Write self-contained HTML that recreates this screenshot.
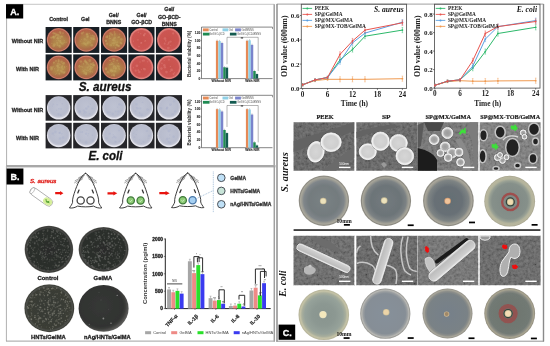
<!DOCTYPE html>
<html><head><meta charset="utf-8"><style>html,body{margin:0;padding:0;background:#fff;}svg{display:block;filter:blur(0.3px);}</style></head>
<body><svg width="550" height="346" viewBox="0 0 550 346"><defs><radialGradient id="gS" cx="50%" cy="50%" r="50%"><stop offset="0" stop-color="#ae8e52"/><stop offset="0.45" stop-color="#a8804a"/><stop offset="0.72" stop-color="#a66846"/><stop offset="0.86" stop-color="#ac6248"/><stop offset="0.93" stop-color="#d08070"/><stop offset="1" stop-color="#b46858"/></radialGradient>
<linearGradient id="ovS" x1="0" y1="0" x2="0.3" y2="1"><stop offset="0" stop-color="#c85a48" stop-opacity="0.5"/><stop offset="0.45" stop-color="#c07048" stop-opacity="0.25"/><stop offset="0.75" stop-color="#c8a050" stop-opacity="0.3"/><stop offset="1" stop-color="#c8a050" stop-opacity="0.1"/></linearGradient>
<radialGradient id="gR" cx="50%" cy="50%" r="50%"><stop offset="0" stop-color="#c8524e"/><stop offset="0.8" stop-color="#cc5652"/><stop offset="0.93" stop-color="#e28480"/><stop offset="1" stop-color="#d0706a"/></radialGradient>
<radialGradient id="gE" cx="50%" cy="45%" r="55%"><stop offset="0" stop-color="#bec2d2"/><stop offset="0.7" stop-color="#b8bccd"/><stop offset="0.82" stop-color="#c4c6d4"/><stop offset="0.9" stop-color="#e6e6ee"/><stop offset="1" stop-color="#d8d8e0"/></radialGradient>
<filter id="bl" x="-5%" y="-5%" width="110%" height="110%"><feGaussianBlur stdDeviation="0.45"/></filter>
<filter id="bl2" x="-5%" y="-5%" width="110%" height="110%"><feGaussianBlur stdDeviation="0.8"/></filter><filter id="bl4" x="-30%" y="-30%" width="160%" height="160%"><feGaussianBlur stdDeviation="0.6"/></filter><filter id="bl3" x="-5%" y="-5%" width="110%" height="110%"><feGaussianBlur stdDeviation="0.35"/></filter>
<filter id="noise" x="0" y="0" width="100%" height="100%"><feTurbulence type="fractalNoise" baseFrequency="0.35" numOctaves="3" seed="5"/><feColorMatrix type="matrix" values="1 0 0 0 -0.12  1 0 0 0 -0.12  1 0 0 0 -0.12  0 0 0 0 0.25"/></filter><radialGradient id="gB" cx="50%" cy="50%" r="50%"><stop offset="0" stop-color="#2a2c2a"/><stop offset="0.86" stop-color="#2c2e2c"/><stop offset="0.92" stop-color="#474845"/><stop offset="0.96" stop-color="#383936"/><stop offset="1" stop-color="#6e6e6a"/></radialGradient>
<radialGradient id="gB3" cx="50%" cy="50%" r="50%"><stop offset="0" stop-color="#383a34"/><stop offset="0.86" stop-color="#3a3c36"/><stop offset="0.93" stop-color="#4e504a"/><stop offset="0.97" stop-color="#3c3e38"/><stop offset="1" stop-color="#7a7a74"/></radialGradient>
<radialGradient id="gB4" cx="45%" cy="45%" r="55%"><stop offset="0" stop-color="#363836"/><stop offset="0.8" stop-color="#313331"/><stop offset="0.88" stop-color="#3a3b39"/><stop offset="0.94" stop-color="#4a4a48"/><stop offset="1" stop-color="#5a5a58"/></radialGradient><radialGradient id="cell" cx="50%" cy="50%" r="50%"><stop offset="0" stop-color="#d6d6d6"/><stop offset="0.7" stop-color="#cecece"/><stop offset="0.86" stop-color="#e6e6e6"/><stop offset="1" stop-color="#fafafa"/></radialGradient>
<radialGradient id="cell2" cx="50%" cy="50%" r="50%"><stop offset="0" stop-color="#9c9c9c"/><stop offset="0.55" stop-color="#a8a8a8"/><stop offset="0.8" stop-color="#d8d8d8"/><stop offset="1" stop-color="#f2f2f2"/></radialGradient>
<linearGradient id="rodg" x1="0" y1="0" x2="0" y2="1"><stop offset="0" stop-color="#f0f0f0"/><stop offset="0.2" stop-color="#cfcfcf"/><stop offset="0.8" stop-color="#bdbdbd"/><stop offset="1" stop-color="#ececec"/></linearGradient><radialGradient id="p1" cx="50%" cy="50%" r="50%"><stop offset="0" stop-color="#7a8284"/><stop offset="0.6" stop-color="#737b7e"/><stop offset="0.8" stop-color="#80868a"/><stop offset="0.88" stop-color="#9c9c94"/><stop offset="0.93" stop-color="#aaa89c"/><stop offset="0.97" stop-color="#8e8c84"/><stop offset="1" stop-color="#9a988e"/></radialGradient>
<radialGradient id="p2" cx="50%" cy="50%" r="50%"><stop offset="0" stop-color="#737b7e"/><stop offset="0.6" stop-color="#6c7478"/><stop offset="0.8" stop-color="#7c8284"/><stop offset="0.88" stop-color="#9a9a92"/><stop offset="0.93" stop-color="#a8a69a"/><stop offset="0.97" stop-color="#8a8880"/><stop offset="1" stop-color="#9a988e"/></radialGradient>
<radialGradient id="p3" cx="50%" cy="50%" r="50%"><stop offset="0" stop-color="#646e74"/><stop offset="0.55" stop-color="#687076"/><stop offset="0.8" stop-color="#7e8484"/><stop offset="0.88" stop-color="#9e9c92"/><stop offset="0.93" stop-color="#aaa89c"/><stop offset="0.97" stop-color="#8c8a82"/><stop offset="1" stop-color="#a09e94"/></radialGradient>
<radialGradient id="p4" cx="50%" cy="50%" r="50%"><stop offset="0" stop-color="#7e8884"/><stop offset="0.7" stop-color="#86908a"/><stop offset="0.8" stop-color="#98a094"/><stop offset="0.88" stop-color="#b4b49c"/><stop offset="0.95" stop-color="#b8b69e"/><stop offset="1" stop-color="#a4a28c"/></radialGradient>
<radialGradient id="pe1" cx="50%" cy="50%" r="50%"><stop offset="0" stop-color="#88948e"/><stop offset="0.45" stop-color="#8c9892"/><stop offset="0.75" stop-color="#96a29a"/><stop offset="0.86" stop-color="#a8ae9c"/><stop offset="0.93" stop-color="#c4c2a6"/><stop offset="1" stop-color="#b4b298"/></radialGradient>
<radialGradient id="pe2" cx="50%" cy="50%" r="50%"><stop offset="0" stop-color="#86909a"/><stop offset="0.8" stop-color="#868e96"/><stop offset="0.88" stop-color="#9a9ea0"/><stop offset="0.94" stop-color="#b8b8b4"/><stop offset="1" stop-color="#8e8e8a"/></radialGradient>
<radialGradient id="pe3" cx="50%" cy="50%" r="50%"><stop offset="0" stop-color="#76808a"/><stop offset="0.8" stop-color="#7a8286"/><stop offset="0.88" stop-color="#8c8e8a"/><stop offset="0.94" stop-color="#a8a69a"/><stop offset="1" stop-color="#8e8c84"/></radialGradient>
<radialGradient id="pe4" cx="50%" cy="50%" r="50%"><stop offset="0" stop-color="#6c746e"/><stop offset="0.8" stop-color="#727a74"/><stop offset="0.88" stop-color="#8a8c84"/><stop offset="0.94" stop-color="#a8a490"/><stop offset="1" stop-color="#8e8a7c"/></radialGradient></defs><rect width="550" height="346" fill="#fff"/><line x1="6.5" y1="4.3" x2="274.3" y2="4.3" stroke="#b8b8b8" stroke-width="0.8" /><line x1="6.6" y1="4.3" x2="6.6" y2="166" stroke="#b0b0b0" stroke-width="1" /><line x1="274.2" y1="4.3" x2="274.2" y2="166" stroke="#a0a0a0" stroke-width="1.5" /><rect x="6" y="165" width="269.5" height="2.4" fill="#a8a8a8" /><rect x="6" y="4.2" width="17.2" height="14.3" fill="#000" /><text x="10.2" y="15.2" font-family="Liberation Sans" font-size="9" font-weight="bold" font-style="normal" fill="#fff" text-anchor="start" stroke="#fff" stroke-width="0.3" >A.</text><text x="58.6" y="20.5" font-family="Liberation Sans" font-size="5.3" font-weight="bold" font-style="normal" fill="#2a2a2a" text-anchor="middle" stroke="#2a2a2a" stroke-width="0.3" >Control</text><text x="85.3" y="20.5" font-family="Liberation Sans" font-size="5.3" font-weight="bold" font-style="normal" fill="#2a2a2a" text-anchor="middle" stroke="#2a2a2a" stroke-width="0.3" >Gel</text><text x="113.7" y="17.2" font-family="Liberation Sans" font-size="5.3" font-weight="bold" font-style="normal" fill="#2a2a2a" text-anchor="middle" stroke="#2a2a2a" stroke-width="0.3" >Gel/</text><text x="113.7" y="23.6" font-family="Liberation Sans" font-size="5.3" font-weight="bold" font-style="normal" fill="#2a2a2a" text-anchor="middle" stroke="#2a2a2a" stroke-width="0.3" >BNNS</text><text x="141.6" y="17.2" font-family="Liberation Sans" font-size="5.3" font-weight="bold" font-style="normal" fill="#2a2a2a" text-anchor="middle" stroke="#2a2a2a" stroke-width="0.3" >Gel/</text><text x="141.6" y="23.9" font-family="Liberation Sans" font-size="5.3" font-weight="bold" font-style="normal" fill="#2a2a2a" text-anchor="middle" stroke="#2a2a2a" stroke-width="0.3" >GO-βCD</text><text x="169.3" y="11.4" font-family="Liberation Sans" font-size="5.3" font-weight="bold" font-style="normal" fill="#2a2a2a" text-anchor="middle" stroke="#2a2a2a" stroke-width="0.3" >Gel/</text><text x="169.3" y="18.6" font-family="Liberation Sans" font-size="5.3" font-weight="bold" font-style="normal" fill="#2a2a2a" text-anchor="middle" stroke="#2a2a2a" stroke-width="0.3" >GO-βCD-</text><text x="169.3" y="25.9" font-family="Liberation Sans" font-size="5.3" font-weight="bold" font-style="normal" fill="#2a2a2a" text-anchor="middle" stroke="#2a2a2a" stroke-width="0.3" >BNNS</text><text x="27.5" y="42.6" font-family="Liberation Sans" font-size="5.5" font-weight="bold" font-style="normal" fill="#2a2a2a" text-anchor="middle" stroke="#2a2a2a" stroke-width="0.3" >Without NIR</text><text x="27.5" y="70.5" font-family="Liberation Sans" font-size="5.5" font-weight="bold" font-style="normal" fill="#2a2a2a" text-anchor="middle" stroke="#2a2a2a" stroke-width="0.3" >With NIR</text><text x="27.5" y="111.9" font-family="Liberation Sans" font-size="5.5" font-weight="bold" font-style="normal" fill="#2a2a2a" text-anchor="middle" stroke="#2a2a2a" stroke-width="0.3" >Without NIR</text><text x="27.5" y="139.9" font-family="Liberation Sans" font-size="5.5" font-weight="bold" font-style="normal" fill="#2a2a2a" text-anchor="middle" stroke="#2a2a2a" stroke-width="0.3" >With NIR</text><rect x="45.6" y="27.0" width="26.1" height="25.9" fill="#181e24" /><g filter="url(#bl)"><circle cx="58.650000000000006" cy="39.95" r="11.85" fill="url(#gS)"/><circle cx="58.650000000000006" cy="39.95" r="10.65" fill="url(#ovS)"/><circle cx="57.2" cy="42.9" r="1.1" fill="#c4a460" opacity="0.45"/><circle cx="64.1" cy="42.6" r="0.8" fill="#c4a460" opacity="0.45"/><circle cx="64.2" cy="42.1" r="0.5" fill="#c4a460" opacity="0.45"/><circle cx="56.6" cy="40.8" r="0.6" fill="#c4a460" opacity="0.45"/><circle cx="51.9" cy="43.4" r="0.6" fill="#c4a460" opacity="0.45"/><circle cx="59.8" cy="46.5" r="1.4" fill="#c4a460" opacity="0.45"/><circle cx="54.0" cy="37.5" r="1.4" fill="#c4a460" opacity="0.45"/><circle cx="66.1" cy="42.2" r="0.8" fill="#c4a460" opacity="0.45"/><circle cx="60.4" cy="42.2" r="0.8" fill="#c4a460" opacity="0.45"/><circle cx="60.1" cy="36.7" r="1.0" fill="#c4a460" opacity="0.45"/><circle cx="55.4" cy="36.0" r="1.0" fill="#c4a460" opacity="0.45"/><circle cx="60.5" cy="40.7" r="0.7" fill="#c4a460" opacity="0.45"/><circle cx="56.3" cy="35.0" r="0.8" fill="#c4a460" opacity="0.45"/><circle cx="53.8" cy="37.1" r="0.8" fill="#c4a460" opacity="0.45"/><circle cx="60.6" cy="33.2" r="0.7" fill="#c4a460" opacity="0.45"/><circle cx="53.2" cy="37.2" r="1.3" fill="#c4a460" opacity="0.45"/><circle cx="58.1" cy="35.5" r="1.4" fill="#c4a460" opacity="0.45"/><circle cx="62.6" cy="43.6" r="1.2" fill="#c4a460" opacity="0.45"/><circle cx="62.0" cy="44.7" r="0.5" fill="#c4a460" opacity="0.45"/><circle cx="55.1" cy="33.6" r="1.0" fill="#c4a460" opacity="0.45"/><circle cx="62.0" cy="36.7" r="1.1" fill="#c4a460" opacity="0.45"/><circle cx="53.4" cy="36.4" r="0.9" fill="#c4a460" opacity="0.45"/><circle cx="63.0" cy="33.1" r="0.9" fill="#c4a460" opacity="0.45"/><circle cx="57.6" cy="38.2" r="1.1" fill="#c4a460" opacity="0.45"/><circle cx="53.6" cy="33.3" r="1.2" fill="#c4a460" opacity="0.45"/><circle cx="57.5" cy="45.0" r="1.1" fill="#c4a460" opacity="0.45"/><circle cx="64.3" cy="40.8" r="0.7" fill="#c4a460" opacity="0.45"/><circle cx="60.2" cy="41.3" r="1.2" fill="#c4a460" opacity="0.45"/><circle cx="61.5" cy="43.0" r="0.9" fill="#c4a460" opacity="0.45"/><circle cx="60.3" cy="38.2" r="0.9" fill="#c4a460" opacity="0.45"/><circle cx="51.2" cy="37.6" r="1.2" fill="#c4a460" opacity="0.45"/><circle cx="61.5" cy="36.6" r="0.9" fill="#c4a460" opacity="0.45"/><circle cx="53.7" cy="46.0" r="1.4" fill="#c4a460" opacity="0.45"/><circle cx="60.7" cy="42.8" r="0.7" fill="#c4a460" opacity="0.45"/><circle cx="59.3" cy="45.7" r="1.0" fill="#c4a460" opacity="0.45"/><circle cx="58.6" cy="40.5" r="0.9" fill="#c4a460" opacity="0.45"/><circle cx="54.4" cy="44.6" r="1.4" fill="#c4a460" opacity="0.45"/><circle cx="56.5" cy="34.4" r="1.1" fill="#c4a460" opacity="0.45"/><circle cx="57.8" cy="38.2" r="1.3" fill="#c4a460" opacity="0.45"/><circle cx="60.1" cy="32.3" r="1.2" fill="#c4a460" opacity="0.45"/></g><rect x="73.2" y="27.0" width="26.1" height="25.9" fill="#181e24" /><g filter="url(#bl)"><circle cx="86.25" cy="39.95" r="11.85" fill="url(#gS)"/><circle cx="86.25" cy="39.95" r="10.65" fill="url(#ovS)"/><circle cx="82.1" cy="43.3" r="0.6" fill="#c4a460" opacity="0.45"/><circle cx="84.9" cy="38.4" r="0.6" fill="#c4a460" opacity="0.45"/><circle cx="87.1" cy="43.2" r="0.8" fill="#c4a460" opacity="0.45"/><circle cx="86.4" cy="40.0" r="0.6" fill="#c4a460" opacity="0.45"/><circle cx="90.3" cy="42.9" r="0.5" fill="#c4a460" opacity="0.45"/><circle cx="90.9" cy="35.3" r="0.6" fill="#c4a460" opacity="0.45"/><circle cx="86.2" cy="44.9" r="0.8" fill="#c4a460" opacity="0.45"/><circle cx="91.8" cy="45.3" r="1.4" fill="#c4a460" opacity="0.45"/><circle cx="80.6" cy="41.2" r="0.6" fill="#c4a460" opacity="0.45"/><circle cx="90.2" cy="42.9" r="0.7" fill="#c4a460" opacity="0.45"/><circle cx="87.8" cy="37.0" r="0.5" fill="#c4a460" opacity="0.45"/><circle cx="92.0" cy="38.1" r="0.6" fill="#c4a460" opacity="0.45"/><circle cx="84.9" cy="39.6" r="1.0" fill="#c4a460" opacity="0.45"/><circle cx="93.9" cy="38.9" r="1.1" fill="#c4a460" opacity="0.45"/><circle cx="85.9" cy="45.0" r="0.7" fill="#c4a460" opacity="0.45"/><circle cx="87.1" cy="33.9" r="1.2" fill="#c4a460" opacity="0.45"/><circle cx="84.4" cy="43.4" r="1.2" fill="#c4a460" opacity="0.45"/><circle cx="93.9" cy="39.2" r="1.2" fill="#c4a460" opacity="0.45"/><circle cx="89.2" cy="33.4" r="0.7" fill="#c4a460" opacity="0.45"/><circle cx="81.3" cy="39.4" r="0.5" fill="#c4a460" opacity="0.45"/><circle cx="90.6" cy="40.7" r="0.7" fill="#c4a460" opacity="0.45"/><circle cx="83.4" cy="32.3" r="0.9" fill="#c4a460" opacity="0.45"/><circle cx="93.9" cy="36.7" r="1.4" fill="#c4a460" opacity="0.45"/><circle cx="83.7" cy="42.9" r="0.7" fill="#c4a460" opacity="0.45"/><circle cx="87.5" cy="43.5" r="1.1" fill="#c4a460" opacity="0.45"/><circle cx="92.5" cy="35.5" r="0.9" fill="#c4a460" opacity="0.45"/><circle cx="82.0" cy="33.8" r="0.6" fill="#c4a460" opacity="0.45"/><circle cx="82.0" cy="33.2" r="1.2" fill="#c4a460" opacity="0.45"/><circle cx="86.3" cy="34.2" r="0.7" fill="#c4a460" opacity="0.45"/><circle cx="87.4" cy="35.3" r="1.2" fill="#c4a460" opacity="0.45"/><circle cx="91.4" cy="39.0" r="0.9" fill="#c4a460" opacity="0.45"/><circle cx="93.0" cy="37.6" r="0.7" fill="#c4a460" opacity="0.45"/><circle cx="88.5" cy="42.3" r="1.3" fill="#c4a460" opacity="0.45"/><circle cx="87.4" cy="37.0" r="1.2" fill="#c4a460" opacity="0.45"/><circle cx="93.0" cy="39.1" r="0.8" fill="#c4a460" opacity="0.45"/><circle cx="83.4" cy="39.0" r="0.5" fill="#c4a460" opacity="0.45"/><circle cx="92.9" cy="38.7" r="1.0" fill="#c4a460" opacity="0.45"/><circle cx="91.3" cy="37.7" r="1.3" fill="#c4a460" opacity="0.45"/><circle cx="88.0" cy="36.5" r="0.7" fill="#c4a460" opacity="0.45"/><circle cx="85.2" cy="43.9" r="1.0" fill="#c4a460" opacity="0.45"/></g><rect x="101.0" y="27.0" width="26.1" height="25.9" fill="#181e24" /><g filter="url(#bl)"><circle cx="114.05" cy="39.95" r="11.85" fill="url(#gS)"/><circle cx="114.05" cy="39.95" r="10.65" fill="url(#ovS)"/><circle cx="113.7" cy="45.3" r="0.6" fill="#c4a460" opacity="0.45"/><circle cx="118.2" cy="37.3" r="0.9" fill="#c4a460" opacity="0.45"/><circle cx="107.2" cy="36.0" r="0.9" fill="#c4a460" opacity="0.45"/><circle cx="119.2" cy="37.0" r="1.0" fill="#c4a460" opacity="0.45"/><circle cx="112.9" cy="39.8" r="0.9" fill="#c4a460" opacity="0.45"/><circle cx="114.3" cy="40.4" r="1.2" fill="#c4a460" opacity="0.45"/><circle cx="116.7" cy="45.0" r="1.2" fill="#c4a460" opacity="0.45"/><circle cx="109.6" cy="38.3" r="1.0" fill="#c4a460" opacity="0.45"/><circle cx="107.1" cy="37.4" r="0.6" fill="#c4a460" opacity="0.45"/><circle cx="110.2" cy="38.4" r="0.7" fill="#c4a460" opacity="0.45"/><circle cx="114.9" cy="34.1" r="1.0" fill="#c4a460" opacity="0.45"/><circle cx="114.5" cy="32.0" r="0.9" fill="#c4a460" opacity="0.45"/><circle cx="109.5" cy="36.1" r="1.0" fill="#c4a460" opacity="0.45"/><circle cx="112.1" cy="34.7" r="1.0" fill="#c4a460" opacity="0.45"/><circle cx="106.0" cy="41.1" r="1.1" fill="#c4a460" opacity="0.45"/><circle cx="119.8" cy="34.3" r="0.7" fill="#c4a460" opacity="0.45"/><circle cx="106.5" cy="37.0" r="1.3" fill="#c4a460" opacity="0.45"/><circle cx="115.9" cy="42.2" r="0.9" fill="#c4a460" opacity="0.45"/><circle cx="117.7" cy="41.8" r="0.6" fill="#c4a460" opacity="0.45"/><circle cx="110.5" cy="33.5" r="1.3" fill="#c4a460" opacity="0.45"/><circle cx="118.0" cy="45.8" r="1.1" fill="#c4a460" opacity="0.45"/><circle cx="118.9" cy="46.1" r="1.4" fill="#c4a460" opacity="0.45"/><circle cx="115.6" cy="48.0" r="0.9" fill="#c4a460" opacity="0.45"/><circle cx="105.8" cy="40.6" r="1.2" fill="#c4a460" opacity="0.45"/><circle cx="116.9" cy="44.6" r="1.0" fill="#c4a460" opacity="0.45"/><circle cx="112.1" cy="43.1" r="0.8" fill="#c4a460" opacity="0.45"/><circle cx="113.8" cy="38.8" r="1.0" fill="#c4a460" opacity="0.45"/><circle cx="113.0" cy="40.4" r="0.8" fill="#c4a460" opacity="0.45"/><circle cx="109.8" cy="35.8" r="0.6" fill="#c4a460" opacity="0.45"/><circle cx="121.4" cy="39.3" r="1.4" fill="#c4a460" opacity="0.45"/><circle cx="117.5" cy="42.6" r="0.5" fill="#c4a460" opacity="0.45"/><circle cx="114.8" cy="35.7" r="0.6" fill="#c4a460" opacity="0.45"/><circle cx="107.0" cy="43.7" r="1.2" fill="#c4a460" opacity="0.45"/><circle cx="113.9" cy="43.2" r="1.3" fill="#c4a460" opacity="0.45"/><circle cx="107.7" cy="37.0" r="0.6" fill="#c4a460" opacity="0.45"/><circle cx="120.5" cy="42.4" r="0.9" fill="#c4a460" opacity="0.45"/><circle cx="121.3" cy="43.5" r="1.1" fill="#c4a460" opacity="0.45"/><circle cx="114.8" cy="37.7" r="1.3" fill="#c4a460" opacity="0.45"/><circle cx="121.1" cy="43.1" r="0.9" fill="#c4a460" opacity="0.45"/><circle cx="110.8" cy="45.2" r="1.3" fill="#c4a460" opacity="0.45"/></g><rect x="128.4" y="27.0" width="26.1" height="25.9" fill="#181e24" /><g filter="url(#bl)"><circle cx="141.45000000000002" cy="39.95" r="11.85" fill="url(#gR)"/><circle cx="141.1" cy="42.9" r="1.0" fill="#e0807a" opacity="0.45"/><circle cx="141.7" cy="42.7" r="0.6" fill="#e0807a" opacity="0.45"/><circle cx="145.0" cy="41.1" r="0.8" fill="#e0807a" opacity="0.45"/><circle cx="139.0" cy="46.8" r="0.8" fill="#e0807a" opacity="0.45"/><circle cx="137.9" cy="39.9" r="0.8" fill="#e0807a" opacity="0.45"/><circle cx="145.6" cy="40.4" r="0.5" fill="#e0807a" opacity="0.45"/><circle cx="140.8" cy="33.8" r="0.7" fill="#e0807a" opacity="0.45"/><circle cx="133.5" cy="41.2" r="0.6" fill="#e0807a" opacity="0.45"/><circle cx="143.8" cy="35.0" r="0.9" fill="#e0807a" opacity="0.45"/><circle cx="144.1" cy="35.4" r="1.0" fill="#e0807a" opacity="0.45"/><circle cx="138.3" cy="32.3" r="0.8" fill="#e0807a" opacity="0.45"/><circle cx="144.9" cy="33.8" r="1.1" fill="#e0807a" opacity="0.45"/></g><rect x="155.9" y="27.0" width="26.1" height="25.9" fill="#181e24" /><g filter="url(#bl)"><circle cx="168.95000000000002" cy="39.95" r="11.85" fill="url(#gR)"/><circle cx="164.9" cy="42.7" r="0.5" fill="#e0807a" opacity="0.45"/><circle cx="170.5" cy="41.6" r="1.2" fill="#e0807a" opacity="0.45"/><circle cx="168.8" cy="43.3" r="0.6" fill="#e0807a" opacity="0.45"/><circle cx="173.2" cy="33.4" r="1.1" fill="#e0807a" opacity="0.45"/><circle cx="168.1" cy="44.0" r="0.8" fill="#e0807a" opacity="0.45"/><circle cx="165.7" cy="40.8" r="0.9" fill="#e0807a" opacity="0.45"/><circle cx="168.3" cy="48.1" r="1.4" fill="#e0807a" opacity="0.45"/><circle cx="165.0" cy="38.7" r="1.4" fill="#e0807a" opacity="0.45"/><circle cx="167.1" cy="44.6" r="0.5" fill="#e0807a" opacity="0.45"/><circle cx="164.7" cy="43.8" r="1.0" fill="#e0807a" opacity="0.45"/><circle cx="170.7" cy="45.6" r="0.5" fill="#e0807a" opacity="0.45"/><circle cx="168.7" cy="42.4" r="0.9" fill="#e0807a" opacity="0.45"/></g><rect x="45.6" y="54.4" width="26.1" height="26.0" fill="#181e24" /><g filter="url(#bl)"><circle cx="58.650000000000006" cy="67.4" r="11.9" fill="url(#gS)"/><circle cx="58.650000000000006" cy="67.4" r="10.700000000000001" fill="url(#ovS)"/><circle cx="59.9" cy="67.7" r="0.8" fill="#c4a460" opacity="0.45"/><circle cx="59.3" cy="73.8" r="1.0" fill="#c4a460" opacity="0.45"/><circle cx="58.7" cy="60.6" r="1.1" fill="#c4a460" opacity="0.45"/><circle cx="62.5" cy="63.8" r="0.8" fill="#c4a460" opacity="0.45"/><circle cx="61.9" cy="67.1" r="1.2" fill="#c4a460" opacity="0.45"/><circle cx="57.6" cy="66.0" r="1.3" fill="#c4a460" opacity="0.45"/><circle cx="63.8" cy="63.2" r="1.2" fill="#c4a460" opacity="0.45"/><circle cx="59.8" cy="64.5" r="1.0" fill="#c4a460" opacity="0.45"/><circle cx="51.0" cy="67.2" r="1.2" fill="#c4a460" opacity="0.45"/><circle cx="61.6" cy="61.7" r="1.3" fill="#c4a460" opacity="0.45"/><circle cx="55.8" cy="61.0" r="0.7" fill="#c4a460" opacity="0.45"/><circle cx="61.7" cy="68.0" r="0.8" fill="#c4a460" opacity="0.45"/><circle cx="64.7" cy="72.1" r="1.0" fill="#c4a460" opacity="0.45"/><circle cx="54.0" cy="62.6" r="1.1" fill="#c4a460" opacity="0.45"/><circle cx="58.2" cy="67.4" r="1.2" fill="#c4a460" opacity="0.45"/><circle cx="58.6" cy="61.4" r="1.0" fill="#c4a460" opacity="0.45"/><circle cx="57.5" cy="65.6" r="1.2" fill="#c4a460" opacity="0.45"/><circle cx="58.6" cy="69.7" r="0.7" fill="#c4a460" opacity="0.45"/><circle cx="58.2" cy="63.6" r="1.2" fill="#c4a460" opacity="0.45"/><circle cx="64.5" cy="66.5" r="0.8" fill="#c4a460" opacity="0.45"/><circle cx="51.8" cy="68.3" r="1.2" fill="#c4a460" opacity="0.45"/><circle cx="53.7" cy="62.9" r="0.6" fill="#c4a460" opacity="0.45"/><circle cx="61.2" cy="70.8" r="1.2" fill="#c4a460" opacity="0.45"/><circle cx="56.5" cy="73.4" r="0.5" fill="#c4a460" opacity="0.45"/><circle cx="62.7" cy="69.0" r="1.1" fill="#c4a460" opacity="0.45"/><circle cx="56.2" cy="60.9" r="0.8" fill="#c4a460" opacity="0.45"/><circle cx="53.0" cy="66.8" r="0.9" fill="#c4a460" opacity="0.45"/><circle cx="64.5" cy="72.8" r="0.7" fill="#c4a460" opacity="0.45"/><circle cx="66.7" cy="66.3" r="0.5" fill="#c4a460" opacity="0.45"/><circle cx="51.3" cy="69.3" r="1.4" fill="#c4a460" opacity="0.45"/><circle cx="54.5" cy="68.8" r="0.7" fill="#c4a460" opacity="0.45"/><circle cx="62.3" cy="66.1" r="1.0" fill="#c4a460" opacity="0.45"/><circle cx="62.5" cy="72.1" r="1.4" fill="#c4a460" opacity="0.45"/><circle cx="63.8" cy="73.0" r="1.0" fill="#c4a460" opacity="0.45"/><circle cx="64.0" cy="62.8" r="0.7" fill="#c4a460" opacity="0.45"/><circle cx="63.3" cy="63.9" r="0.5" fill="#c4a460" opacity="0.45"/><circle cx="64.5" cy="67.5" r="0.9" fill="#c4a460" opacity="0.45"/><circle cx="57.6" cy="70.4" r="0.8" fill="#c4a460" opacity="0.45"/><circle cx="55.5" cy="74.4" r="0.5" fill="#c4a460" opacity="0.45"/><circle cx="58.7" cy="59.7" r="0.6" fill="#c4a460" opacity="0.45"/></g><rect x="73.2" y="54.4" width="26.1" height="26.0" fill="#181e24" /><g filter="url(#bl)"><circle cx="86.25" cy="67.4" r="11.9" fill="url(#gS)"/><circle cx="86.25" cy="67.4" r="10.700000000000001" fill="url(#ovS)"/><circle cx="92.6" cy="64.2" r="1.3" fill="#c4a460" opacity="0.45"/><circle cx="85.0" cy="72.4" r="0.9" fill="#c4a460" opacity="0.45"/><circle cx="92.7" cy="67.3" r="0.8" fill="#c4a460" opacity="0.45"/><circle cx="82.3" cy="69.3" r="0.5" fill="#c4a460" opacity="0.45"/><circle cx="92.4" cy="72.0" r="0.8" fill="#c4a460" opacity="0.45"/><circle cx="90.1" cy="65.7" r="0.7" fill="#c4a460" opacity="0.45"/><circle cx="82.6" cy="67.1" r="0.8" fill="#c4a460" opacity="0.45"/><circle cx="93.9" cy="65.3" r="1.2" fill="#c4a460" opacity="0.45"/><circle cx="80.8" cy="61.5" r="1.3" fill="#c4a460" opacity="0.45"/><circle cx="79.5" cy="65.2" r="0.5" fill="#c4a460" opacity="0.45"/><circle cx="85.6" cy="61.8" r="1.2" fill="#c4a460" opacity="0.45"/><circle cx="83.5" cy="63.9" r="0.5" fill="#c4a460" opacity="0.45"/><circle cx="88.9" cy="66.1" r="0.9" fill="#c4a460" opacity="0.45"/><circle cx="83.7" cy="71.2" r="1.2" fill="#c4a460" opacity="0.45"/><circle cx="90.5" cy="66.8" r="1.1" fill="#c4a460" opacity="0.45"/><circle cx="84.3" cy="73.4" r="0.9" fill="#c4a460" opacity="0.45"/><circle cx="87.9" cy="70.3" r="0.7" fill="#c4a460" opacity="0.45"/><circle cx="91.2" cy="64.1" r="0.7" fill="#c4a460" opacity="0.45"/><circle cx="93.2" cy="62.7" r="0.9" fill="#c4a460" opacity="0.45"/><circle cx="88.6" cy="70.2" r="0.6" fill="#c4a460" opacity="0.45"/><circle cx="84.9" cy="69.5" r="0.7" fill="#c4a460" opacity="0.45"/><circle cx="85.9" cy="73.7" r="1.3" fill="#c4a460" opacity="0.45"/><circle cx="86.2" cy="62.0" r="0.9" fill="#c4a460" opacity="0.45"/><circle cx="81.2" cy="66.6" r="0.8" fill="#c4a460" opacity="0.45"/><circle cx="90.3" cy="69.1" r="1.4" fill="#c4a460" opacity="0.45"/><circle cx="90.4" cy="71.6" r="1.1" fill="#c4a460" opacity="0.45"/><circle cx="88.8" cy="64.4" r="0.7" fill="#c4a460" opacity="0.45"/><circle cx="86.3" cy="72.7" r="0.9" fill="#c4a460" opacity="0.45"/><circle cx="93.7" cy="65.2" r="1.3" fill="#c4a460" opacity="0.45"/><circle cx="87.7" cy="67.6" r="1.1" fill="#c4a460" opacity="0.45"/><circle cx="90.8" cy="63.9" r="1.0" fill="#c4a460" opacity="0.45"/><circle cx="91.5" cy="67.4" r="1.3" fill="#c4a460" opacity="0.45"/><circle cx="89.8" cy="60.5" r="1.4" fill="#c4a460" opacity="0.45"/><circle cx="86.3" cy="70.2" r="0.6" fill="#c4a460" opacity="0.45"/><circle cx="79.4" cy="66.4" r="1.3" fill="#c4a460" opacity="0.45"/><circle cx="85.1" cy="60.7" r="1.2" fill="#c4a460" opacity="0.45"/><circle cx="80.2" cy="69.1" r="0.5" fill="#c4a460" opacity="0.45"/><circle cx="87.1" cy="63.4" r="1.3" fill="#c4a460" opacity="0.45"/><circle cx="83.4" cy="63.7" r="0.6" fill="#c4a460" opacity="0.45"/><circle cx="86.2" cy="74.1" r="1.1" fill="#c4a460" opacity="0.45"/></g><rect x="101.0" y="54.4" width="26.1" height="26.0" fill="#181e24" /><g filter="url(#bl)"><circle cx="114.05" cy="67.4" r="11.9" fill="url(#gS)"/><circle cx="114.05" cy="67.4" r="10.700000000000001" fill="url(#ovS)"/><circle cx="115.7" cy="68.8" r="1.0" fill="#c4a460" opacity="0.45"/><circle cx="109.5" cy="64.8" r="0.7" fill="#c4a460" opacity="0.45"/><circle cx="113.4" cy="66.9" r="0.8" fill="#c4a460" opacity="0.45"/><circle cx="106.1" cy="69.4" r="1.1" fill="#c4a460" opacity="0.45"/><circle cx="118.4" cy="63.5" r="0.7" fill="#c4a460" opacity="0.45"/><circle cx="114.2" cy="75.6" r="1.1" fill="#c4a460" opacity="0.45"/><circle cx="113.6" cy="68.6" r="0.9" fill="#c4a460" opacity="0.45"/><circle cx="111.6" cy="62.6" r="0.7" fill="#c4a460" opacity="0.45"/><circle cx="110.0" cy="60.4" r="0.7" fill="#c4a460" opacity="0.45"/><circle cx="118.8" cy="68.4" r="0.9" fill="#c4a460" opacity="0.45"/><circle cx="112.5" cy="64.0" r="1.2" fill="#c4a460" opacity="0.45"/><circle cx="113.6" cy="61.4" r="0.7" fill="#c4a460" opacity="0.45"/><circle cx="118.7" cy="66.5" r="1.2" fill="#c4a460" opacity="0.45"/><circle cx="114.5" cy="71.3" r="1.2" fill="#c4a460" opacity="0.45"/><circle cx="111.8" cy="75.3" r="0.9" fill="#c4a460" opacity="0.45"/><circle cx="115.6" cy="71.1" r="0.9" fill="#c4a460" opacity="0.45"/><circle cx="109.9" cy="60.4" r="0.6" fill="#c4a460" opacity="0.45"/><circle cx="111.0" cy="69.8" r="1.4" fill="#c4a460" opacity="0.45"/><circle cx="115.3" cy="68.9" r="0.6" fill="#c4a460" opacity="0.45"/><circle cx="107.8" cy="72.3" r="1.3" fill="#c4a460" opacity="0.45"/><circle cx="113.1" cy="59.1" r="1.3" fill="#c4a460" opacity="0.45"/><circle cx="112.3" cy="70.6" r="1.3" fill="#c4a460" opacity="0.45"/><circle cx="114.0" cy="65.9" r="1.1" fill="#c4a460" opacity="0.45"/><circle cx="110.3" cy="70.9" r="0.8" fill="#c4a460" opacity="0.45"/><circle cx="114.3" cy="67.8" r="0.8" fill="#c4a460" opacity="0.45"/><circle cx="109.2" cy="74.0" r="0.6" fill="#c4a460" opacity="0.45"/><circle cx="117.8" cy="66.5" r="0.8" fill="#c4a460" opacity="0.45"/><circle cx="117.4" cy="60.5" r="0.9" fill="#c4a460" opacity="0.45"/><circle cx="119.6" cy="69.2" r="0.8" fill="#c4a460" opacity="0.45"/><circle cx="117.3" cy="65.6" r="0.8" fill="#c4a460" opacity="0.45"/><circle cx="115.2" cy="66.5" r="0.9" fill="#c4a460" opacity="0.45"/><circle cx="116.8" cy="60.6" r="0.5" fill="#c4a460" opacity="0.45"/><circle cx="116.1" cy="67.9" r="1.3" fill="#c4a460" opacity="0.45"/><circle cx="113.7" cy="74.7" r="1.3" fill="#c4a460" opacity="0.45"/><circle cx="111.7" cy="71.1" r="1.4" fill="#c4a460" opacity="0.45"/><circle cx="110.9" cy="64.5" r="1.1" fill="#c4a460" opacity="0.45"/><circle cx="112.3" cy="71.4" r="0.5" fill="#c4a460" opacity="0.45"/><circle cx="114.3" cy="59.4" r="1.1" fill="#c4a460" opacity="0.45"/><circle cx="115.3" cy="66.9" r="0.7" fill="#c4a460" opacity="0.45"/><circle cx="105.9" cy="68.7" r="1.4" fill="#c4a460" opacity="0.45"/></g><rect x="128.4" y="54.4" width="26.1" height="26.0" fill="#181e24" /><g filter="url(#bl)"><circle cx="141.45000000000002" cy="67.4" r="11.9" fill="url(#gR)"/><circle cx="138.3" cy="70.2" r="0.9" fill="#e0807a" opacity="0.45"/><circle cx="133.4" cy="67.7" r="0.7" fill="#e0807a" opacity="0.45"/><circle cx="143.8" cy="60.6" r="1.2" fill="#e0807a" opacity="0.45"/><circle cx="142.4" cy="60.9" r="0.8" fill="#e0807a" opacity="0.45"/><circle cx="139.3" cy="72.0" r="1.2" fill="#e0807a" opacity="0.45"/><circle cx="144.7" cy="69.2" r="1.2" fill="#e0807a" opacity="0.45"/><circle cx="141.5" cy="69.5" r="0.5" fill="#e0807a" opacity="0.45"/><circle cx="136.9" cy="65.8" r="1.4" fill="#e0807a" opacity="0.45"/><circle cx="147.7" cy="61.8" r="0.7" fill="#e0807a" opacity="0.45"/><circle cx="143.7" cy="68.7" r="0.9" fill="#e0807a" opacity="0.45"/><circle cx="140.0" cy="62.0" r="0.7" fill="#e0807a" opacity="0.45"/><circle cx="135.7" cy="70.7" r="1.1" fill="#e0807a" opacity="0.45"/></g><rect x="155.9" y="54.4" width="26.1" height="26.0" fill="#181e24" /><g filter="url(#bl)"><circle cx="168.95000000000002" cy="67.4" r="11.9" fill="url(#gR)"/><circle cx="168.9" cy="59.7" r="1.1" fill="#e0807a" opacity="0.45"/><circle cx="174.5" cy="72.7" r="0.8" fill="#e0807a" opacity="0.45"/><circle cx="164.3" cy="65.3" r="1.2" fill="#e0807a" opacity="0.45"/><circle cx="170.3" cy="71.4" r="0.7" fill="#e0807a" opacity="0.45"/><circle cx="173.5" cy="73.9" r="1.0" fill="#e0807a" opacity="0.45"/><circle cx="166.5" cy="72.1" r="1.4" fill="#e0807a" opacity="0.45"/><circle cx="164.9" cy="67.2" r="1.2" fill="#e0807a" opacity="0.45"/><circle cx="164.2" cy="60.5" r="0.6" fill="#e0807a" opacity="0.45"/><circle cx="161.4" cy="68.6" r="1.3" fill="#e0807a" opacity="0.45"/><circle cx="170.4" cy="66.5" r="0.8" fill="#e0807a" opacity="0.45"/><circle cx="171.6" cy="69.9" r="1.4" fill="#e0807a" opacity="0.45"/><circle cx="161.9" cy="63.4" r="0.8" fill="#e0807a" opacity="0.45"/></g><rect x="45.6" y="95.1" width="26.1" height="25.6" fill="#26262a" /><g filter="url(#bl)"><circle cx="58.650000000000006" cy="107.89999999999999" r="11.700000000000001" fill="url(#gE)"/><circle cx="62.3" cy="103.8" r="0.7" fill="#aab2cc" opacity="0.45"/><circle cx="60.0" cy="100.0" r="0.6" fill="#aab2cc" opacity="0.45"/><circle cx="53.3" cy="104.2" r="0.7" fill="#aab2cc" opacity="0.45"/><circle cx="56.6" cy="110.2" r="0.7" fill="#aab2cc" opacity="0.45"/><circle cx="58.5" cy="114.2" r="1.1" fill="#aab2cc" opacity="0.45"/><circle cx="58.9" cy="108.7" r="0.8" fill="#aab2cc" opacity="0.45"/><circle cx="57.1" cy="104.7" r="0.8" fill="#aab2cc" opacity="0.45"/><circle cx="60.8" cy="114.9" r="1.0" fill="#aab2cc" opacity="0.45"/><circle cx="61.1" cy="108.9" r="0.9" fill="#aab2cc" opacity="0.45"/><circle cx="52.4" cy="105.9" r="0.6" fill="#aab2cc" opacity="0.45"/></g><rect x="73.2" y="95.1" width="26.1" height="25.6" fill="#26262a" /><g filter="url(#bl)"><circle cx="86.25" cy="107.89999999999999" r="11.700000000000001" fill="url(#gE)"/><circle cx="89.8" cy="113.8" r="0.9" fill="#aab2cc" opacity="0.45"/><circle cx="85.3" cy="112.3" r="1.4" fill="#aab2cc" opacity="0.45"/><circle cx="83.9" cy="113.6" r="0.8" fill="#aab2cc" opacity="0.45"/><circle cx="79.7" cy="111.7" r="1.4" fill="#aab2cc" opacity="0.45"/><circle cx="83.9" cy="110.6" r="1.2" fill="#aab2cc" opacity="0.45"/><circle cx="86.4" cy="108.5" r="1.3" fill="#aab2cc" opacity="0.45"/><circle cx="79.7" cy="111.3" r="0.9" fill="#aab2cc" opacity="0.45"/><circle cx="90.4" cy="104.2" r="0.6" fill="#aab2cc" opacity="0.45"/><circle cx="92.3" cy="108.5" r="1.1" fill="#aab2cc" opacity="0.45"/><circle cx="88.3" cy="106.6" r="1.1" fill="#aab2cc" opacity="0.45"/></g><rect x="101.0" y="95.1" width="26.1" height="25.6" fill="#26262a" /><g filter="url(#bl)"><circle cx="114.05" cy="107.89999999999999" r="11.700000000000001" fill="url(#gE)"/><circle cx="110.0" cy="112.1" r="0.6" fill="#aab2cc" opacity="0.45"/><circle cx="112.8" cy="113.7" r="1.3" fill="#aab2cc" opacity="0.45"/><circle cx="118.5" cy="111.5" r="1.2" fill="#aab2cc" opacity="0.45"/><circle cx="117.6" cy="107.1" r="0.6" fill="#aab2cc" opacity="0.45"/><circle cx="121.6" cy="105.1" r="0.9" fill="#aab2cc" opacity="0.45"/><circle cx="121.5" cy="110.5" r="0.8" fill="#aab2cc" opacity="0.45"/><circle cx="119.4" cy="104.2" r="1.2" fill="#aab2cc" opacity="0.45"/><circle cx="117.9" cy="114.0" r="0.7" fill="#aab2cc" opacity="0.45"/><circle cx="107.8" cy="112.2" r="1.2" fill="#aab2cc" opacity="0.45"/><circle cx="115.6" cy="111.4" r="0.9" fill="#aab2cc" opacity="0.45"/></g><rect x="128.4" y="95.1" width="26.1" height="25.6" fill="#26262a" /><g filter="url(#bl)"><circle cx="141.45000000000002" cy="107.89999999999999" r="11.700000000000001" fill="url(#gE)"/><circle cx="136.4" cy="107.3" r="0.6" fill="#aab2cc" opacity="0.45"/><circle cx="141.6" cy="114.9" r="1.3" fill="#aab2cc" opacity="0.45"/><circle cx="147.4" cy="109.5" r="1.2" fill="#aab2cc" opacity="0.45"/><circle cx="148.7" cy="109.7" r="0.6" fill="#aab2cc" opacity="0.45"/><circle cx="136.5" cy="104.3" r="1.1" fill="#aab2cc" opacity="0.45"/><circle cx="139.6" cy="112.9" r="1.0" fill="#aab2cc" opacity="0.45"/><circle cx="135.5" cy="110.9" r="0.9" fill="#aab2cc" opacity="0.45"/><circle cx="140.3" cy="108.4" r="1.1" fill="#aab2cc" opacity="0.45"/><circle cx="137.5" cy="108.2" r="1.2" fill="#aab2cc" opacity="0.45"/><circle cx="142.5" cy="102.4" r="0.7" fill="#aab2cc" opacity="0.45"/></g><rect x="155.9" y="95.1" width="26.1" height="25.6" fill="#26262a" /><g filter="url(#bl)"><circle cx="168.95000000000002" cy="107.89999999999999" r="11.700000000000001" fill="url(#gE)"/><circle cx="166.3" cy="108.3" r="0.6" fill="#aab2cc" opacity="0.45"/><circle cx="166.7" cy="108.9" r="0.9" fill="#aab2cc" opacity="0.45"/><circle cx="167.3" cy="107.8" r="1.1" fill="#aab2cc" opacity="0.45"/><circle cx="175.1" cy="111.4" r="1.2" fill="#aab2cc" opacity="0.45"/><circle cx="167.0" cy="107.8" r="1.0" fill="#aab2cc" opacity="0.45"/><circle cx="163.2" cy="113.5" r="0.6" fill="#aab2cc" opacity="0.45"/><circle cx="174.0" cy="101.5" r="1.2" fill="#aab2cc" opacity="0.45"/><circle cx="170.4" cy="104.6" r="1.4" fill="#aab2cc" opacity="0.45"/><circle cx="160.9" cy="108.3" r="1.3" fill="#aab2cc" opacity="0.45"/><circle cx="172.7" cy="114.2" r="1.3" fill="#aab2cc" opacity="0.45"/></g><rect x="45.6" y="122.8" width="26.1" height="25.6" fill="#26262a" /><g filter="url(#bl)"><circle cx="58.650000000000006" cy="135.6" r="11.700000000000001" fill="url(#gE)"/><circle cx="63.1" cy="137.5" r="1.2" fill="#aab2cc" opacity="0.45"/><circle cx="62.9" cy="142.1" r="0.7" fill="#aab2cc" opacity="0.45"/><circle cx="59.9" cy="132.8" r="1.0" fill="#aab2cc" opacity="0.45"/><circle cx="61.9" cy="133.8" r="0.7" fill="#aab2cc" opacity="0.45"/><circle cx="54.0" cy="135.4" r="0.5" fill="#aab2cc" opacity="0.45"/><circle cx="60.0" cy="138.6" r="1.3" fill="#aab2cc" opacity="0.45"/><circle cx="55.3" cy="128.6" r="0.7" fill="#aab2cc" opacity="0.45"/><circle cx="59.3" cy="132.9" r="1.0" fill="#aab2cc" opacity="0.45"/><circle cx="55.4" cy="131.9" r="1.3" fill="#aab2cc" opacity="0.45"/><circle cx="52.8" cy="133.5" r="1.3" fill="#aab2cc" opacity="0.45"/></g><rect x="73.2" y="122.8" width="26.1" height="25.6" fill="#26262a" /><g filter="url(#bl)"><circle cx="86.25" cy="135.6" r="11.700000000000001" fill="url(#gE)"/><circle cx="92.7" cy="140.6" r="1.1" fill="#aab2cc" opacity="0.45"/><circle cx="80.5" cy="140.1" r="0.7" fill="#aab2cc" opacity="0.45"/><circle cx="92.5" cy="135.2" r="0.8" fill="#aab2cc" opacity="0.45"/><circle cx="86.8" cy="130.2" r="0.7" fill="#aab2cc" opacity="0.45"/><circle cx="86.2" cy="133.8" r="1.2" fill="#aab2cc" opacity="0.45"/><circle cx="86.1" cy="142.2" r="1.4" fill="#aab2cc" opacity="0.45"/><circle cx="80.5" cy="132.2" r="0.8" fill="#aab2cc" opacity="0.45"/><circle cx="87.8" cy="135.6" r="0.6" fill="#aab2cc" opacity="0.45"/><circle cx="82.2" cy="132.0" r="1.0" fill="#aab2cc" opacity="0.45"/><circle cx="88.6" cy="133.8" r="0.7" fill="#aab2cc" opacity="0.45"/></g><rect x="101.0" y="122.8" width="26.1" height="25.6" fill="#26262a" /><g filter="url(#bl)"><circle cx="114.05" cy="135.6" r="11.700000000000001" fill="url(#gE)"/><circle cx="113.3" cy="134.6" r="0.5" fill="#aab2cc" opacity="0.45"/><circle cx="112.4" cy="137.7" r="0.8" fill="#aab2cc" opacity="0.45"/><circle cx="115.1" cy="141.8" r="1.0" fill="#aab2cc" opacity="0.45"/><circle cx="115.9" cy="141.8" r="0.9" fill="#aab2cc" opacity="0.45"/><circle cx="119.3" cy="141.5" r="0.7" fill="#aab2cc" opacity="0.45"/><circle cx="115.6" cy="137.6" r="1.1" fill="#aab2cc" opacity="0.45"/><circle cx="119.1" cy="130.4" r="0.9" fill="#aab2cc" opacity="0.45"/><circle cx="114.0" cy="136.5" r="1.1" fill="#aab2cc" opacity="0.45"/><circle cx="109.6" cy="133.7" r="1.1" fill="#aab2cc" opacity="0.45"/><circle cx="106.6" cy="138.3" r="1.2" fill="#aab2cc" opacity="0.45"/></g><rect x="128.4" y="122.8" width="26.1" height="25.6" fill="#26262a" /><g filter="url(#bl)"><circle cx="141.45000000000002" cy="135.6" r="11.700000000000001" fill="url(#gE)"/><circle cx="141.5" cy="143.4" r="0.5" fill="#aab2cc" opacity="0.45"/><circle cx="136.3" cy="134.6" r="0.7" fill="#aab2cc" opacity="0.45"/><circle cx="148.2" cy="138.2" r="0.5" fill="#aab2cc" opacity="0.45"/><circle cx="133.9" cy="133.1" r="0.6" fill="#aab2cc" opacity="0.45"/><circle cx="143.4" cy="141.7" r="1.0" fill="#aab2cc" opacity="0.45"/><circle cx="136.8" cy="129.9" r="0.7" fill="#aab2cc" opacity="0.45"/><circle cx="139.8" cy="139.8" r="0.5" fill="#aab2cc" opacity="0.45"/><circle cx="147.0" cy="131.0" r="1.1" fill="#aab2cc" opacity="0.45"/><circle cx="149.0" cy="135.9" r="1.2" fill="#aab2cc" opacity="0.45"/><circle cx="134.6" cy="137.1" r="0.9" fill="#aab2cc" opacity="0.45"/></g><rect x="155.9" y="122.8" width="26.1" height="25.6" fill="#26262a" /><g filter="url(#bl)"><circle cx="168.95000000000002" cy="135.6" r="11.700000000000001" fill="url(#gE)"/><circle cx="169.4" cy="138.2" r="0.7" fill="#aab2cc" opacity="0.45"/><circle cx="173.6" cy="136.7" r="1.2" fill="#aab2cc" opacity="0.45"/><circle cx="166.4" cy="128.5" r="1.1" fill="#aab2cc" opacity="0.45"/><circle cx="168.3" cy="141.7" r="0.9" fill="#aab2cc" opacity="0.45"/><circle cx="170.4" cy="129.8" r="0.7" fill="#aab2cc" opacity="0.45"/><circle cx="163.9" cy="129.3" r="0.7" fill="#aab2cc" opacity="0.45"/><circle cx="169.7" cy="134.9" r="0.7" fill="#aab2cc" opacity="0.45"/><circle cx="169.6" cy="142.6" r="1.4" fill="#aab2cc" opacity="0.45"/><circle cx="168.8" cy="130.9" r="1.3" fill="#aab2cc" opacity="0.45"/><circle cx="167.1" cy="139.1" r="1.3" fill="#aab2cc" opacity="0.45"/></g><text x="78.7" y="90.8" font-family="Liberation Sans" font-size="12.2" font-weight="bold" font-style="italic" fill="#111" text-anchor="start" stroke="#111" stroke-width="0.3" textLength="52.8" lengthAdjust="spacingAndGlyphs">S. aureus</text><text x="88.5" y="159.6" font-family="Liberation Sans" font-size="12.0" font-weight="bold" font-style="italic" fill="#111" text-anchor="start" stroke="#111" stroke-width="0.3" textLength="34" lengthAdjust="spacingAndGlyphs">E. coli</text><line x1="201.5" y1="27.1" x2="272.5" y2="27.1" stroke="#333" stroke-width="0.6" /><line x1="201.5" y1="27.1" x2="201.5" y2="78.6" stroke="#333" stroke-width="0.6" /><line x1="201.5" y1="78.6" x2="272.5" y2="78.6" stroke="#333" stroke-width="0.6" /><line x1="272.5" y1="27.1" x2="272.5" y2="29.1" stroke="#333" stroke-width="0.5" /><line x1="200.5" y1="78.6" x2="201.5" y2="78.6" stroke="#333" stroke-width="0.4" /><text x="200.2" y="79.69999999999999" font-family="Liberation Sans" font-size="3.2" font-weight="bold" font-style="normal" fill="#333" text-anchor="end" stroke="#333" stroke-width="0.12" >0</text><line x1="200.5" y1="71.02" x2="201.5" y2="71.02" stroke="#333" stroke-width="0.4" /><text x="200.2" y="72.11999999999999" font-family="Liberation Sans" font-size="3.2" font-weight="bold" font-style="normal" fill="#333" text-anchor="end" stroke="#333" stroke-width="0.12" >20</text><line x1="200.5" y1="63.44" x2="201.5" y2="63.44" stroke="#333" stroke-width="0.4" /><text x="200.2" y="64.53999999999999" font-family="Liberation Sans" font-size="3.2" font-weight="bold" font-style="normal" fill="#333" text-anchor="end" stroke="#333" stroke-width="0.12" >40</text><line x1="200.5" y1="55.86" x2="201.5" y2="55.86" stroke="#333" stroke-width="0.4" /><text x="200.2" y="56.96" font-family="Liberation Sans" font-size="3.2" font-weight="bold" font-style="normal" fill="#333" text-anchor="end" stroke="#333" stroke-width="0.12" >60</text><line x1="200.5" y1="48.28" x2="201.5" y2="48.28" stroke="#333" stroke-width="0.4" /><text x="200.2" y="49.38" font-family="Liberation Sans" font-size="3.2" font-weight="bold" font-style="normal" fill="#333" text-anchor="end" stroke="#333" stroke-width="0.12" >80</text><line x1="200.5" y1="40.7" x2="201.5" y2="40.7" stroke="#333" stroke-width="0.4" /><text x="200.2" y="41.800000000000004" font-family="Liberation Sans" font-size="3.2" font-weight="bold" font-style="normal" fill="#333" text-anchor="end" stroke="#333" stroke-width="0.12" >100</text><line x1="200.5" y1="33.12" x2="201.5" y2="33.12" stroke="#333" stroke-width="0.4" /><text x="200.2" y="34.22" font-family="Liberation Sans" font-size="3.2" font-weight="bold" font-style="normal" fill="#333" text-anchor="end" stroke="#333" stroke-width="0.12" >120</text><text transform="translate(191.4,53.849999999999994) rotate(-90)" font-family="Liberation Sans" font-size="4.6" font-weight="bold" fill="#333" text-anchor="middle">Bacterial viability (%)</text><rect x="202.9" y="28.400000000000002" width="5.8" height="2.9" fill="#e58a56" /><text x="209.2" y="30.900000000000002" font-family="Liberation Sans" font-size="2.7" font-weight="normal" font-style="normal" fill="#555" text-anchor="start" >Control</text><rect x="222.5" y="28.400000000000002" width="5.8" height="2.9" fill="#8fd0e6" /><text x="228.8" y="30.900000000000002" font-family="Liberation Sans" font-size="2.7" font-weight="normal" font-style="normal" fill="#555" text-anchor="start" >Gel</text><rect x="235.1" y="28.400000000000002" width="5.8" height="2.9" fill="#7a84cc" /><text x="241.4" y="30.900000000000002" font-family="Liberation Sans" font-size="2.7" font-weight="normal" font-style="normal" fill="#555" text-anchor="start" >Gel/BNNS</text><rect x="202.9" y="32.7" width="6.6" height="2.8" fill="#1f8a52" /><text x="209.2" y="35.2" font-family="Liberation Sans" font-size="2.7" font-weight="normal" font-style="normal" fill="#555" text-anchor="start" >Gel/GO-βCD</text><rect x="229.9" y="32.7" width="6.6" height="2.8" fill="#135a50" /><text x="237.2" y="35.2" font-family="Liberation Sans" font-size="2.7" font-weight="normal" font-style="normal" fill="#555" text-anchor="start" >Gel/GO-βCD-BNNS</text><rect x="215.9" y="40.7" width="2.45" height="37.89999999999999" fill="#e58a56" /><line x1="217.1" y1="39.5" x2="217.1" y2="40.7" stroke="#555" stroke-width="0.3" /><rect x="218.35" y="41.079" width="2.45" height="37.520999999999994" fill="#8fd0e6" /><line x1="219.54999999999998" y1="39.879" x2="219.54999999999998" y2="41.079" stroke="#555" stroke-width="0.3" /><rect x="220.8" y="42.974" width="2.45" height="35.626" fill="#7a84cc" /><line x1="222.0" y1="41.773999999999994" x2="222.0" y2="42.974" stroke="#555" stroke-width="0.3" /><rect x="223.25" y="67.22999999999999" width="2.45" height="11.37" fill="#1f8a52" /><line x1="224.45" y1="66.02999999999999" x2="224.45" y2="67.22999999999999" stroke="#555" stroke-width="0.3" /><rect x="225.70000000000002" y="67.609" width="2.45" height="10.990999999999998" fill="#135a50" /><line x1="226.9" y1="66.40899999999999" x2="226.9" y2="67.609" stroke="#555" stroke-width="0.3" /><rect x="245.9" y="40.7" width="2.45" height="37.89999999999999" fill="#e58a56" /><line x1="247.1" y1="39.5" x2="247.1" y2="40.7" stroke="#555" stroke-width="0.3" /><rect x="248.35" y="40.321" width="2.45" height="38.278999999999996" fill="#8fd0e6" /><line x1="249.54999999999998" y1="39.120999999999995" x2="249.54999999999998" y2="40.321" stroke="#555" stroke-width="0.3" /><rect x="250.8" y="44.869" width="2.45" height="33.730999999999995" fill="#7a84cc" /><line x1="252.0" y1="43.669" x2="252.0" y2="44.869" stroke="#555" stroke-width="0.3" /><rect x="253.25" y="71.02" width="2.45" height="7.579999999999999" fill="#1f8a52" /><line x1="254.45" y1="69.82" x2="254.45" y2="71.02" stroke="#555" stroke-width="0.3" /><rect x="255.70000000000002" y="74.05199999999999" width="2.45" height="4.547999999999999" fill="#135a50" /><line x1="256.90000000000003" y1="72.85199999999999" x2="256.90000000000003" y2="74.05199999999999" stroke="#555" stroke-width="0.3" /><line x1="227" y1="37.3" x2="258.2" y2="37.3" stroke="#444" stroke-width="0.4" /><line x1="227" y1="37.3" x2="227" y2="64.22999999999999" stroke="#444" stroke-width="0.4" /><line x1="258.2" y1="37.3" x2="258.2" y2="71.05199999999999" stroke="#444" stroke-width="0.4" /><text x="242" y="39.599999999999994" font-family="Liberation Sans" font-size="3" font-weight="bold" font-style="normal" fill="#444" text-anchor="middle" stroke="#444" stroke-width="0.12" >**</text><text x="221.2" y="82.3" font-family="Liberation Sans" font-size="3.4" font-weight="bold" font-style="normal" fill="#333" text-anchor="middle" stroke="#333" stroke-width="0.12" >Without NIR</text><text x="252.3" y="82.3" font-family="Liberation Sans" font-size="3.4" font-weight="bold" font-style="normal" fill="#333" text-anchor="middle" stroke="#333" stroke-width="0.12" >With NIR</text><line x1="201.5" y1="95.3" x2="272.5" y2="95.3" stroke="#333" stroke-width="0.6" /><line x1="201.5" y1="95.3" x2="201.5" y2="147.7" stroke="#333" stroke-width="0.6" /><line x1="201.5" y1="147.7" x2="272.5" y2="147.7" stroke="#333" stroke-width="0.6" /><line x1="272.5" y1="95.3" x2="272.5" y2="97.3" stroke="#333" stroke-width="0.5" /><line x1="200.5" y1="147.7" x2="201.5" y2="147.7" stroke="#333" stroke-width="0.4" /><text x="200.2" y="148.79999999999998" font-family="Liberation Sans" font-size="3.2" font-weight="bold" font-style="normal" fill="#333" text-anchor="end" stroke="#333" stroke-width="0.12" >0</text><line x1="200.5" y1="139.98753398058253" x2="201.5" y2="139.98753398058253" stroke="#333" stroke-width="0.4" /><text x="200.2" y="141.08753398058252" font-family="Liberation Sans" font-size="3.2" font-weight="bold" font-style="normal" fill="#333" text-anchor="end" stroke="#333" stroke-width="0.12" >20</text><line x1="200.5" y1="132.27506796116504" x2="201.5" y2="132.27506796116504" stroke="#333" stroke-width="0.4" /><text x="200.2" y="133.37506796116503" font-family="Liberation Sans" font-size="3.2" font-weight="bold" font-style="normal" fill="#333" text-anchor="end" stroke="#333" stroke-width="0.12" >40</text><line x1="200.5" y1="124.56260194174757" x2="201.5" y2="124.56260194174757" stroke="#333" stroke-width="0.4" /><text x="200.2" y="125.66260194174757" font-family="Liberation Sans" font-size="3.2" font-weight="bold" font-style="normal" fill="#333" text-anchor="end" stroke="#333" stroke-width="0.12" >60</text><line x1="200.5" y1="116.85013592233008" x2="201.5" y2="116.85013592233008" stroke="#333" stroke-width="0.4" /><text x="200.2" y="117.95013592233008" font-family="Liberation Sans" font-size="3.2" font-weight="bold" font-style="normal" fill="#333" text-anchor="end" stroke="#333" stroke-width="0.12" >80</text><line x1="200.5" y1="109.13766990291262" x2="201.5" y2="109.13766990291262" stroke="#333" stroke-width="0.4" /><text x="200.2" y="110.23766990291261" font-family="Liberation Sans" font-size="3.2" font-weight="bold" font-style="normal" fill="#333" text-anchor="end" stroke="#333" stroke-width="0.12" >100</text><line x1="200.5" y1="101.42520388349514" x2="201.5" y2="101.42520388349514" stroke="#333" stroke-width="0.4" /><text x="200.2" y="102.52520388349514" font-family="Liberation Sans" font-size="3.2" font-weight="bold" font-style="normal" fill="#333" text-anchor="end" stroke="#333" stroke-width="0.12" >120</text><text transform="translate(191.4,122.5) rotate(-90)" font-family="Liberation Sans" font-size="4.6" font-weight="bold" fill="#333" text-anchor="middle">Bacterial viability (%)</text><rect x="202.9" y="96.6" width="5.8" height="2.9" fill="#e58a56" /><text x="209.2" y="99.1" font-family="Liberation Sans" font-size="2.7" font-weight="normal" font-style="normal" fill="#555" text-anchor="start" >Control</text><rect x="222.5" y="96.6" width="5.8" height="2.9" fill="#8fd0e6" /><text x="228.8" y="99.1" font-family="Liberation Sans" font-size="2.7" font-weight="normal" font-style="normal" fill="#555" text-anchor="start" >Gel</text><rect x="235.1" y="96.6" width="5.8" height="2.9" fill="#7a84cc" /><text x="241.4" y="99.1" font-family="Liberation Sans" font-size="2.7" font-weight="normal" font-style="normal" fill="#555" text-anchor="start" >Gel/BNNS</text><rect x="202.9" y="100.89999999999999" width="6.6" height="2.8" fill="#1f8a52" /><text x="209.2" y="103.39999999999999" font-family="Liberation Sans" font-size="2.7" font-weight="normal" font-style="normal" fill="#555" text-anchor="start" >Gel/GO-βCD</text><rect x="229.9" y="100.89999999999999" width="6.6" height="2.8" fill="#135a50" /><text x="237.2" y="103.39999999999999" font-family="Liberation Sans" font-size="2.7" font-weight="normal" font-style="normal" fill="#555" text-anchor="start" >Gel/GO-βCD-BNNS</text><rect x="215.9" y="109.13766990291262" width="2.45" height="38.56233009708737" fill="#e58a56" /><line x1="217.1" y1="107.93766990291262" x2="217.1" y2="109.13766990291262" stroke="#555" stroke-width="0.3" /><rect x="218.35" y="109.5232932038835" width="2.45" height="38.1767067961165" fill="#8fd0e6" /><line x1="219.54999999999998" y1="108.3232932038835" x2="219.54999999999998" y2="109.5232932038835" stroke="#555" stroke-width="0.3" /><rect x="220.8" y="111.45140970873786" width="2.45" height="36.24859029126213" fill="#7a84cc" /><line x1="222.0" y1="110.25140970873785" x2="222.0" y2="111.45140970873786" stroke="#555" stroke-width="0.3" /><rect x="223.25" y="129.9613281553398" width="2.45" height="17.738671844660193" fill="#1f8a52" /><line x1="224.45" y1="128.7613281553398" x2="224.45" y2="129.9613281553398" stroke="#555" stroke-width="0.3" /><rect x="225.70000000000002" y="133.0463145631068" width="2.45" height="14.653685436893202" fill="#135a50" /><line x1="226.9" y1="131.8463145631068" x2="226.9" y2="133.0463145631068" stroke="#555" stroke-width="0.3" /><rect x="245.9" y="109.13766990291262" width="2.45" height="38.56233009708737" fill="#e58a56" /><line x1="247.1" y1="107.93766990291262" x2="247.1" y2="109.13766990291262" stroke="#555" stroke-width="0.3" /><rect x="248.35" y="109.5232932038835" width="2.45" height="38.1767067961165" fill="#8fd0e6" /><line x1="249.54999999999998" y1="108.3232932038835" x2="249.54999999999998" y2="109.5232932038835" stroke="#555" stroke-width="0.3" /><rect x="250.8" y="114.53639611650485" width="2.45" height="33.16360388349514" fill="#7a84cc" /><line x1="252.0" y1="113.33639611650484" x2="252.0" y2="114.53639611650485" stroke="#555" stroke-width="0.3" /><rect x="253.25" y="142.30127378640776" width="2.45" height="5.398726213592232" fill="#1f8a52" /><line x1="254.45" y1="141.10127378640777" x2="254.45" y2="142.30127378640776" stroke="#555" stroke-width="0.3" /><rect x="255.70000000000002" y="145.38626019417475" width="2.45" height="2.313739805825242" fill="#135a50" /><line x1="256.90000000000003" y1="144.18626019417476" x2="256.90000000000003" y2="145.38626019417475" stroke="#555" stroke-width="0.3" /><line x1="227" y1="105.5" x2="258.2" y2="105.5" stroke="#444" stroke-width="0.4" /><line x1="227" y1="105.5" x2="227" y2="126.9613281553398" stroke="#444" stroke-width="0.4" /><line x1="258.2" y1="105.5" x2="258.2" y2="142.38626019417475" stroke="#444" stroke-width="0.4" /><text x="242" y="107.8" font-family="Liberation Sans" font-size="3" font-weight="bold" font-style="normal" fill="#444" text-anchor="middle" stroke="#444" stroke-width="0.12" >**</text><text x="221.2" y="151.39999999999998" font-family="Liberation Sans" font-size="3.4" font-weight="bold" font-style="normal" fill="#333" text-anchor="middle" stroke="#333" stroke-width="0.12" >Without NIR</text><text x="252.3" y="151.39999999999998" font-family="Liberation Sans" font-size="3.4" font-weight="bold" font-style="normal" fill="#333" text-anchor="middle" stroke="#333" stroke-width="0.12" >With NIR</text><line x1="6.4" y1="166" x2="6.4" y2="341.2" stroke="#b0b0b0" stroke-width="1" /><line x1="6" y1="341.1" x2="275" y2="341.1" stroke="#a0a0a0" stroke-width="1" /><line x1="274.3" y1="166" x2="274.3" y2="341.5" stroke="#a0a0a0" stroke-width="1.5" /><rect x="6.6" y="168.5" width="16.8" height="16" fill="#000" /><text x="10.4" y="180.4" font-family="Liberation Sans" font-size="9" font-weight="bold" font-style="normal" fill="#fff" text-anchor="start" stroke="#fff" stroke-width="0.3" >B.</text><text x="30" y="183.2" font-family="Liberation Sans" font-size="6.0" font-weight="normal" font-style="italic" fill="#e0201c" text-anchor="start" stroke="#e0201c" stroke-width="0.35" textLength="26.4" lengthAdjust="spacingAndGlyphs">S. aureus</text><g transform="translate(41.3,197) rotate(35.5)"><rect x="-13" y="-3.8" width="26" height="7.6" rx="3.8" fill="#fff" stroke="#888" stroke-width="0.6"/><ellipse cx="-11" cy="0" rx="1.6" ry="3.6" fill="#fff" stroke="#888" stroke-width="0.5"/><rect x="3" y="-3.4" width="9.5" height="6.8" rx="3.4" fill="#d6ef9a"/><path d="M5,-1 l2,2 l2,-2 M7,1 l3,-1" stroke="#4a9a2a" stroke-width="0.8" fill="none"/></g><path d="M55.2,192.1 h4.919999999999999 v-1 l3.28,2.1 l-3.28,2.1 v-1 h-4.919999999999999 z" fill="#e8140f"/><path d="M107.5,192.20000000000002 h5.88 v-1 l3.9200000000000004,2.1 l-3.9200000000000004,2.1 v-1 h-5.88 z" fill="#e8140f"/><path d="M159.3,192.1 h6.24 v-1 l4.16,2.1 l-4.16,2.1 v-1 h-6.24 z" fill="#e8140f"/><g transform="translate(85.6,173.3)" fill="none" stroke="#333" stroke-width="0.95" stroke-linecap="round" stroke-linejoin="round">
<path d="M0,0 C-3,0.5 -7,8 -10,16 C-12,22 -13.5,26 -13,29 C-13.5,31 -15,33 -16.2,34.6 C-13,35.2 -10,34 -8,32.8 C-4,33.8 4,33.8 8,32.8 C10,34 13,35.2 16.2,34.6 C15,33 13.5,31 13,29 C13.5,26 12,22 10,16 C7,8 3,0.5 0,0 Z" fill="#fff"/>
<path d="M-1.5,2.5 L-10.5,7.5 M-2.5,4 L-11,9.5 M-3,5.5 L-9,10 M-1,1.5 L-7,4.5" stroke-width="0.45"/>
<path d="M1.5,2.5 L10.5,7.5 M2.5,4 L11,9.5 M3,5.5 L9,10 M1,1.5 L7,4.5" stroke-width="0.45"/>
<path d="M-6.6,16.8 L-7.8,19.6" stroke-width="1.3"/><path d="M6.6,16.8 L7.8,19.6" stroke-width="1.3"/>
</g><circle cx="80.69999999999999" cy="200.5" r="3.6" fill="#fff" stroke="#444" stroke-width="1.3"/><circle cx="90.5" cy="200.5" r="3.6" fill="#fff" stroke="#444" stroke-width="1.3"/><g transform="translate(135.7,173.3)" fill="none" stroke="#333" stroke-width="0.95" stroke-linecap="round" stroke-linejoin="round">
<path d="M0,0 C-3,0.5 -7,8 -10,16 C-12,22 -13.5,26 -13,29 C-13.5,31 -15,33 -16.2,34.6 C-13,35.2 -10,34 -8,32.8 C-4,33.8 4,33.8 8,32.8 C10,34 13,35.2 16.2,34.6 C15,33 13.5,31 13,29 C13.5,26 12,22 10,16 C7,8 3,0.5 0,0 Z" fill="#fff"/>
<path d="M-1.5,2.5 L-10.5,7.5 M-2.5,4 L-11,9.5 M-3,5.5 L-9,10 M-1,1.5 L-7,4.5" stroke-width="0.45"/>
<path d="M1.5,2.5 L10.5,7.5 M2.5,4 L11,9.5 M3,5.5 L9,10 M1,1.5 L7,4.5" stroke-width="0.45"/>
<path d="M-6.6,16.8 L-7.8,19.6" stroke-width="1.3"/><path d="M6.6,16.8 L7.8,19.6" stroke-width="1.3"/>
</g><circle cx="130.79999999999998" cy="200.5" r="3.6" fill="#8ccb74" stroke="#3f7a3a" stroke-width="1.3"/><path d="M129.49999999999997,200.70000000000002 l1,1 l1.7,-1.9" stroke="#f4fff0" stroke-width="0.6" fill="none"/><circle cx="140.6" cy="200.5" r="3.6" fill="#8ccb74" stroke="#3f7a3a" stroke-width="1.3"/><path d="M139.29999999999998,200.70000000000002 l1,1 l1.7,-1.9" stroke="#f4fff0" stroke-width="0.6" fill="none"/><g transform="translate(187.7,173.0)" fill="none" stroke="#333" stroke-width="0.95" stroke-linecap="round" stroke-linejoin="round">
<path d="M0,0 C-3,0.5 -7,8 -10,16 C-12,22 -13.5,26 -13,29 C-13.5,31 -15,33 -16.2,34.6 C-13,35.2 -10,34 -8,32.8 C-4,33.8 4,33.8 8,32.8 C10,34 13,35.2 16.2,34.6 C15,33 13.5,31 13,29 C13.5,26 12,22 10,16 C7,8 3,0.5 0,0 Z" fill="#fff"/>
<path d="M-1.5,2.5 L-10.5,7.5 M-2.5,4 L-11,9.5 M-3,5.5 L-9,10 M-1,1.5 L-7,4.5" stroke-width="0.45"/>
<path d="M1.5,2.5 L10.5,7.5 M2.5,4 L11,9.5 M3,5.5 L9,10 M1,1.5 L7,4.5" stroke-width="0.45"/>
<path d="M-6.6,16.8 L-7.8,19.6" stroke-width="1.3"/><path d="M6.6,16.8 L7.8,19.6" stroke-width="1.3"/>
</g><circle cx="182.79999999999998" cy="200.2" r="3.6" fill="#8ccb74" stroke="#3f7a3a" stroke-width="1.3"/><path d="M181.49999999999997,200.4 l1,1 l1.7,-1.9" stroke="#f4fff0" stroke-width="0.6" fill="none"/><circle cx="192.6" cy="200.2" r="3.6" fill="#a6d0f2" stroke="#4a78a8" stroke-width="1.3"/><line x1="196.5" y1="198.6" x2="213.3" y2="190.5" stroke="#5a8ab8" stroke-width="0.5" stroke-dasharray="1,0.8"/><line x1="213.3" y1="171.5" x2="213.3" y2="212.5" stroke="#5a8ab8" stroke-width="0.5" stroke-dasharray="1,0.8"/><circle cx="221.3" cy="177.8" r="3.8" fill="#bfe0f6" stroke="#4a5058" stroke-width="1.0"/><text x="230.3" y="179.60000000000002" font-family="Liberation Sans" font-size="5.0" font-weight="bold" font-style="normal" fill="#333" text-anchor="start" stroke="#333" stroke-width="0.3" >GelMA</text><circle cx="221.3" cy="190.9" r="3.8" fill="#c8e4d8" stroke="#4a5058" stroke-width="1.0"/><text x="230.3" y="192.70000000000002" font-family="Liberation Sans" font-size="5.0" font-weight="bold" font-style="normal" fill="#333" text-anchor="start" stroke="#333" stroke-width="0.3" >HNTs/GelMA</text><circle cx="221.3" cy="204.3" r="3.8" fill="#bfe0f6" stroke="#4a5058" stroke-width="1.0"/><text x="230.3" y="206.10000000000002" font-family="Liberation Sans" font-size="5.0" font-weight="bold" font-style="normal" fill="#333" text-anchor="start" stroke="#333" stroke-width="0.3" >nAg/HNTs/GelMA</text><g filter="url(#bl)"><ellipse cx="48.9" cy="249.4" rx="24.3" ry="23.7" fill="url(#gB)"/></g><g filter="url(#bl3)"><circle cx="36.5" cy="236.4" r="0.73" fill="#62645f" opacity="0.79"/><circle cx="29.2" cy="253.1" r="0.75" fill="#62645f" opacity="0.74"/><circle cx="31.7" cy="256.4" r="0.69" fill="#62645f" opacity="0.49"/><circle cx="53.0" cy="265.8" r="0.44" fill="#62645f" opacity="0.76"/><circle cx="51.1" cy="252.2" r="0.45" fill="#62645f" opacity="0.77"/><circle cx="44.3" cy="256.0" r="0.41" fill="#62645f" opacity="0.37"/><circle cx="42.8" cy="233.5" r="0.75" fill="#62645f" opacity="0.68"/><circle cx="64.3" cy="256.0" r="0.58" fill="#62645f" opacity="0.72"/><circle cx="57.6" cy="231.2" r="0.43" fill="#62645f" opacity="0.74"/><circle cx="67.2" cy="238.8" r="0.45" fill="#62645f" opacity="0.44"/><circle cx="52.0" cy="252.0" r="0.82" fill="#62645f" opacity="0.72"/><circle cx="35.7" cy="234.9" r="0.72" fill="#62645f" opacity="0.48"/><circle cx="54.4" cy="253.3" r="0.78" fill="#62645f" opacity="0.44"/><circle cx="42.9" cy="262.0" r="0.41" fill="#62645f" opacity="0.47"/><circle cx="45.1" cy="267.1" r="0.58" fill="#62645f" opacity="0.49"/><circle cx="64.0" cy="246.0" r="0.83" fill="#62645f" opacity="0.63"/><circle cx="62.7" cy="252.1" r="0.62" fill="#62645f" opacity="0.70"/><circle cx="38.4" cy="264.1" r="0.67" fill="#62645f" opacity="0.45"/><circle cx="53.2" cy="244.5" r="0.81" fill="#62645f" opacity="0.43"/><circle cx="58.7" cy="249.5" r="0.78" fill="#62645f" opacity="0.79"/><circle cx="64.2" cy="249.8" r="0.65" fill="#62645f" opacity="0.71"/><circle cx="55.1" cy="263.1" r="0.57" fill="#62645f" opacity="0.72"/><circle cx="47.5" cy="270.1" r="0.54" fill="#62645f" opacity="0.45"/><circle cx="44.1" cy="235.1" r="0.45" fill="#62645f" opacity="0.64"/><circle cx="65.9" cy="258.6" r="0.75" fill="#62645f" opacity="0.70"/><circle cx="39.8" cy="240.2" r="0.60" fill="#62645f" opacity="0.53"/><circle cx="53.9" cy="245.4" r="0.84" fill="#62645f" opacity="0.36"/><circle cx="52.0" cy="259.9" r="0.85" fill="#62645f" opacity="0.58"/><circle cx="34.0" cy="263.2" r="0.52" fill="#62645f" opacity="0.56"/><circle cx="30.3" cy="245.8" r="0.78" fill="#62645f" opacity="0.64"/><circle cx="41.7" cy="259.3" r="0.48" fill="#62645f" opacity="0.73"/><circle cx="39.0" cy="233.8" r="0.48" fill="#62645f" opacity="0.55"/><circle cx="51.3" cy="233.3" r="0.46" fill="#62645f" opacity="0.56"/><circle cx="56.9" cy="242.5" r="0.50" fill="#62645f" opacity="0.49"/><circle cx="43.1" cy="230.7" r="0.48" fill="#62645f" opacity="0.42"/><circle cx="49.1" cy="261.6" r="0.66" fill="#62645f" opacity="0.42"/><circle cx="44.4" cy="257.6" r="0.89" fill="#62645f" opacity="0.68"/><circle cx="66.1" cy="261.9" r="0.45" fill="#62645f" opacity="0.52"/><circle cx="68.3" cy="247.5" r="0.77" fill="#62645f" opacity="0.55"/><circle cx="54.7" cy="265.5" r="0.45" fill="#62645f" opacity="0.44"/><circle cx="45.8" cy="251.9" r="0.60" fill="#62645f" opacity="0.71"/><circle cx="43.5" cy="235.3" r="0.72" fill="#62645f" opacity="0.56"/><circle cx="59.6" cy="262.3" r="0.60" fill="#62645f" opacity="0.68"/><circle cx="60.9" cy="241.8" r="0.69" fill="#62645f" opacity="0.69"/><circle cx="39.7" cy="254.2" r="0.76" fill="#62645f" opacity="0.75"/><circle cx="51.7" cy="231.8" r="0.83" fill="#62645f" opacity="0.66"/><circle cx="39.6" cy="238.2" r="0.56" fill="#62645f" opacity="0.63"/><circle cx="60.5" cy="257.4" r="0.79" fill="#62645f" opacity="0.67"/><circle cx="41.4" cy="241.6" r="0.61" fill="#62645f" opacity="0.55"/><circle cx="38.8" cy="240.0" r="0.74" fill="#62645f" opacity="0.77"/><circle cx="56.1" cy="265.2" r="0.79" fill="#62645f" opacity="0.52"/><circle cx="27.4" cy="250.7" r="0.42" fill="#62645f" opacity="0.59"/><circle cx="59.2" cy="265.4" r="0.87" fill="#62645f" opacity="0.58"/><circle cx="62.2" cy="259.0" r="0.67" fill="#62645f" opacity="0.67"/><circle cx="31.5" cy="248.1" r="0.81" fill="#62645f" opacity="0.58"/><circle cx="30.9" cy="260.5" r="0.51" fill="#62645f" opacity="0.66"/><circle cx="34.0" cy="261.0" r="0.46" fill="#62645f" opacity="0.79"/><circle cx="45.7" cy="253.4" r="0.54" fill="#62645f" opacity="0.53"/><circle cx="63.0" cy="250.6" r="0.61" fill="#62645f" opacity="0.66"/><circle cx="42.2" cy="258.2" r="0.51" fill="#62645f" opacity="0.68"/><circle cx="63.7" cy="243.7" r="0.51" fill="#62645f" opacity="0.71"/><circle cx="41.1" cy="255.6" r="0.46" fill="#62645f" opacity="0.70"/><circle cx="55.3" cy="233.6" r="0.63" fill="#62645f" opacity="0.60"/><circle cx="52.1" cy="270.1" r="0.58" fill="#62645f" opacity="0.64"/><circle cx="57.2" cy="231.9" r="0.63" fill="#62645f" opacity="0.48"/><circle cx="41.5" cy="247.1" r="0.82" fill="#62645f" opacity="0.51"/><circle cx="55.6" cy="240.5" r="0.59" fill="#62645f" opacity="0.46"/><circle cx="40.5" cy="253.5" r="0.40" fill="#62645f" opacity="0.67"/><circle cx="46.8" cy="259.8" r="0.55" fill="#62645f" opacity="0.57"/><circle cx="33.2" cy="256.8" r="0.73" fill="#62645f" opacity="0.51"/><circle cx="67.1" cy="240.9" r="0.43" fill="#62645f" opacity="0.72"/><circle cx="65.0" cy="238.9" r="0.47" fill="#62645f" opacity="0.72"/><circle cx="47.1" cy="247.5" r="0.41" fill="#62645f" opacity="0.78"/><circle cx="42.8" cy="240.5" r="0.45" fill="#62645f" opacity="0.41"/><circle cx="50.9" cy="268.1" r="0.57" fill="#62645f" opacity="0.42"/><circle cx="64.9" cy="238.6" r="0.48" fill="#62645f" opacity="0.75"/><circle cx="33.9" cy="237.5" r="0.73" fill="#62645f" opacity="0.75"/><circle cx="53.6" cy="230.4" r="0.50" fill="#62645f" opacity="0.66"/><circle cx="30.4" cy="245.9" r="0.62" fill="#62645f" opacity="0.75"/><circle cx="38.3" cy="245.7" r="0.52" fill="#62645f" opacity="0.41"/><circle cx="43.6" cy="249.6" r="0.63" fill="#62645f" opacity="0.41"/><circle cx="33.5" cy="250.2" r="0.67" fill="#62645f" opacity="0.74"/><circle cx="68.9" cy="250.2" r="0.63" fill="#62645f" opacity="0.60"/><circle cx="38.7" cy="232.5" r="0.59" fill="#62645f" opacity="0.54"/><circle cx="54.7" cy="248.0" r="0.72" fill="#62645f" opacity="0.64"/><circle cx="65.7" cy="252.4" r="0.74" fill="#62645f" opacity="0.77"/><circle cx="38.4" cy="267.9" r="0.66" fill="#62645f" opacity="0.57"/><circle cx="52.1" cy="247.0" r="0.76" fill="#62645f" opacity="0.63"/><circle cx="38.2" cy="266.2" r="0.58" fill="#62645f" opacity="0.56"/><circle cx="29.9" cy="246.4" r="0.51" fill="#62645f" opacity="0.55"/><circle cx="34.5" cy="256.8" r="0.81" fill="#62645f" opacity="0.48"/><circle cx="55.4" cy="237.4" r="0.65" fill="#62645f" opacity="0.47"/><circle cx="27.3" cy="248.6" r="0.73" fill="#62645f" opacity="0.71"/><circle cx="42.9" cy="259.9" r="0.55" fill="#62645f" opacity="0.61"/><circle cx="36.1" cy="235.2" r="0.42" fill="#62645f" opacity="0.68"/><circle cx="61.1" cy="239.0" r="0.42" fill="#62645f" opacity="0.49"/><circle cx="58.4" cy="249.8" r="0.86" fill="#62645f" opacity="0.62"/><circle cx="38.3" cy="233.5" r="0.85" fill="#62645f" opacity="0.63"/><circle cx="36.0" cy="238.1" r="0.75" fill="#62645f" opacity="0.62"/><circle cx="44.7" cy="240.5" r="0.73" fill="#62645f" opacity="0.56"/><circle cx="49.5" cy="242.6" r="0.49" fill="#62645f" opacity="0.37"/><circle cx="52.1" cy="229.2" r="0.73" fill="#62645f" opacity="0.52"/><circle cx="57.4" cy="232.4" r="0.68" fill="#62645f" opacity="0.47"/><circle cx="44.3" cy="262.5" r="0.56" fill="#62645f" opacity="0.54"/><circle cx="35.6" cy="233.4" r="0.43" fill="#62645f" opacity="0.61"/><circle cx="56.2" cy="251.2" r="0.81" fill="#62645f" opacity="0.61"/><circle cx="61.6" cy="242.4" r="0.41" fill="#62645f" opacity="0.52"/><circle cx="31.2" cy="238.1" r="0.89" fill="#62645f" opacity="0.56"/><circle cx="42.9" cy="253.0" r="0.72" fill="#62645f" opacity="0.45"/><circle cx="50.5" cy="251.6" r="0.40" fill="#62645f" opacity="0.66"/><circle cx="64.4" cy="263.9" r="0.44" fill="#62645f" opacity="0.74"/><circle cx="50.9" cy="251.5" r="0.76" fill="#62645f" opacity="0.46"/><circle cx="47.9" cy="240.2" r="0.43" fill="#62645f" opacity="0.70"/><circle cx="44.3" cy="230.2" r="0.76" fill="#62645f" opacity="0.39"/><circle cx="36.2" cy="236.4" r="0.63" fill="#62645f" opacity="0.77"/><circle cx="48.4" cy="270.3" r="0.76" fill="#62645f" opacity="0.36"/><circle cx="66.5" cy="251.0" r="0.81" fill="#62645f" opacity="0.39"/><circle cx="41.9" cy="266.3" r="0.48" fill="#62645f" opacity="0.74"/><circle cx="43.6" cy="249.8" r="0.58" fill="#62645f" opacity="0.61"/><circle cx="32.2" cy="256.0" r="0.47" fill="#62645f" opacity="0.71"/><circle cx="37.4" cy="262.4" r="0.71" fill="#62645f" opacity="0.54"/><circle cx="34.3" cy="261.8" r="0.87" fill="#62645f" opacity="0.70"/><circle cx="38.1" cy="244.7" r="0.43" fill="#62645f" opacity="0.79"/><circle cx="43.1" cy="230.8" r="0.57" fill="#62645f" opacity="0.62"/><circle cx="68.6" cy="246.7" r="0.70" fill="#62645f" opacity="0.49"/><circle cx="30.3" cy="258.1" r="0.59" fill="#62645f" opacity="0.66"/><circle cx="32.3" cy="237.4" r="0.80" fill="#62645f" opacity="0.48"/><circle cx="60.1" cy="249.5" r="0.61" fill="#62645f" opacity="0.61"/><circle cx="57.2" cy="231.0" r="0.42" fill="#62645f" opacity="0.72"/><circle cx="56.6" cy="231.0" r="0.69" fill="#62645f" opacity="0.47"/><circle cx="60.6" cy="234.0" r="0.74" fill="#62645f" opacity="0.76"/><circle cx="45.3" cy="254.5" r="0.68" fill="#62645f" opacity="0.71"/><circle cx="54.7" cy="267.0" r="0.87" fill="#62645f" opacity="0.46"/><circle cx="34.8" cy="238.5" r="0.63" fill="#62645f" opacity="0.44"/><circle cx="48.3" cy="267.9" r="0.80" fill="#62645f" opacity="0.56"/><circle cx="65.6" cy="259.4" r="0.79" fill="#62645f" opacity="0.45"/><circle cx="30.7" cy="239.7" r="0.84" fill="#62645f" opacity="0.58"/><circle cx="32.3" cy="251.8" r="0.49" fill="#62645f" opacity="0.44"/><circle cx="56.6" cy="265.6" r="0.58" fill="#62645f" opacity="0.60"/><circle cx="36.0" cy="258.2" r="0.47" fill="#62645f" opacity="0.37"/><circle cx="62.3" cy="249.2" r="0.45" fill="#62645f" opacity="0.63"/><circle cx="50.9" cy="241.2" r="0.70" fill="#62645f" opacity="0.51"/><circle cx="45.8" cy="249.0" r="0.42" fill="#62645f" opacity="0.80"/><circle cx="59.1" cy="238.3" r="0.68" fill="#62645f" opacity="0.47"/><circle cx="51.5" cy="235.7" r="0.87" fill="#62645f" opacity="0.70"/><circle cx="57.9" cy="230.4" r="0.53" fill="#62645f" opacity="0.37"/><circle cx="51.7" cy="258.0" r="0.44" fill="#62645f" opacity="0.37"/><circle cx="29.8" cy="242.4" r="0.63" fill="#62645f" opacity="0.78"/><circle cx="53.6" cy="246.5" r="0.70" fill="#62645f" opacity="0.53"/><circle cx="64.5" cy="263.7" r="0.53" fill="#62645f" opacity="0.60"/><circle cx="35.3" cy="233.3" r="0.73" fill="#62645f" opacity="0.53"/><circle cx="40.6" cy="252.1" r="0.88" fill="#62645f" opacity="0.80"/><circle cx="49.7" cy="253.5" r="0.53" fill="#62645f" opacity="0.51"/><circle cx="65.9" cy="237.8" r="0.82" fill="#62645f" opacity="0.37"/><circle cx="53.1" cy="231.9" r="0.72" fill="#62645f" opacity="0.79"/><circle cx="56.7" cy="252.2" r="0.78" fill="#62645f" opacity="0.77"/><circle cx="43.6" cy="238.9" r="0.70" fill="#62645f" opacity="0.69"/><circle cx="58.7" cy="256.9" r="0.53" fill="#62645f" opacity="0.41"/><circle cx="40.0" cy="250.4" r="0.52" fill="#62645f" opacity="0.41"/><circle cx="47.8" cy="247.2" r="0.76" fill="#62645f" opacity="0.44"/><circle cx="69.4" cy="254.0" r="0.51" fill="#62645f" opacity="0.77"/><circle cx="62.7" cy="234.5" r="0.47" fill="#62645f" opacity="0.55"/><circle cx="66.2" cy="261.2" r="0.82" fill="#62645f" opacity="0.63"/><circle cx="36.7" cy="253.1" r="0.81" fill="#62645f" opacity="0.56"/><circle cx="43.2" cy="243.6" r="0.51" fill="#62645f" opacity="0.38"/><circle cx="45.2" cy="233.9" r="0.47" fill="#62645f" opacity="0.74"/><circle cx="47.5" cy="263.0" r="0.48" fill="#62645f" opacity="0.47"/><circle cx="55.6" cy="239.0" r="0.48" fill="#62645f" opacity="0.57"/><circle cx="40.3" cy="267.8" r="0.46" fill="#62645f" opacity="0.79"/><circle cx="68.3" cy="256.5" r="0.73" fill="#62645f" opacity="0.45"/><circle cx="37.3" cy="251.0" r="0.53" fill="#62645f" opacity="0.44"/><circle cx="34.6" cy="265.4" r="0.90" fill="#62645f" opacity="0.77"/><circle cx="58.5" cy="256.0" r="0.85" fill="#62645f" opacity="0.38"/><circle cx="47.2" cy="238.0" r="0.89" fill="#62645f" opacity="0.36"/><circle cx="53.4" cy="237.7" r="0.47" fill="#62645f" opacity="0.35"/><circle cx="56.7" cy="235.9" r="0.49" fill="#62645f" opacity="0.55"/><circle cx="57.6" cy="244.2" r="0.69" fill="#62645f" opacity="0.41"/><circle cx="57.1" cy="266.3" r="0.76" fill="#62645f" opacity="0.44"/><circle cx="54.6" cy="252.4" r="0.70" fill="#62645f" opacity="0.57"/><circle cx="47.4" cy="259.0" r="0.71" fill="#62645f" opacity="0.67"/><circle cx="55.2" cy="234.3" r="0.50" fill="#62645f" opacity="0.38"/><circle cx="47.4" cy="235.9" r="0.76" fill="#62645f" opacity="0.37"/><circle cx="53.6" cy="237.9" r="0.82" fill="#62645f" opacity="0.74"/><circle cx="46.2" cy="249.5" r="0.86" fill="#62645f" opacity="0.56"/><circle cx="56.7" cy="241.5" r="0.49" fill="#62645f" opacity="0.72"/><circle cx="43.0" cy="255.8" r="0.59" fill="#62645f" opacity="0.62"/><circle cx="64.7" cy="249.8" r="0.62" fill="#62645f" opacity="0.58"/><circle cx="62.3" cy="261.8" r="0.81" fill="#62645f" opacity="0.74"/><circle cx="40.9" cy="265.6" r="0.59" fill="#62645f" opacity="0.69"/><circle cx="67.8" cy="256.9" r="0.88" fill="#62645f" opacity="0.57"/><circle cx="33.0" cy="248.1" r="0.67" fill="#62645f" opacity="0.36"/><circle cx="59.0" cy="247.3" r="0.49" fill="#62645f" opacity="0.40"/><circle cx="48.8" cy="268.7" r="0.42" fill="#62645f" opacity="0.39"/><circle cx="45.9" cy="240.5" r="0.41" fill="#62645f" opacity="0.62"/><circle cx="34.9" cy="242.3" r="0.75" fill="#62645f" opacity="0.40"/><circle cx="61.5" cy="236.2" r="0.42" fill="#62645f" opacity="0.41"/><circle cx="33.4" cy="250.0" r="0.54" fill="#62645f" opacity="0.40"/><circle cx="42.2" cy="253.8" r="0.70" fill="#62645f" opacity="0.74"/><circle cx="58.9" cy="262.3" r="0.77" fill="#62645f" opacity="0.42"/><circle cx="58.6" cy="231.1" r="0.59" fill="#62645f" opacity="0.54"/><circle cx="57.4" cy="236.3" r="0.60" fill="#62645f" opacity="0.77"/><circle cx="51.0" cy="237.2" r="0.52" fill="#62645f" opacity="0.50"/><circle cx="29.0" cy="257.7" r="0.80" fill="#62645f" opacity="0.76"/><circle cx="56.9" cy="231.4" r="0.43" fill="#62645f" opacity="0.58"/><circle cx="69.3" cy="244.0" r="0.52" fill="#62645f" opacity="0.54"/><circle cx="40.0" cy="239.9" r="0.67" fill="#62645f" opacity="0.38"/><circle cx="34.7" cy="255.6" r="0.41" fill="#62645f" opacity="0.41"/><circle cx="67.8" cy="245.8" r="0.87" fill="#62645f" opacity="0.63"/><circle cx="56.4" cy="230.7" r="0.84" fill="#62645f" opacity="0.37"/><circle cx="41.8" cy="240.9" r="0.74" fill="#62645f" opacity="0.47"/><circle cx="28.6" cy="244.0" r="0.71" fill="#62645f" opacity="0.46"/><circle cx="34.6" cy="247.6" r="0.88" fill="#62645f" opacity="0.48"/><circle cx="42.9" cy="265.5" r="0.46" fill="#62645f" opacity="0.62"/><circle cx="64.0" cy="245.2" r="0.53" fill="#62645f" opacity="0.56"/><circle cx="40.7" cy="247.7" r="0.46" fill="#62645f" opacity="0.41"/><circle cx="45.1" cy="262.5" r="0.54" fill="#62645f" opacity="0.46"/><circle cx="62.7" cy="257.7" r="0.82" fill="#62645f" opacity="0.62"/><circle cx="32.9" cy="242.1" r="0.50" fill="#62645f" opacity="0.67"/><circle cx="33.2" cy="253.2" r="0.71" fill="#62645f" opacity="0.56"/><circle cx="44.9" cy="259.1" r="0.51" fill="#62645f" opacity="0.58"/><circle cx="36.5" cy="260.3" r="0.41" fill="#62645f" opacity="0.51"/><circle cx="55.8" cy="241.5" r="0.68" fill="#62645f" opacity="0.57"/><circle cx="44.2" cy="270.1" r="0.55" fill="#62645f" opacity="0.70"/><circle cx="52.0" cy="254.0" r="0.84" fill="#62645f" opacity="0.55"/><circle cx="61.5" cy="254.4" r="0.62" fill="#62645f" opacity="0.68"/><circle cx="56.9" cy="255.8" r="0.88" fill="#62645f" opacity="0.68"/><circle cx="56.1" cy="259.6" r="0.58" fill="#62645f" opacity="0.65"/><circle cx="33.9" cy="236.3" r="0.81" fill="#62645f" opacity="0.58"/><circle cx="47.6" cy="231.1" r="0.78" fill="#62645f" opacity="0.56"/><circle cx="52.9" cy="231.9" r="0.86" fill="#62645f" opacity="0.41"/><circle cx="49.9" cy="248.4" r="0.78" fill="#62645f" opacity="0.61"/><circle cx="27.4" cy="249.7" r="0.69" fill="#62645f" opacity="0.54"/><circle cx="53.2" cy="229.9" r="0.70" fill="#62645f" opacity="0.52"/><circle cx="34.8" cy="253.7" r="0.76" fill="#62645f" opacity="0.48"/><circle cx="36.3" cy="259.5" r="0.59" fill="#62645f" opacity="0.49"/><circle cx="53.6" cy="230.3" r="0.65" fill="#62645f" opacity="0.55"/><circle cx="53.7" cy="260.2" r="0.47" fill="#62645f" opacity="0.61"/><circle cx="43.2" cy="246.3" r="0.86" fill="#62645f" opacity="0.50"/><circle cx="60.0" cy="233.1" r="0.88" fill="#62645f" opacity="0.44"/><circle cx="30.2" cy="258.5" r="0.41" fill="#62645f" opacity="0.37"/><circle cx="34.7" cy="243.4" r="0.86" fill="#62645f" opacity="0.70"/><circle cx="27.7" cy="244.3" r="0.66" fill="#62645f" opacity="0.58"/><circle cx="43.5" cy="237.2" r="0.58" fill="#62645f" opacity="0.62"/><circle cx="36.3" cy="266.1" r="0.74" fill="#62645f" opacity="0.59"/><circle cx="59.8" cy="257.0" r="0.60" fill="#62645f" opacity="0.60"/><circle cx="30.6" cy="240.4" r="0.88" fill="#62645f" opacity="0.57"/><circle cx="32.8" cy="255.6" r="0.90" fill="#62645f" opacity="0.50"/><circle cx="29.5" cy="245.8" r="0.49" fill="#62645f" opacity="0.49"/><circle cx="68.6" cy="246.8" r="0.66" fill="#62645f" opacity="0.40"/><circle cx="63.2" cy="238.5" r="0.81" fill="#62645f" opacity="0.80"/><circle cx="59.7" cy="240.5" r="0.48" fill="#62645f" opacity="0.48"/><circle cx="33.4" cy="248.3" r="0.49" fill="#62645f" opacity="0.43"/><circle cx="37.3" cy="237.3" r="0.58" fill="#62645f" opacity="0.80"/><circle cx="46.0" cy="246.1" r="0.61" fill="#62645f" opacity="0.70"/><circle cx="42.6" cy="266.0" r="0.40" fill="#62645f" opacity="0.49"/><circle cx="58.1" cy="235.7" r="0.73" fill="#62645f" opacity="0.44"/><circle cx="32.6" cy="249.6" r="0.53" fill="#62645f" opacity="0.64"/><circle cx="27.5" cy="245.2" r="0.69" fill="#62645f" opacity="0.53"/><circle cx="55.2" cy="255.2" r="0.78" fill="#62645f" opacity="0.40"/><circle cx="56.2" cy="254.6" r="0.66" fill="#62645f" opacity="0.72"/><circle cx="34.0" cy="236.9" r="0.43" fill="#62645f" opacity="0.36"/><circle cx="50.5" cy="237.4" r="0.76" fill="#62645f" opacity="0.51"/><circle cx="54.4" cy="259.0" r="0.45" fill="#62645f" opacity="0.76"/><circle cx="37.7" cy="243.2" r="0.62" fill="#62645f" opacity="0.52"/><circle cx="68.3" cy="256.2" r="0.69" fill="#62645f" opacity="0.78"/><circle cx="32.9" cy="255.6" r="0.52" fill="#62645f" opacity="0.37"/><circle cx="67.2" cy="241.1" r="0.56" fill="#62645f" opacity="0.75"/><circle cx="53.7" cy="238.6" r="0.70" fill="#62645f" opacity="0.78"/><circle cx="27.6" cy="250.0" r="0.52" fill="#62645f" opacity="0.53"/><circle cx="46.9" cy="239.6" r="0.55" fill="#62645f" opacity="0.74"/><circle cx="29.5" cy="251.3" r="0.52" fill="#62645f" opacity="0.43"/><circle cx="43.0" cy="256.6" r="0.89" fill="#62645f" opacity="0.48"/><circle cx="42.0" cy="246.7" r="0.67" fill="#62645f" opacity="0.52"/><circle cx="44.3" cy="252.5" r="0.46" fill="#62645f" opacity="0.72"/><circle cx="42.5" cy="257.9" r="0.50" fill="#62645f" opacity="0.48"/><circle cx="49.2" cy="253.4" r="0.73" fill="#62645f" opacity="0.50"/><circle cx="59.1" cy="264.3" r="0.45" fill="#62645f" opacity="0.47"/><circle cx="52.9" cy="242.8" r="0.62" fill="#62645f" opacity="0.73"/><circle cx="51.9" cy="241.4" r="0.58" fill="#62645f" opacity="0.68"/><circle cx="33.6" cy="264.0" r="0.50" fill="#62645f" opacity="0.78"/><circle cx="38.5" cy="249.1" r="0.63" fill="#62645f" opacity="0.41"/><circle cx="45.9" cy="238.9" r="0.85" fill="#62645f" opacity="0.61"/><circle cx="41.6" cy="257.2" r="0.70" fill="#62645f" opacity="0.45"/><circle cx="54.2" cy="244.0" r="0.66" fill="#62645f" opacity="0.59"/><circle cx="46.4" cy="268.0" r="0.59" fill="#62645f" opacity="0.65"/><circle cx="37.8" cy="244.5" r="0.59" fill="#62645f" opacity="0.39"/><circle cx="57.8" cy="267.0" r="0.56" fill="#62645f" opacity="0.65"/><circle cx="61.6" cy="259.5" r="0.58" fill="#62645f" opacity="0.58"/><circle cx="47.3" cy="254.6" r="0.56" fill="#62645f" opacity="0.45"/><circle cx="61.9" cy="262.3" r="0.54" fill="#62645f" opacity="0.53"/><circle cx="65.1" cy="239.2" r="0.84" fill="#62645f" opacity="0.74"/><circle cx="56.7" cy="257.7" r="0.41" fill="#62645f" opacity="0.66"/><circle cx="42.2" cy="238.6" r="0.61" fill="#62645f" opacity="0.65"/><circle cx="45.5" cy="239.3" r="0.82" fill="#62645f" opacity="0.51"/><circle cx="42.5" cy="242.8" r="0.46" fill="#62645f" opacity="0.76"/><circle cx="47.1" cy="231.5" r="0.42" fill="#62645f" opacity="0.37"/><circle cx="54.0" cy="257.5" r="0.55" fill="#62645f" opacity="0.52"/><circle cx="60.7" cy="252.3" r="0.72" fill="#62645f" opacity="0.43"/><circle cx="57.7" cy="235.8" r="0.76" fill="#62645f" opacity="0.46"/><circle cx="32.3" cy="256.4" r="0.57" fill="#62645f" opacity="0.35"/><circle cx="58.6" cy="233.2" r="0.54" fill="#62645f" opacity="0.37"/><circle cx="59.3" cy="236.2" r="0.42" fill="#62645f" opacity="0.46"/><circle cx="63.8" cy="261.6" r="0.51" fill="#62645f" opacity="0.76"/><circle cx="48.9" cy="243.1" r="0.75" fill="#62645f" opacity="0.53"/><circle cx="48.6" cy="230.0" r="0.54" fill="#62645f" opacity="0.39"/><circle cx="62.3" cy="244.8" r="0.87" fill="#62645f" opacity="0.66"/><circle cx="47.5" cy="230.0" r="0.71" fill="#62645f" opacity="0.55"/><circle cx="66.1" cy="255.4" r="0.61" fill="#62645f" opacity="0.58"/><circle cx="55.9" cy="246.1" r="0.78" fill="#62645f" opacity="0.37"/><circle cx="43.2" cy="231.1" r="0.53" fill="#62645f" opacity="0.60"/><circle cx="66.0" cy="246.1" r="0.67" fill="#62645f" opacity="0.46"/><circle cx="61.1" cy="254.1" r="0.61" fill="#62645f" opacity="0.44"/><circle cx="45.9" cy="256.7" r="0.75" fill="#62645f" opacity="0.65"/><circle cx="49.7" cy="259.9" r="0.66" fill="#62645f" opacity="0.55"/><circle cx="60.8" cy="244.4" r="0.55" fill="#62645f" opacity="0.75"/><circle cx="59.2" cy="261.9" r="0.57" fill="#62645f" opacity="0.72"/><circle cx="30.7" cy="243.8" r="0.48" fill="#62645f" opacity="0.65"/><circle cx="36.8" cy="241.0" r="0.78" fill="#62645f" opacity="0.72"/><circle cx="57.7" cy="257.0" r="0.58" fill="#62645f" opacity="0.44"/><circle cx="59.7" cy="253.6" r="0.50" fill="#62645f" opacity="0.67"/><circle cx="41.9" cy="251.7" r="0.56" fill="#62645f" opacity="0.56"/><circle cx="43.1" cy="256.0" r="0.44" fill="#62645f" opacity="0.35"/><circle cx="67.8" cy="248.5" r="0.44" fill="#62645f" opacity="0.67"/><circle cx="65.2" cy="247.4" r="0.45" fill="#62645f" opacity="0.57"/><circle cx="40.2" cy="253.1" r="0.67" fill="#62645f" opacity="0.35"/><circle cx="64.3" cy="241.1" r="0.71" fill="#62645f" opacity="0.77"/><circle cx="42.6" cy="240.6" r="0.52" fill="#62645f" opacity="0.41"/><circle cx="67.9" cy="252.6" r="0.82" fill="#62645f" opacity="0.48"/><circle cx="55.8" cy="265.1" r="0.82" fill="#62645f" opacity="0.77"/><circle cx="58.4" cy="265.9" r="0.82" fill="#62645f" opacity="0.68"/></g><g filter="url(#bl)"><ellipse cx="103.6" cy="249.4" rx="25.0" ry="22.4" fill="url(#gB)"/></g><g filter="url(#bl3)"><circle cx="99.1" cy="257.1" r="0.81" fill="#6a6c68" opacity="0.49"/><circle cx="92.3" cy="260.4" r="0.58" fill="#6a6c68" opacity="0.72"/><circle cx="103.9" cy="253.5" r="0.68" fill="#6a6c68" opacity="0.63"/><circle cx="111.6" cy="234.1" r="0.85" fill="#6a6c68" opacity="0.78"/><circle cx="87.7" cy="249.9" r="0.48" fill="#6a6c68" opacity="0.48"/><circle cx="98.0" cy="246.6" r="0.74" fill="#6a6c68" opacity="0.42"/><circle cx="82.8" cy="256.3" r="0.44" fill="#6a6c68" opacity="0.37"/><circle cx="94.5" cy="252.7" r="0.76" fill="#6a6c68" opacity="0.35"/><circle cx="114.8" cy="233.7" r="0.79" fill="#6a6c68" opacity="0.54"/><circle cx="99.8" cy="265.4" r="0.66" fill="#6a6c68" opacity="0.54"/><circle cx="95.7" cy="260.7" r="0.73" fill="#6a6c68" opacity="0.72"/><circle cx="111.1" cy="244.8" r="0.55" fill="#6a6c68" opacity="0.55"/><circle cx="91.4" cy="244.8" r="0.50" fill="#6a6c68" opacity="0.39"/><circle cx="96.8" cy="261.6" r="0.89" fill="#6a6c68" opacity="0.76"/><circle cx="118.3" cy="234.5" r="0.88" fill="#6a6c68" opacity="0.63"/><circle cx="105.7" cy="244.8" r="0.74" fill="#6a6c68" opacity="0.62"/><circle cx="98.6" cy="264.0" r="0.88" fill="#6a6c68" opacity="0.57"/><circle cx="96.2" cy="240.6" r="0.57" fill="#6a6c68" opacity="0.75"/><circle cx="113.2" cy="250.9" r="0.74" fill="#6a6c68" opacity="0.55"/><circle cx="119.3" cy="257.8" r="0.59" fill="#6a6c68" opacity="0.61"/><circle cx="89.4" cy="256.8" r="0.68" fill="#6a6c68" opacity="0.53"/><circle cx="110.8" cy="255.0" r="0.84" fill="#6a6c68" opacity="0.60"/><circle cx="119.5" cy="261.5" r="0.53" fill="#6a6c68" opacity="0.39"/><circle cx="92.5" cy="247.5" r="0.64" fill="#6a6c68" opacity="0.60"/><circle cx="106.1" cy="264.5" r="0.46" fill="#6a6c68" opacity="0.58"/><circle cx="98.2" cy="246.4" r="0.60" fill="#6a6c68" opacity="0.38"/><circle cx="84.2" cy="256.3" r="0.68" fill="#6a6c68" opacity="0.67"/><circle cx="103.9" cy="242.6" r="0.90" fill="#6a6c68" opacity="0.67"/><circle cx="120.0" cy="260.4" r="0.60" fill="#6a6c68" opacity="0.43"/><circle cx="120.0" cy="245.6" r="0.79" fill="#6a6c68" opacity="0.41"/><circle cx="104.5" cy="244.6" r="0.52" fill="#6a6c68" opacity="0.52"/><circle cx="120.9" cy="250.9" r="0.51" fill="#6a6c68" opacity="0.48"/><circle cx="99.7" cy="236.7" r="0.84" fill="#6a6c68" opacity="0.63"/><circle cx="115.3" cy="238.5" r="0.86" fill="#6a6c68" opacity="0.74"/><circle cx="113.2" cy="264.5" r="0.57" fill="#6a6c68" opacity="0.69"/><circle cx="95.0" cy="232.8" r="0.46" fill="#6a6c68" opacity="0.52"/><circle cx="101.8" cy="229.8" r="0.76" fill="#6a6c68" opacity="0.37"/><circle cx="98.0" cy="245.5" r="0.67" fill="#6a6c68" opacity="0.71"/><circle cx="120.0" cy="262.0" r="0.74" fill="#6a6c68" opacity="0.46"/><circle cx="108.9" cy="262.0" r="0.82" fill="#6a6c68" opacity="0.61"/><circle cx="106.1" cy="251.3" r="0.46" fill="#6a6c68" opacity="0.71"/><circle cx="110.2" cy="263.2" r="0.55" fill="#6a6c68" opacity="0.66"/><circle cx="97.3" cy="254.6" r="0.84" fill="#6a6c68" opacity="0.59"/><circle cx="96.1" cy="232.6" r="0.87" fill="#6a6c68" opacity="0.36"/><circle cx="98.8" cy="256.0" r="0.65" fill="#6a6c68" opacity="0.74"/><circle cx="104.9" cy="245.8" r="0.49" fill="#6a6c68" opacity="0.72"/><circle cx="97.6" cy="238.0" r="0.64" fill="#6a6c68" opacity="0.42"/><circle cx="111.5" cy="238.9" r="0.84" fill="#6a6c68" opacity="0.62"/><circle cx="115.1" cy="254.7" r="0.51" fill="#6a6c68" opacity="0.75"/><circle cx="99.6" cy="247.2" r="0.48" fill="#6a6c68" opacity="0.51"/><circle cx="86.9" cy="252.5" r="0.59" fill="#6a6c68" opacity="0.51"/><circle cx="120.7" cy="250.0" r="0.57" fill="#6a6c68" opacity="0.36"/><circle cx="82.0" cy="254.5" r="0.42" fill="#6a6c68" opacity="0.42"/><circle cx="98.0" cy="240.1" r="0.54" fill="#6a6c68" opacity="0.58"/><circle cx="102.3" cy="264.6" r="0.66" fill="#6a6c68" opacity="0.78"/><circle cx="107.8" cy="249.2" r="0.68" fill="#6a6c68" opacity="0.70"/><circle cx="117.4" cy="236.6" r="0.72" fill="#6a6c68" opacity="0.64"/><circle cx="95.8" cy="257.5" r="0.80" fill="#6a6c68" opacity="0.74"/><circle cx="120.8" cy="243.1" r="0.55" fill="#6a6c68" opacity="0.69"/><circle cx="102.5" cy="235.0" r="0.72" fill="#6a6c68" opacity="0.51"/><circle cx="90.0" cy="245.4" r="0.43" fill="#6a6c68" opacity="0.50"/><circle cx="93.7" cy="267.4" r="0.64" fill="#6a6c68" opacity="0.52"/><circle cx="104.1" cy="259.2" r="0.57" fill="#6a6c68" opacity="0.41"/><circle cx="124.6" cy="250.3" r="0.63" fill="#6a6c68" opacity="0.55"/><circle cx="92.4" cy="244.8" r="0.48" fill="#6a6c68" opacity="0.38"/><circle cx="99.6" cy="260.0" r="0.76" fill="#6a6c68" opacity="0.60"/><circle cx="115.7" cy="244.9" r="0.86" fill="#6a6c68" opacity="0.61"/><circle cx="111.9" cy="253.5" r="0.69" fill="#6a6c68" opacity="0.79"/><circle cx="91.3" cy="263.3" r="0.61" fill="#6a6c68" opacity="0.74"/><circle cx="117.9" cy="255.2" r="0.85" fill="#6a6c68" opacity="0.47"/><circle cx="103.4" cy="252.5" r="0.48" fill="#6a6c68" opacity="0.47"/><circle cx="100.6" cy="240.4" r="0.60" fill="#6a6c68" opacity="0.44"/><circle cx="86.9" cy="238.1" r="0.72" fill="#6a6c68" opacity="0.44"/><circle cx="101.4" cy="229.7" r="0.70" fill="#6a6c68" opacity="0.39"/><circle cx="111.3" cy="231.8" r="0.57" fill="#6a6c68" opacity="0.41"/><circle cx="109.8" cy="263.1" r="0.84" fill="#6a6c68" opacity="0.64"/><circle cx="112.8" cy="245.1" r="0.56" fill="#6a6c68" opacity="0.69"/><circle cx="95.1" cy="239.1" r="0.74" fill="#6a6c68" opacity="0.50"/><circle cx="117.1" cy="254.0" r="0.42" fill="#6a6c68" opacity="0.63"/><circle cx="95.6" cy="261.6" r="0.70" fill="#6a6c68" opacity="0.47"/><circle cx="101.0" cy="249.9" r="0.86" fill="#6a6c68" opacity="0.60"/><circle cx="108.9" cy="249.0" r="0.71" fill="#6a6c68" opacity="0.68"/><circle cx="100.3" cy="254.8" r="0.48" fill="#6a6c68" opacity="0.41"/><circle cx="104.3" cy="243.4" r="0.81" fill="#6a6c68" opacity="0.54"/><circle cx="86.8" cy="245.7" r="0.68" fill="#6a6c68" opacity="0.65"/><circle cx="93.2" cy="242.5" r="0.77" fill="#6a6c68" opacity="0.47"/><circle cx="98.9" cy="232.3" r="0.79" fill="#6a6c68" opacity="0.49"/><circle cx="106.7" cy="229.7" r="0.63" fill="#6a6c68" opacity="0.48"/><circle cx="82.0" cy="246.5" r="0.47" fill="#6a6c68" opacity="0.35"/><circle cx="85.6" cy="251.9" r="0.79" fill="#6a6c68" opacity="0.51"/><circle cx="114.3" cy="248.8" r="0.78" fill="#6a6c68" opacity="0.39"/><circle cx="111.7" cy="250.7" r="0.43" fill="#6a6c68" opacity="0.58"/><circle cx="94.6" cy="246.5" r="0.87" fill="#6a6c68" opacity="0.51"/><circle cx="109.2" cy="256.2" r="0.77" fill="#6a6c68" opacity="0.76"/><circle cx="105.6" cy="252.3" r="0.79" fill="#6a6c68" opacity="0.46"/><circle cx="119.4" cy="247.8" r="0.72" fill="#6a6c68" opacity="0.50"/><circle cx="108.4" cy="236.4" r="0.56" fill="#6a6c68" opacity="0.76"/><circle cx="118.6" cy="260.2" r="0.43" fill="#6a6c68" opacity="0.64"/><circle cx="86.5" cy="260.2" r="0.43" fill="#6a6c68" opacity="0.60"/><circle cx="85.4" cy="259.8" r="0.87" fill="#6a6c68" opacity="0.63"/><circle cx="105.4" cy="259.4" r="0.53" fill="#6a6c68" opacity="0.55"/><circle cx="104.8" cy="258.4" r="0.78" fill="#6a6c68" opacity="0.64"/><circle cx="96.9" cy="268.6" r="0.51" fill="#6a6c68" opacity="0.61"/><circle cx="115.2" cy="265.0" r="0.83" fill="#6a6c68" opacity="0.47"/><circle cx="103.8" cy="231.1" r="0.54" fill="#6a6c68" opacity="0.50"/><circle cx="82.4" cy="251.1" r="0.48" fill="#6a6c68" opacity="0.66"/><circle cx="91.2" cy="241.6" r="0.69" fill="#6a6c68" opacity="0.75"/><circle cx="108.9" cy="267.7" r="0.58" fill="#6a6c68" opacity="0.70"/><circle cx="109.9" cy="242.9" r="0.83" fill="#6a6c68" opacity="0.80"/><circle cx="102.6" cy="252.4" r="0.46" fill="#6a6c68" opacity="0.79"/><circle cx="125.0" cy="250.5" r="0.48" fill="#6a6c68" opacity="0.68"/><circle cx="111.2" cy="254.2" r="0.74" fill="#6a6c68" opacity="0.39"/><circle cx="92.1" cy="265.7" r="0.76" fill="#6a6c68" opacity="0.75"/><circle cx="107.6" cy="248.9" r="0.52" fill="#6a6c68" opacity="0.71"/><circle cx="102.0" cy="245.8" r="0.65" fill="#6a6c68" opacity="0.45"/><circle cx="97.0" cy="252.2" r="0.41" fill="#6a6c68" opacity="0.80"/><circle cx="95.0" cy="266.7" r="0.46" fill="#6a6c68" opacity="0.57"/><circle cx="113.3" cy="259.3" r="0.49" fill="#6a6c68" opacity="0.66"/><circle cx="115.2" cy="263.3" r="0.65" fill="#6a6c68" opacity="0.40"/><circle cx="94.0" cy="260.7" r="0.86" fill="#6a6c68" opacity="0.51"/><circle cx="108.4" cy="268.8" r="0.84" fill="#6a6c68" opacity="0.68"/><circle cx="102.2" cy="257.8" r="0.53" fill="#6a6c68" opacity="0.38"/><circle cx="119.1" cy="253.3" r="0.60" fill="#6a6c68" opacity="0.60"/><circle cx="102.1" cy="251.0" r="0.74" fill="#6a6c68" opacity="0.64"/><circle cx="87.6" cy="245.3" r="0.75" fill="#6a6c68" opacity="0.79"/><circle cx="117.0" cy="237.3" r="0.60" fill="#6a6c68" opacity="0.49"/><circle cx="84.2" cy="259.1" r="0.59" fill="#6a6c68" opacity="0.52"/><circle cx="96.4" cy="253.5" r="0.90" fill="#6a6c68" opacity="0.35"/><circle cx="86.7" cy="237.2" r="0.53" fill="#6a6c68" opacity="0.62"/><circle cx="95.7" cy="256.3" r="0.50" fill="#6a6c68" opacity="0.40"/><circle cx="114.6" cy="234.5" r="0.85" fill="#6a6c68" opacity="0.37"/><circle cx="99.2" cy="238.6" r="0.72" fill="#6a6c68" opacity="0.60"/><circle cx="94.7" cy="267.6" r="0.40" fill="#6a6c68" opacity="0.69"/><circle cx="113.3" cy="237.9" r="0.70" fill="#6a6c68" opacity="0.80"/><circle cx="105.3" cy="265.3" r="0.77" fill="#6a6c68" opacity="0.52"/><circle cx="100.3" cy="237.1" r="0.66" fill="#6a6c68" opacity="0.63"/><circle cx="98.0" cy="239.1" r="0.71" fill="#6a6c68" opacity="0.59"/><circle cx="106.5" cy="265.0" r="0.53" fill="#6a6c68" opacity="0.76"/><circle cx="84.8" cy="252.3" r="0.66" fill="#6a6c68" opacity="0.56"/><circle cx="105.1" cy="256.9" r="0.86" fill="#6a6c68" opacity="0.59"/><circle cx="87.4" cy="247.2" r="0.81" fill="#6a6c68" opacity="0.46"/><circle cx="113.2" cy="265.5" r="0.63" fill="#6a6c68" opacity="0.64"/><circle cx="113.5" cy="232.5" r="0.83" fill="#6a6c68" opacity="0.37"/><circle cx="88.5" cy="261.9" r="0.81" fill="#6a6c68" opacity="0.41"/><circle cx="110.0" cy="257.7" r="0.45" fill="#6a6c68" opacity="0.51"/><circle cx="108.9" cy="235.6" r="0.63" fill="#6a6c68" opacity="0.39"/><circle cx="85.8" cy="261.7" r="0.75" fill="#6a6c68" opacity="0.55"/><circle cx="83.7" cy="251.8" r="0.78" fill="#6a6c68" opacity="0.42"/><circle cx="97.8" cy="238.3" r="0.66" fill="#6a6c68" opacity="0.46"/><circle cx="94.6" cy="257.9" r="0.59" fill="#6a6c68" opacity="0.36"/><circle cx="108.8" cy="263.9" r="0.43" fill="#6a6c68" opacity="0.43"/><circle cx="101.3" cy="239.0" r="0.56" fill="#6a6c68" opacity="0.46"/><circle cx="107.0" cy="244.1" r="0.72" fill="#6a6c68" opacity="0.74"/><circle cx="108.0" cy="261.9" r="0.80" fill="#6a6c68" opacity="0.63"/><circle cx="100.3" cy="252.4" r="0.62" fill="#6a6c68" opacity="0.52"/><circle cx="100.7" cy="238.7" r="0.60" fill="#6a6c68" opacity="0.64"/><circle cx="108.6" cy="238.3" r="0.59" fill="#6a6c68" opacity="0.61"/><circle cx="112.4" cy="245.4" r="0.89" fill="#6a6c68" opacity="0.67"/><circle cx="90.8" cy="261.2" r="0.56" fill="#6a6c68" opacity="0.38"/><circle cx="104.1" cy="237.0" r="0.66" fill="#6a6c68" opacity="0.57"/><circle cx="119.5" cy="239.2" r="0.41" fill="#6a6c68" opacity="0.62"/><circle cx="88.7" cy="252.6" r="0.82" fill="#6a6c68" opacity="0.54"/><circle cx="82.7" cy="252.5" r="0.62" fill="#6a6c68" opacity="0.57"/><circle cx="83.2" cy="248.0" r="0.74" fill="#6a6c68" opacity="0.68"/><circle cx="99.9" cy="251.8" r="0.74" fill="#6a6c68" opacity="0.60"/><circle cx="106.0" cy="231.8" r="0.46" fill="#6a6c68" opacity="0.45"/><circle cx="121.6" cy="257.9" r="0.45" fill="#6a6c68" opacity="0.39"/><circle cx="103.9" cy="234.3" r="0.43" fill="#6a6c68" opacity="0.66"/><circle cx="99.8" cy="235.8" r="0.43" fill="#6a6c68" opacity="0.66"/><circle cx="88.6" cy="257.0" r="0.90" fill="#6a6c68" opacity="0.72"/><circle cx="109.6" cy="243.9" r="0.57" fill="#6a6c68" opacity="0.58"/><circle cx="126.0" cy="250.2" r="0.54" fill="#6a6c68" opacity="0.47"/><circle cx="99.2" cy="258.8" r="0.83" fill="#6a6c68" opacity="0.60"/><circle cx="89.0" cy="248.5" r="0.43" fill="#6a6c68" opacity="0.49"/><circle cx="117.1" cy="236.0" r="0.83" fill="#6a6c68" opacity="0.47"/><circle cx="105.1" cy="253.8" r="0.67" fill="#6a6c68" opacity="0.52"/><circle cx="88.3" cy="252.5" r="0.69" fill="#6a6c68" opacity="0.51"/><circle cx="106.8" cy="240.8" r="0.86" fill="#6a6c68" opacity="0.60"/><circle cx="115.6" cy="253.0" r="0.67" fill="#6a6c68" opacity="0.53"/><circle cx="91.9" cy="244.9" r="0.54" fill="#6a6c68" opacity="0.71"/><circle cx="98.7" cy="265.8" r="0.80" fill="#6a6c68" opacity="0.62"/><circle cx="82.7" cy="254.9" r="0.62" fill="#6a6c68" opacity="0.75"/><circle cx="117.5" cy="254.1" r="0.72" fill="#6a6c68" opacity="0.37"/><circle cx="107.5" cy="245.3" r="0.70" fill="#6a6c68" opacity="0.43"/><circle cx="118.5" cy="242.3" r="0.80" fill="#6a6c68" opacity="0.57"/><circle cx="95.1" cy="234.7" r="0.55" fill="#6a6c68" opacity="0.44"/><circle cx="108.1" cy="242.9" r="0.86" fill="#6a6c68" opacity="0.44"/><circle cx="109.2" cy="253.1" r="0.79" fill="#6a6c68" opacity="0.78"/><circle cx="87.9" cy="257.8" r="0.53" fill="#6a6c68" opacity="0.76"/><circle cx="100.1" cy="242.1" r="0.43" fill="#6a6c68" opacity="0.66"/><circle cx="123.5" cy="254.2" r="0.55" fill="#6a6c68" opacity="0.45"/><circle cx="92.5" cy="243.8" r="0.68" fill="#6a6c68" opacity="0.42"/><circle cx="114.5" cy="243.4" r="0.82" fill="#6a6c68" opacity="0.42"/><circle cx="110.4" cy="230.4" r="0.60" fill="#6a6c68" opacity="0.36"/><circle cx="90.5" cy="260.4" r="0.51" fill="#6a6c68" opacity="0.60"/><circle cx="116.4" cy="257.0" r="0.76" fill="#6a6c68" opacity="0.54"/><circle cx="100.3" cy="243.3" r="0.81" fill="#6a6c68" opacity="0.40"/><circle cx="123.5" cy="240.1" r="0.87" fill="#6a6c68" opacity="0.59"/><circle cx="100.2" cy="260.9" r="0.78" fill="#6a6c68" opacity="0.57"/><circle cx="109.8" cy="246.8" r="0.64" fill="#6a6c68" opacity="0.74"/><circle cx="90.1" cy="240.9" r="0.44" fill="#6a6c68" opacity="0.41"/><circle cx="100.8" cy="268.3" r="0.82" fill="#6a6c68" opacity="0.45"/><circle cx="107.2" cy="247.7" r="0.70" fill="#6a6c68" opacity="0.79"/><circle cx="91.4" cy="265.7" r="0.73" fill="#6a6c68" opacity="0.37"/><circle cx="96.1" cy="261.1" r="0.52" fill="#6a6c68" opacity="0.68"/><circle cx="112.2" cy="265.5" r="0.55" fill="#6a6c68" opacity="0.38"/><circle cx="97.1" cy="247.1" r="0.68" fill="#6a6c68" opacity="0.70"/><circle cx="91.0" cy="241.7" r="0.42" fill="#6a6c68" opacity="0.58"/><circle cx="118.4" cy="258.7" r="0.47" fill="#6a6c68" opacity="0.61"/><circle cx="95.3" cy="259.3" r="0.73" fill="#6a6c68" opacity="0.42"/><circle cx="114.2" cy="266.5" r="0.57" fill="#6a6c68" opacity="0.73"/><circle cx="114.5" cy="239.4" r="0.47" fill="#6a6c68" opacity="0.39"/><circle cx="109.2" cy="244.6" r="0.65" fill="#6a6c68" opacity="0.59"/><circle cx="115.0" cy="258.7" r="0.48" fill="#6a6c68" opacity="0.59"/><circle cx="90.0" cy="248.9" r="0.50" fill="#6a6c68" opacity="0.53"/><circle cx="105.9" cy="256.3" r="0.52" fill="#6a6c68" opacity="0.74"/><circle cx="82.4" cy="249.2" r="0.41" fill="#6a6c68" opacity="0.77"/><circle cx="83.6" cy="250.7" r="0.69" fill="#6a6c68" opacity="0.66"/><circle cx="106.1" cy="266.7" r="0.48" fill="#6a6c68" opacity="0.47"/><circle cx="117.4" cy="251.8" r="0.66" fill="#6a6c68" opacity="0.48"/><circle cx="108.6" cy="245.7" r="0.69" fill="#6a6c68" opacity="0.46"/><circle cx="87.1" cy="239.3" r="0.76" fill="#6a6c68" opacity="0.38"/><circle cx="104.1" cy="265.0" r="0.89" fill="#6a6c68" opacity="0.37"/><circle cx="89.8" cy="238.1" r="0.81" fill="#6a6c68" opacity="0.50"/><circle cx="109.3" cy="236.7" r="0.86" fill="#6a6c68" opacity="0.35"/><circle cx="117.0" cy="244.7" r="0.60" fill="#6a6c68" opacity="0.39"/><circle cx="104.2" cy="266.7" r="0.74" fill="#6a6c68" opacity="0.42"/><circle cx="98.9" cy="255.7" r="0.50" fill="#6a6c68" opacity="0.45"/><circle cx="92.8" cy="266.8" r="0.90" fill="#6a6c68" opacity="0.71"/><circle cx="87.9" cy="251.2" r="0.79" fill="#6a6c68" opacity="0.76"/><circle cx="103.8" cy="233.3" r="0.50" fill="#6a6c68" opacity="0.63"/><circle cx="114.9" cy="234.7" r="0.45" fill="#6a6c68" opacity="0.67"/><circle cx="98.3" cy="256.0" r="0.88" fill="#6a6c68" opacity="0.65"/><circle cx="103.4" cy="242.0" r="0.81" fill="#6a6c68" opacity="0.77"/><circle cx="119.6" cy="239.6" r="0.82" fill="#6a6c68" opacity="0.71"/><circle cx="91.1" cy="242.2" r="0.81" fill="#6a6c68" opacity="0.70"/><circle cx="112.1" cy="241.4" r="0.88" fill="#6a6c68" opacity="0.59"/><circle cx="110.8" cy="247.1" r="0.88" fill="#6a6c68" opacity="0.70"/><circle cx="103.3" cy="267.9" r="0.52" fill="#6a6c68" opacity="0.44"/><circle cx="93.0" cy="252.0" r="0.65" fill="#6a6c68" opacity="0.76"/><circle cx="96.1" cy="233.8" r="0.60" fill="#6a6c68" opacity="0.70"/><circle cx="108.6" cy="233.4" r="0.87" fill="#6a6c68" opacity="0.72"/><circle cx="98.1" cy="252.7" r="0.73" fill="#6a6c68" opacity="0.73"/><circle cx="94.3" cy="262.6" r="0.82" fill="#6a6c68" opacity="0.71"/><circle cx="119.3" cy="249.8" r="0.41" fill="#6a6c68" opacity="0.40"/><circle cx="109.2" cy="237.3" r="0.70" fill="#6a6c68" opacity="0.56"/><circle cx="98.3" cy="257.4" r="0.58" fill="#6a6c68" opacity="0.73"/><circle cx="94.7" cy="242.0" r="0.44" fill="#6a6c68" opacity="0.47"/><circle cx="99.1" cy="236.6" r="0.73" fill="#6a6c68" opacity="0.71"/><circle cx="117.1" cy="260.9" r="0.42" fill="#6a6c68" opacity="0.72"/><circle cx="108.3" cy="259.0" r="0.88" fill="#6a6c68" opacity="0.51"/><circle cx="107.0" cy="268.2" r="0.71" fill="#6a6c68" opacity="0.75"/><circle cx="91.1" cy="258.2" r="0.88" fill="#6a6c68" opacity="0.58"/><circle cx="113.4" cy="248.8" r="0.82" fill="#6a6c68" opacity="0.42"/><circle cx="103.2" cy="249.3" r="0.49" fill="#6a6c68" opacity="0.78"/><circle cx="84.2" cy="254.5" r="0.53" fill="#6a6c68" opacity="0.51"/><circle cx="117.1" cy="258.3" r="0.83" fill="#6a6c68" opacity="0.58"/><circle cx="88.1" cy="263.0" r="0.85" fill="#6a6c68" opacity="0.65"/><circle cx="119.4" cy="256.7" r="0.62" fill="#6a6c68" opacity="0.78"/><circle cx="91.8" cy="261.9" r="0.72" fill="#6a6c68" opacity="0.52"/><circle cx="85.3" cy="247.1" r="0.85" fill="#6a6c68" opacity="0.57"/><circle cx="89.0" cy="264.4" r="0.43" fill="#6a6c68" opacity="0.73"/><circle cx="96.8" cy="235.6" r="0.62" fill="#6a6c68" opacity="0.69"/><circle cx="118.5" cy="238.5" r="0.77" fill="#6a6c68" opacity="0.37"/><circle cx="99.8" cy="256.0" r="0.88" fill="#6a6c68" opacity="0.75"/><circle cx="114.2" cy="261.6" r="0.69" fill="#6a6c68" opacity="0.37"/><circle cx="88.4" cy="260.3" r="0.72" fill="#6a6c68" opacity="0.48"/><circle cx="104.5" cy="238.6" r="0.67" fill="#6a6c68" opacity="0.54"/><circle cx="121.6" cy="247.2" r="0.80" fill="#6a6c68" opacity="0.65"/><circle cx="87.5" cy="262.9" r="0.75" fill="#6a6c68" opacity="0.66"/><circle cx="102.0" cy="257.4" r="0.69" fill="#6a6c68" opacity="0.72"/><circle cx="107.2" cy="238.0" r="0.47" fill="#6a6c68" opacity="0.58"/><circle cx="110.1" cy="243.7" r="0.77" fill="#6a6c68" opacity="0.43"/><circle cx="101.6" cy="253.7" r="0.55" fill="#6a6c68" opacity="0.52"/><circle cx="125.2" cy="245.3" r="0.49" fill="#6a6c68" opacity="0.49"/><circle cx="113.0" cy="246.3" r="0.56" fill="#6a6c68" opacity="0.55"/><circle cx="112.5" cy="255.9" r="0.60" fill="#6a6c68" opacity="0.52"/><circle cx="114.9" cy="247.0" r="0.50" fill="#6a6c68" opacity="0.76"/><circle cx="84.0" cy="255.1" r="0.72" fill="#6a6c68" opacity="0.70"/><circle cx="100.1" cy="256.6" r="0.78" fill="#6a6c68" opacity="0.56"/></g><g filter="url(#bl)"><ellipse cx="49.3" cy="308.2" rx="25.0" ry="24.0" fill="url(#gB3)"/></g><g filter="url(#bl3)"><circle cx="32.1" cy="301.8" r="0.78" fill="#7e7e74" opacity="0.47"/><circle cx="35.3" cy="323.9" r="0.66" fill="#7e7e74" opacity="0.48"/><circle cx="41.5" cy="300.2" r="0.79" fill="#7e7e74" opacity="0.37"/><circle cx="57.1" cy="293.8" r="0.58" fill="#7e7e74" opacity="0.77"/><circle cx="48.2" cy="318.8" r="0.43" fill="#7e7e74" opacity="0.60"/><circle cx="49.7" cy="290.4" r="0.61" fill="#7e7e74" opacity="0.71"/><circle cx="58.8" cy="315.9" r="0.72" fill="#7e7e74" opacity="0.79"/><circle cx="36.8" cy="294.8" r="0.79" fill="#7e7e74" opacity="0.53"/><circle cx="67.3" cy="301.4" r="0.57" fill="#7e7e74" opacity="0.53"/><circle cx="53.9" cy="296.2" r="0.49" fill="#7e7e74" opacity="0.74"/><circle cx="33.4" cy="305.1" r="0.73" fill="#7e7e74" opacity="0.76"/><circle cx="58.0" cy="317.6" r="0.43" fill="#7e7e74" opacity="0.54"/><circle cx="28.5" cy="307.9" r="0.73" fill="#7e7e74" opacity="0.61"/><circle cx="35.3" cy="317.5" r="0.54" fill="#7e7e74" opacity="0.73"/><circle cx="54.2" cy="289.0" r="0.48" fill="#7e7e74" opacity="0.65"/><circle cx="49.7" cy="292.9" r="0.85" fill="#7e7e74" opacity="0.75"/><circle cx="48.4" cy="288.6" r="0.72" fill="#7e7e74" opacity="0.75"/><circle cx="62.1" cy="321.5" r="0.75" fill="#7e7e74" opacity="0.63"/><circle cx="48.4" cy="313.7" r="0.70" fill="#7e7e74" opacity="0.72"/><circle cx="47.8" cy="318.1" r="0.51" fill="#7e7e74" opacity="0.39"/><circle cx="39.3" cy="289.1" r="0.80" fill="#7e7e74" opacity="0.51"/><circle cx="47.4" cy="302.7" r="0.82" fill="#7e7e74" opacity="0.50"/><circle cx="67.1" cy="308.6" r="0.47" fill="#7e7e74" opacity="0.47"/><circle cx="63.3" cy="313.4" r="0.68" fill="#7e7e74" opacity="0.71"/><circle cx="69.1" cy="313.0" r="0.46" fill="#7e7e74" opacity="0.45"/><circle cx="40.3" cy="299.0" r="0.57" fill="#7e7e74" opacity="0.61"/><circle cx="53.3" cy="327.0" r="0.50" fill="#7e7e74" opacity="0.73"/><circle cx="55.2" cy="293.4" r="0.42" fill="#7e7e74" opacity="0.70"/><circle cx="65.0" cy="310.9" r="0.61" fill="#7e7e74" opacity="0.38"/><circle cx="36.2" cy="294.8" r="0.69" fill="#7e7e74" opacity="0.53"/><circle cx="32.1" cy="306.9" r="0.51" fill="#7e7e74" opacity="0.74"/><circle cx="69.5" cy="307.7" r="0.88" fill="#7e7e74" opacity="0.50"/><circle cx="55.3" cy="307.7" r="0.64" fill="#7e7e74" opacity="0.41"/><circle cx="31.5" cy="313.3" r="0.75" fill="#7e7e74" opacity="0.55"/><circle cx="44.0" cy="316.1" r="0.60" fill="#7e7e74" opacity="0.48"/><circle cx="55.9" cy="325.6" r="0.66" fill="#7e7e74" opacity="0.55"/><circle cx="55.4" cy="325.4" r="0.50" fill="#7e7e74" opacity="0.47"/><circle cx="31.8" cy="301.5" r="0.89" fill="#7e7e74" opacity="0.69"/><circle cx="69.8" cy="301.6" r="0.76" fill="#7e7e74" opacity="0.67"/><circle cx="58.7" cy="312.0" r="0.41" fill="#7e7e74" opacity="0.74"/><circle cx="46.2" cy="291.3" r="0.53" fill="#7e7e74" opacity="0.51"/><circle cx="58.5" cy="322.9" r="0.90" fill="#7e7e74" opacity="0.49"/><circle cx="58.4" cy="310.7" r="0.58" fill="#7e7e74" opacity="0.75"/><circle cx="54.4" cy="294.5" r="0.45" fill="#7e7e74" opacity="0.40"/><circle cx="60.6" cy="323.9" r="0.64" fill="#7e7e74" opacity="0.80"/><circle cx="66.3" cy="298.1" r="0.64" fill="#7e7e74" opacity="0.72"/><circle cx="54.4" cy="313.3" r="0.68" fill="#7e7e74" opacity="0.58"/><circle cx="52.2" cy="318.7" r="0.41" fill="#7e7e74" opacity="0.76"/><circle cx="43.9" cy="287.9" r="0.89" fill="#7e7e74" opacity="0.55"/><circle cx="47.8" cy="294.9" r="0.81" fill="#7e7e74" opacity="0.73"/><circle cx="51.0" cy="310.0" r="0.51" fill="#7e7e74" opacity="0.61"/><circle cx="47.7" cy="309.6" r="0.82" fill="#7e7e74" opacity="0.70"/><circle cx="44.7" cy="309.2" r="0.84" fill="#7e7e74" opacity="0.59"/><circle cx="60.8" cy="313.5" r="0.71" fill="#7e7e74" opacity="0.75"/><circle cx="31.4" cy="309.9" r="0.50" fill="#7e7e74" opacity="0.46"/><circle cx="60.8" cy="300.7" r="0.45" fill="#7e7e74" opacity="0.62"/><circle cx="56.4" cy="315.1" r="0.63" fill="#7e7e74" opacity="0.61"/><circle cx="36.9" cy="294.5" r="0.62" fill="#7e7e74" opacity="0.38"/><circle cx="48.5" cy="303.3" r="0.64" fill="#7e7e74" opacity="0.53"/><circle cx="40.4" cy="292.1" r="0.52" fill="#7e7e74" opacity="0.64"/><circle cx="43.8" cy="294.3" r="0.47" fill="#7e7e74" opacity="0.76"/><circle cx="44.7" cy="305.0" r="0.52" fill="#7e7e74" opacity="0.79"/><circle cx="51.2" cy="321.6" r="0.79" fill="#7e7e74" opacity="0.72"/><circle cx="36.4" cy="294.3" r="0.42" fill="#7e7e74" opacity="0.39"/><circle cx="69.2" cy="305.3" r="0.42" fill="#7e7e74" opacity="0.37"/><circle cx="50.6" cy="329.0" r="0.51" fill="#7e7e74" opacity="0.65"/><circle cx="65.6" cy="300.9" r="0.86" fill="#7e7e74" opacity="0.47"/><circle cx="51.0" cy="310.6" r="0.78" fill="#7e7e74" opacity="0.40"/><circle cx="68.0" cy="305.1" r="0.49" fill="#7e7e74" opacity="0.71"/><circle cx="57.7" cy="321.4" r="0.45" fill="#7e7e74" opacity="0.70"/><circle cx="65.9" cy="295.0" r="0.40" fill="#7e7e74" opacity="0.73"/><circle cx="30.2" cy="301.5" r="0.65" fill="#7e7e74" opacity="0.63"/><circle cx="32.6" cy="297.4" r="0.44" fill="#7e7e74" opacity="0.37"/><circle cx="37.7" cy="304.9" r="0.60" fill="#7e7e74" opacity="0.35"/><circle cx="49.2" cy="304.9" r="0.81" fill="#7e7e74" opacity="0.72"/><circle cx="41.7" cy="310.2" r="0.73" fill="#7e7e74" opacity="0.44"/><circle cx="42.6" cy="311.3" r="0.89" fill="#7e7e74" opacity="0.60"/><circle cx="45.2" cy="313.5" r="0.77" fill="#7e7e74" opacity="0.73"/><circle cx="53.4" cy="302.6" r="0.58" fill="#7e7e74" opacity="0.49"/><circle cx="50.0" cy="299.9" r="0.70" fill="#7e7e74" opacity="0.79"/><circle cx="49.5" cy="306.4" r="0.44" fill="#7e7e74" opacity="0.40"/><circle cx="43.1" cy="292.6" r="0.66" fill="#7e7e74" opacity="0.56"/><circle cx="34.6" cy="317.5" r="0.72" fill="#7e7e74" opacity="0.76"/><circle cx="47.1" cy="289.0" r="0.86" fill="#7e7e74" opacity="0.73"/><circle cx="48.5" cy="304.5" r="0.74" fill="#7e7e74" opacity="0.73"/><circle cx="30.2" cy="316.7" r="0.49" fill="#7e7e74" opacity="0.77"/><circle cx="31.6" cy="314.7" r="0.53" fill="#7e7e74" opacity="0.49"/><circle cx="41.9" cy="318.2" r="0.45" fill="#7e7e74" opacity="0.55"/><circle cx="67.4" cy="306.1" r="0.87" fill="#7e7e74" opacity="0.69"/><circle cx="60.9" cy="289.8" r="0.78" fill="#7e7e74" opacity="0.47"/><circle cx="49.3" cy="322.1" r="0.41" fill="#7e7e74" opacity="0.45"/><circle cx="65.6" cy="294.6" r="0.56" fill="#7e7e74" opacity="0.70"/><circle cx="52.6" cy="288.1" r="0.80" fill="#7e7e74" opacity="0.59"/><circle cx="65.5" cy="320.2" r="0.56" fill="#7e7e74" opacity="0.63"/><circle cx="38.2" cy="319.9" r="0.88" fill="#7e7e74" opacity="0.42"/><circle cx="31.5" cy="304.8" r="0.67" fill="#7e7e74" opacity="0.77"/><circle cx="31.3" cy="319.5" r="0.74" fill="#7e7e74" opacity="0.79"/><circle cx="58.1" cy="313.5" r="0.54" fill="#7e7e74" opacity="0.76"/><circle cx="60.7" cy="309.1" r="0.76" fill="#7e7e74" opacity="0.80"/><circle cx="56.0" cy="321.0" r="0.74" fill="#7e7e74" opacity="0.66"/><circle cx="48.8" cy="289.5" r="0.52" fill="#7e7e74" opacity="0.47"/><circle cx="67.7" cy="311.3" r="0.50" fill="#7e7e74" opacity="0.47"/><circle cx="66.9" cy="304.3" r="0.70" fill="#7e7e74" opacity="0.65"/><circle cx="34.0" cy="297.8" r="0.55" fill="#7e7e74" opacity="0.38"/><circle cx="51.8" cy="309.3" r="0.58" fill="#7e7e74" opacity="0.41"/><circle cx="61.3" cy="318.1" r="0.88" fill="#7e7e74" opacity="0.66"/><circle cx="46.4" cy="326.9" r="0.49" fill="#7e7e74" opacity="0.40"/><circle cx="44.6" cy="321.2" r="0.74" fill="#7e7e74" opacity="0.55"/><circle cx="48.4" cy="301.6" r="0.87" fill="#7e7e74" opacity="0.50"/><circle cx="51.2" cy="304.9" r="0.81" fill="#7e7e74" opacity="0.45"/><circle cx="61.7" cy="292.9" r="0.74" fill="#7e7e74" opacity="0.47"/><circle cx="59.1" cy="308.8" r="0.85" fill="#7e7e74" opacity="0.42"/><circle cx="40.0" cy="294.3" r="0.73" fill="#7e7e74" opacity="0.43"/><circle cx="53.6" cy="313.5" r="0.89" fill="#7e7e74" opacity="0.52"/><circle cx="39.5" cy="294.9" r="0.51" fill="#7e7e74" opacity="0.38"/><circle cx="70.0" cy="310.1" r="0.47" fill="#7e7e74" opacity="0.78"/><circle cx="36.8" cy="322.1" r="0.47" fill="#7e7e74" opacity="0.70"/><circle cx="49.2" cy="321.3" r="0.66" fill="#7e7e74" opacity="0.40"/><circle cx="49.5" cy="327.5" r="0.54" fill="#7e7e74" opacity="0.52"/><circle cx="50.3" cy="298.0" r="0.50" fill="#7e7e74" opacity="0.45"/><circle cx="39.1" cy="316.9" r="0.72" fill="#7e7e74" opacity="0.56"/><circle cx="52.8" cy="304.7" r="0.73" fill="#7e7e74" opacity="0.73"/><circle cx="49.7" cy="311.9" r="0.62" fill="#7e7e74" opacity="0.40"/><circle cx="30.9" cy="312.7" r="0.45" fill="#7e7e74" opacity="0.40"/><circle cx="40.0" cy="309.4" r="0.52" fill="#7e7e74" opacity="0.55"/><circle cx="53.6" cy="312.0" r="0.58" fill="#7e7e74" opacity="0.56"/><circle cx="64.7" cy="302.0" r="0.44" fill="#7e7e74" opacity="0.45"/><circle cx="48.7" cy="292.0" r="0.84" fill="#7e7e74" opacity="0.78"/><circle cx="54.0" cy="302.6" r="0.87" fill="#7e7e74" opacity="0.59"/><circle cx="49.9" cy="317.1" r="0.83" fill="#7e7e74" opacity="0.45"/><circle cx="59.3" cy="313.7" r="0.86" fill="#7e7e74" opacity="0.56"/><circle cx="48.6" cy="302.3" r="0.63" fill="#7e7e74" opacity="0.49"/><circle cx="54.4" cy="325.1" r="0.58" fill="#7e7e74" opacity="0.40"/><circle cx="64.8" cy="306.7" r="0.49" fill="#7e7e74" opacity="0.35"/><circle cx="40.1" cy="295.5" r="0.41" fill="#7e7e74" opacity="0.56"/><circle cx="48.3" cy="292.4" r="0.52" fill="#7e7e74" opacity="0.57"/><circle cx="34.9" cy="297.5" r="0.47" fill="#7e7e74" opacity="0.71"/><circle cx="67.5" cy="302.0" r="0.83" fill="#7e7e74" opacity="0.52"/><circle cx="57.2" cy="302.9" r="0.51" fill="#7e7e74" opacity="0.62"/><circle cx="54.5" cy="304.6" r="0.51" fill="#7e7e74" opacity="0.37"/><circle cx="41.5" cy="311.2" r="0.50" fill="#7e7e74" opacity="0.69"/><circle cx="30.4" cy="297.7" r="0.60" fill="#7e7e74" opacity="0.66"/><circle cx="71.1" cy="309.9" r="0.52" fill="#7e7e74" opacity="0.56"/><circle cx="27.4" cy="306.7" r="0.65" fill="#7e7e74" opacity="0.80"/><circle cx="41.7" cy="301.3" r="0.82" fill="#7e7e74" opacity="0.44"/><circle cx="64.5" cy="308.2" r="0.51" fill="#7e7e74" opacity="0.78"/><circle cx="43.0" cy="320.6" r="0.57" fill="#7e7e74" opacity="0.65"/><circle cx="62.9" cy="310.1" r="0.48" fill="#7e7e74" opacity="0.72"/><circle cx="66.8" cy="308.2" r="0.53" fill="#7e7e74" opacity="0.55"/><circle cx="31.7" cy="301.3" r="0.47" fill="#7e7e74" opacity="0.46"/><circle cx="65.3" cy="322.7" r="0.47" fill="#7e7e74" opacity="0.41"/><circle cx="32.3" cy="305.9" r="0.84" fill="#7e7e74" opacity="0.38"/><circle cx="50.2" cy="317.0" r="0.69" fill="#7e7e74" opacity="0.55"/><circle cx="31.5" cy="319.2" r="0.73" fill="#7e7e74" opacity="0.74"/><circle cx="60.5" cy="305.2" r="0.87" fill="#7e7e74" opacity="0.53"/><circle cx="69.7" cy="314.8" r="0.45" fill="#7e7e74" opacity="0.36"/><circle cx="46.3" cy="319.5" r="0.88" fill="#7e7e74" opacity="0.74"/><circle cx="35.0" cy="315.8" r="0.82" fill="#7e7e74" opacity="0.71"/><circle cx="40.1" cy="295.5" r="0.46" fill="#7e7e74" opacity="0.46"/><circle cx="39.9" cy="294.3" r="0.80" fill="#7e7e74" opacity="0.75"/><circle cx="58.9" cy="306.0" r="0.44" fill="#7e7e74" opacity="0.75"/><circle cx="40.6" cy="304.3" r="0.75" fill="#7e7e74" opacity="0.47"/><circle cx="50.4" cy="321.2" r="0.66" fill="#7e7e74" opacity="0.65"/><circle cx="66.6" cy="316.5" r="0.71" fill="#7e7e74" opacity="0.56"/><circle cx="39.8" cy="291.2" r="0.40" fill="#7e7e74" opacity="0.56"/><circle cx="41.0" cy="291.8" r="0.72" fill="#7e7e74" opacity="0.43"/><circle cx="68.6" cy="303.3" r="0.52" fill="#7e7e74" opacity="0.54"/><circle cx="59.2" cy="305.6" r="0.60" fill="#7e7e74" opacity="0.78"/><circle cx="58.1" cy="302.1" r="0.77" fill="#7e7e74" opacity="0.51"/><circle cx="39.1" cy="292.0" r="0.46" fill="#7e7e74" opacity="0.45"/><circle cx="51.8" cy="319.1" r="0.42" fill="#7e7e74" opacity="0.41"/><circle cx="37.2" cy="316.0" r="0.44" fill="#7e7e74" opacity="0.61"/><circle cx="65.3" cy="302.4" r="0.58" fill="#7e7e74" opacity="0.67"/><circle cx="40.6" cy="311.7" r="0.64" fill="#7e7e74" opacity="0.36"/><circle cx="45.2" cy="300.5" r="0.58" fill="#7e7e74" opacity="0.78"/><circle cx="51.5" cy="288.6" r="0.72" fill="#7e7e74" opacity="0.64"/><circle cx="43.1" cy="287.8" r="0.50" fill="#7e7e74" opacity="0.69"/><circle cx="45.7" cy="318.6" r="0.81" fill="#7e7e74" opacity="0.62"/><circle cx="61.6" cy="291.8" r="0.69" fill="#7e7e74" opacity="0.44"/><circle cx="65.7" cy="309.7" r="0.76" fill="#7e7e74" opacity="0.47"/><circle cx="50.7" cy="308.8" r="0.49" fill="#7e7e74" opacity="0.66"/><circle cx="60.1" cy="308.5" r="0.53" fill="#7e7e74" opacity="0.67"/><circle cx="52.4" cy="308.0" r="0.46" fill="#7e7e74" opacity="0.77"/><circle cx="57.8" cy="306.6" r="0.57" fill="#7e7e74" opacity="0.59"/><circle cx="43.1" cy="320.8" r="0.64" fill="#7e7e74" opacity="0.47"/><circle cx="55.4" cy="310.3" r="0.48" fill="#7e7e74" opacity="0.39"/><circle cx="35.9" cy="295.5" r="0.53" fill="#7e7e74" opacity="0.71"/><circle cx="47.5" cy="295.7" r="0.65" fill="#7e7e74" opacity="0.43"/><circle cx="64.5" cy="301.2" r="0.43" fill="#7e7e74" opacity="0.42"/><circle cx="44.4" cy="295.7" r="0.76" fill="#7e7e74" opacity="0.45"/><circle cx="55.2" cy="289.7" r="0.45" fill="#7e7e74" opacity="0.61"/><circle cx="56.1" cy="325.1" r="0.80" fill="#7e7e74" opacity="0.71"/><circle cx="50.1" cy="314.8" r="0.73" fill="#7e7e74" opacity="0.60"/><circle cx="55.7" cy="315.4" r="0.69" fill="#7e7e74" opacity="0.40"/><circle cx="41.9" cy="300.3" r="0.53" fill="#7e7e74" opacity="0.54"/><circle cx="30.6" cy="304.4" r="0.42" fill="#7e7e74" opacity="0.68"/><circle cx="51.5" cy="319.7" r="0.72" fill="#7e7e74" opacity="0.66"/><circle cx="33.2" cy="294.7" r="0.50" fill="#7e7e74" opacity="0.49"/><circle cx="43.3" cy="298.8" r="0.48" fill="#7e7e74" opacity="0.45"/><circle cx="52.0" cy="288.7" r="0.76" fill="#7e7e74" opacity="0.78"/><circle cx="52.7" cy="296.6" r="0.56" fill="#7e7e74" opacity="0.67"/><circle cx="65.8" cy="314.0" r="0.44" fill="#7e7e74" opacity="0.37"/><circle cx="40.6" cy="307.5" r="0.87" fill="#7e7e74" opacity="0.74"/><circle cx="39.6" cy="310.5" r="0.46" fill="#7e7e74" opacity="0.58"/><circle cx="35.9" cy="306.5" r="0.76" fill="#7e7e74" opacity="0.59"/><circle cx="50.5" cy="301.2" r="0.44" fill="#7e7e74" opacity="0.52"/><circle cx="38.1" cy="309.3" r="0.73" fill="#7e7e74" opacity="0.45"/><circle cx="42.8" cy="321.8" r="0.76" fill="#7e7e74" opacity="0.70"/><circle cx="38.9" cy="318.6" r="0.86" fill="#7e7e74" opacity="0.77"/><circle cx="43.9" cy="303.5" r="0.63" fill="#7e7e74" opacity="0.64"/><circle cx="48.5" cy="312.3" r="0.89" fill="#7e7e74" opacity="0.76"/><circle cx="59.9" cy="318.9" r="0.71" fill="#7e7e74" opacity="0.48"/><circle cx="67.0" cy="316.0" r="0.79" fill="#7e7e74" opacity="0.55"/><circle cx="61.4" cy="315.2" r="0.45" fill="#7e7e74" opacity="0.78"/><circle cx="60.8" cy="311.9" r="0.78" fill="#7e7e74" opacity="0.41"/><circle cx="54.0" cy="311.8" r="0.48" fill="#7e7e74" opacity="0.59"/><circle cx="53.9" cy="300.5" r="0.49" fill="#7e7e74" opacity="0.69"/><circle cx="37.6" cy="313.8" r="0.46" fill="#7e7e74" opacity="0.46"/><circle cx="56.9" cy="306.9" r="0.53" fill="#7e7e74" opacity="0.68"/><circle cx="65.9" cy="295.3" r="0.64" fill="#7e7e74" opacity="0.78"/><circle cx="39.7" cy="301.1" r="0.63" fill="#7e7e74" opacity="0.67"/><circle cx="48.5" cy="300.5" r="0.50" fill="#7e7e74" opacity="0.78"/><circle cx="65.2" cy="320.3" r="0.57" fill="#7e7e74" opacity="0.46"/><circle cx="48.8" cy="323.0" r="0.90" fill="#7e7e74" opacity="0.42"/><circle cx="57.1" cy="298.5" r="0.49" fill="#7e7e74" opacity="0.69"/><circle cx="44.0" cy="316.0" r="0.61" fill="#7e7e74" opacity="0.72"/><circle cx="60.4" cy="295.8" r="0.41" fill="#7e7e74" opacity="0.69"/><circle cx="32.6" cy="295.5" r="0.88" fill="#7e7e74" opacity="0.50"/><circle cx="61.1" cy="292.3" r="0.53" fill="#7e7e74" opacity="0.51"/><circle cx="39.9" cy="317.3" r="0.59" fill="#7e7e74" opacity="0.40"/><circle cx="52.4" cy="328.6" r="0.61" fill="#7e7e74" opacity="0.64"/><circle cx="64.2" cy="296.0" r="0.52" fill="#7e7e74" opacity="0.76"/><circle cx="56.8" cy="287.9" r="0.76" fill="#7e7e74" opacity="0.69"/><circle cx="53.7" cy="298.2" r="0.73" fill="#7e7e74" opacity="0.52"/><circle cx="53.7" cy="301.5" r="0.67" fill="#7e7e74" opacity="0.50"/><circle cx="55.0" cy="296.7" r="0.82" fill="#7e7e74" opacity="0.73"/><circle cx="55.4" cy="302.6" r="0.87" fill="#7e7e74" opacity="0.68"/><circle cx="41.2" cy="292.6" r="0.42" fill="#7e7e74" opacity="0.74"/><circle cx="34.8" cy="303.9" r="0.57" fill="#7e7e74" opacity="0.70"/><circle cx="53.5" cy="288.5" r="0.51" fill="#7e7e74" opacity="0.50"/><circle cx="49.3" cy="315.0" r="0.56" fill="#7e7e74" opacity="0.36"/><circle cx="52.4" cy="298.3" r="0.44" fill="#7e7e74" opacity="0.38"/><circle cx="48.7" cy="298.6" r="0.63" fill="#7e7e74" opacity="0.53"/><circle cx="56.4" cy="288.2" r="0.55" fill="#7e7e74" opacity="0.63"/><circle cx="61.5" cy="299.1" r="0.85" fill="#7e7e74" opacity="0.68"/><circle cx="41.4" cy="326.9" r="0.69" fill="#7e7e74" opacity="0.40"/><circle cx="31.8" cy="297.9" r="0.66" fill="#7e7e74" opacity="0.57"/><circle cx="31.0" cy="318.4" r="0.73" fill="#7e7e74" opacity="0.44"/><circle cx="40.5" cy="318.1" r="0.88" fill="#7e7e74" opacity="0.66"/><circle cx="64.5" cy="322.8" r="0.42" fill="#7e7e74" opacity="0.62"/><circle cx="31.9" cy="315.7" r="0.61" fill="#7e7e74" opacity="0.39"/><circle cx="29.1" cy="305.3" r="0.79" fill="#7e7e74" opacity="0.51"/><circle cx="52.7" cy="326.6" r="0.80" fill="#7e7e74" opacity="0.45"/><circle cx="65.9" cy="293.8" r="0.62" fill="#7e7e74" opacity="0.52"/><circle cx="43.9" cy="288.0" r="0.50" fill="#7e7e74" opacity="0.49"/><circle cx="40.1" cy="324.5" r="0.49" fill="#7e7e74" opacity="0.60"/><circle cx="30.9" cy="308.2" r="0.47" fill="#7e7e74" opacity="0.78"/><circle cx="66.2" cy="308.2" r="0.80" fill="#7e7e74" opacity="0.43"/><circle cx="63.4" cy="299.6" r="0.78" fill="#7e7e74" opacity="0.74"/><circle cx="35.3" cy="324.1" r="0.50" fill="#7e7e74" opacity="0.36"/><circle cx="28.0" cy="307.9" r="0.85" fill="#7e7e74" opacity="0.78"/><circle cx="27.6" cy="306.8" r="0.68" fill="#7e7e74" opacity="0.41"/><circle cx="35.6" cy="294.0" r="0.61" fill="#7e7e74" opacity="0.62"/><circle cx="48.6" cy="319.5" r="0.61" fill="#7e7e74" opacity="0.58"/><circle cx="42.6" cy="309.5" r="0.40" fill="#7e7e74" opacity="0.50"/><circle cx="45.3" cy="289.9" r="0.52" fill="#7e7e74" opacity="0.47"/><circle cx="39.9" cy="307.3" r="0.70" fill="#7e7e74" opacity="0.76"/><circle cx="54.4" cy="324.0" r="0.76" fill="#7e7e74" opacity="0.69"/><circle cx="44.8" cy="290.5" r="0.54" fill="#7e7e74" opacity="0.73"/><circle cx="53.9" cy="306.0" r="0.87" fill="#7e7e74" opacity="0.55"/><circle cx="54.4" cy="311.1" r="0.80" fill="#7e7e74" opacity="0.65"/><circle cx="58.9" cy="319.6" r="0.72" fill="#7e7e74" opacity="0.80"/><circle cx="39.2" cy="324.4" r="0.52" fill="#7e7e74" opacity="0.44"/><circle cx="56.9" cy="319.9" r="0.71" fill="#7e7e74" opacity="0.49"/><circle cx="54.8" cy="316.8" r="0.44" fill="#7e7e74" opacity="0.44"/><circle cx="42.9" cy="322.3" r="0.49" fill="#7e7e74" opacity="0.57"/><circle cx="28.7" cy="316.1" r="0.64" fill="#7e7e74" opacity="0.78"/><circle cx="39.5" cy="309.9" r="0.70" fill="#7e7e74" opacity="0.42"/><circle cx="52.3" cy="313.3" r="0.75" fill="#7e7e74" opacity="0.79"/><circle cx="38.3" cy="315.5" r="0.61" fill="#7e7e74" opacity="0.51"/><circle cx="44.2" cy="295.6" r="0.48" fill="#7e7e74" opacity="0.74"/><circle cx="47.7" cy="307.4" r="0.82" fill="#7e7e74" opacity="0.68"/><circle cx="38.4" cy="321.8" r="0.86" fill="#7e7e74" opacity="0.53"/><circle cx="38.1" cy="313.1" r="0.68" fill="#7e7e74" opacity="0.65"/><circle cx="47.2" cy="287.2" r="0.47" fill="#7e7e74" opacity="0.51"/><circle cx="61.2" cy="292.8" r="0.70" fill="#7e7e74" opacity="0.65"/><circle cx="37.6" cy="325.9" r="0.67" fill="#7e7e74" opacity="0.53"/><circle cx="52.4" cy="314.9" r="0.85" fill="#7e7e74" opacity="0.71"/><circle cx="61.9" cy="310.3" r="0.64" fill="#7e7e74" opacity="0.57"/><circle cx="35.4" cy="323.7" r="0.57" fill="#7e7e74" opacity="0.59"/><circle cx="65.5" cy="300.8" r="0.64" fill="#7e7e74" opacity="0.50"/><circle cx="36.0" cy="319.2" r="0.79" fill="#7e7e74" opacity="0.47"/><circle cx="39.7" cy="318.0" r="0.58" fill="#7e7e74" opacity="0.76"/><circle cx="37.8" cy="305.5" r="0.57" fill="#7e7e74" opacity="0.72"/><circle cx="59.3" cy="323.4" r="0.41" fill="#7e7e74" opacity="0.44"/><circle cx="68.1" cy="315.3" r="0.47" fill="#7e7e74" opacity="0.45"/><circle cx="60.1" cy="312.1" r="0.77" fill="#7e7e74" opacity="0.67"/><circle cx="67.8" cy="297.0" r="0.68" fill="#7e7e74" opacity="0.76"/><circle cx="67.6" cy="319.3" r="0.62" fill="#7e7e74" opacity="0.44"/><circle cx="49.0" cy="288.2" r="0.59" fill="#7e7e74" opacity="0.39"/></g><g filter="url(#bl)"><ellipse cx="103.6" cy="308.4" rx="25.0" ry="23.3" fill="url(#gB4)"/></g><g filter="url(#bl3)"><circle cx="117.2" cy="295.4" r="0.70" fill="#9a9a98" opacity="0.79"/><circle cx="108.8" cy="309.6" r="0.46" fill="#9a9a98" opacity="0.36"/><circle cx="99.0" cy="292.3" r="0.46" fill="#9a9a98" opacity="0.42"/><circle cx="111.0" cy="323.3" r="0.74" fill="#9a9a98" opacity="0.79"/><circle cx="89.3" cy="324.3" r="0.62" fill="#9a9a98" opacity="0.53"/><circle cx="103.4" cy="318.5" r="0.89" fill="#9a9a98" opacity="0.80"/><circle cx="101.0" cy="300.0" r="0.49" fill="#9a9a98" opacity="0.42"/></g><text x="48" y="280.4" font-family="Liberation Sans" font-size="5.9" font-weight="bold" font-style="normal" fill="#222" text-anchor="middle" stroke="#222" stroke-width="0.3" >Control</text><text x="102.9" y="280.4" font-family="Liberation Sans" font-size="5.9" font-weight="bold" font-style="normal" fill="#222" text-anchor="middle" stroke="#222" stroke-width="0.3" >GelMA</text><text x="48.4" y="338.7" font-family="Liberation Sans" font-size="5.8" font-weight="bold" font-style="normal" fill="#222" text-anchor="middle" stroke="#222" stroke-width="0.3" >HNTs/GelMA</text><text x="107.4" y="339.0" font-family="Liberation Sans" font-size="5.7" font-weight="bold" font-style="normal" fill="#222" text-anchor="middle" stroke="#222" stroke-width="0.3" >nAg/HNTs/GelMA</text><line x1="165.3" y1="238.5" x2="165.3" y2="308.6" stroke="#222" stroke-width="1.0" /><line x1="165.3" y1="308.6" x2="270.7" y2="308.6" stroke="#222" stroke-width="1.0" /><line x1="163.8" y1="308.6" x2="165.3" y2="308.6" stroke="#333" stroke-width="0.6" /><text x="163.0" y="310.3" font-family="Liberation Sans" font-size="4.8" font-weight="bold" font-style="normal" fill="#222" text-anchor="end" stroke="#222" stroke-width="0.3" >0</text><line x1="163.8" y1="291.20000000000005" x2="165.3" y2="291.20000000000005" stroke="#333" stroke-width="0.6" /><text x="163.0" y="292.90000000000003" font-family="Liberation Sans" font-size="4.8" font-weight="bold" font-style="normal" fill="#222" text-anchor="end" stroke="#222" stroke-width="0.3" >500</text><line x1="163.8" y1="273.8" x2="165.3" y2="273.8" stroke="#333" stroke-width="0.6" /><text x="163.0" y="275.5" font-family="Liberation Sans" font-size="4.8" font-weight="bold" font-style="normal" fill="#222" text-anchor="end" stroke="#222" stroke-width="0.3" >1000</text><line x1="163.8" y1="256.40000000000003" x2="165.3" y2="256.40000000000003" stroke="#333" stroke-width="0.6" /><text x="163.0" y="258.1" font-family="Liberation Sans" font-size="4.8" font-weight="bold" font-style="normal" fill="#222" text-anchor="end" stroke="#222" stroke-width="0.3" >1500</text><line x1="163.8" y1="239.00000000000003" x2="165.3" y2="239.00000000000003" stroke="#333" stroke-width="0.6" /><text x="163.0" y="240.70000000000002" font-family="Liberation Sans" font-size="4.8" font-weight="bold" font-style="normal" fill="#222" text-anchor="end" stroke="#222" stroke-width="0.3" >2000</text><text transform="translate(146.6,273.4) rotate(-90)" font-family="Liberation Sans" font-size="5.9" font-weight="bold" fill="#333" text-anchor="middle">Concentration (pg/ml)</text><rect x="167.1" y="289.46000000000004" width="3.9" height="19.139999999999997" fill="#a6a6a6" /><line x1="169.04999999999998" y1="287.46000000000004" x2="169.04999999999998" y2="289.46000000000004" stroke="#777" stroke-width="0.4" /><line x1="168.1" y1="287.46000000000004" x2="170.0" y2="287.46000000000004" stroke="#777" stroke-width="0.4" /><rect x="171.29999999999998" y="292.244" width="3.9" height="16.355999999999998" fill="#ee8a86" /><line x1="173.24999999999997" y1="290.244" x2="173.24999999999997" y2="292.244" stroke="#777" stroke-width="0.4" /><line x1="172.29999999999998" y1="290.244" x2="174.2" y2="290.244" stroke="#777" stroke-width="0.4" /><rect x="175.5" y="290.85200000000003" width="3.9" height="17.747999999999998" fill="#2ae02a" /><line x1="177.45" y1="288.85200000000003" x2="177.45" y2="290.85200000000003" stroke="#777" stroke-width="0.4" /><line x1="176.5" y1="288.85200000000003" x2="178.4" y2="288.85200000000003" stroke="#777" stroke-width="0.4" /><rect x="179.7" y="293.636" width="3.9" height="14.963999999999999" fill="#3a3af0" /><line x1="181.64999999999998" y1="291.636" x2="181.64999999999998" y2="293.636" stroke="#777" stroke-width="0.4" /><line x1="180.7" y1="291.636" x2="182.6" y2="291.636" stroke="#777" stroke-width="0.4" /><rect x="187.9" y="261.27200000000005" width="3.9" height="47.327999999999996" fill="#a6a6a6" /><line x1="189.85" y1="259.27200000000005" x2="189.85" y2="261.27200000000005" stroke="#777" stroke-width="0.4" /><line x1="188.9" y1="259.27200000000005" x2="190.8" y2="259.27200000000005" stroke="#777" stroke-width="0.4" /><rect x="192.1" y="273.10400000000004" width="3.9" height="35.495999999999995" fill="#ee8a86" /><line x1="194.04999999999998" y1="271.10400000000004" x2="194.04999999999998" y2="273.10400000000004" stroke="#777" stroke-width="0.4" /><line x1="193.1" y1="271.10400000000004" x2="195.0" y2="271.10400000000004" stroke="#777" stroke-width="0.4" /><rect x="196.3" y="265.1" width="3.9" height="43.5" fill="#2ae02a" /><line x1="198.25" y1="263.1" x2="198.25" y2="265.1" stroke="#777" stroke-width="0.4" /><line x1="197.3" y1="263.1" x2="199.20000000000002" y2="263.1" stroke="#777" stroke-width="0.4" /><rect x="200.5" y="274.148" width="3.9" height="34.452" fill="#3a3af0" /><line x1="202.45" y1="272.148" x2="202.45" y2="274.148" stroke="#777" stroke-width="0.4" /><line x1="201.5" y1="272.148" x2="203.4" y2="272.148" stroke="#777" stroke-width="0.4" /><rect x="208.6" y="298.16" width="3.9" height="10.44" fill="#a6a6a6" /><line x1="210.54999999999998" y1="296.16" x2="210.54999999999998" y2="298.16" stroke="#777" stroke-width="0.4" /><line x1="209.6" y1="296.16" x2="211.5" y2="296.16" stroke="#777" stroke-width="0.4" /><rect x="212.79999999999998" y="300.596" width="3.9" height="8.004" fill="#ee8a86" /><line x1="214.74999999999997" y1="298.596" x2="214.74999999999997" y2="300.596" stroke="#777" stroke-width="0.4" /><line x1="213.79999999999998" y1="298.596" x2="215.7" y2="298.596" stroke="#777" stroke-width="0.4" /><rect x="217.0" y="300.074" width="3.9" height="8.526" fill="#2ae02a" /><line x1="218.95" y1="298.074" x2="218.95" y2="300.074" stroke="#777" stroke-width="0.4" /><line x1="218.0" y1="298.074" x2="219.9" y2="298.074" stroke="#777" stroke-width="0.4" /><rect x="221.2" y="303.728" width="3.9" height="4.872" fill="#3a3af0" /><line x1="223.14999999999998" y1="301.728" x2="223.14999999999998" y2="303.728" stroke="#777" stroke-width="0.4" /><line x1="222.2" y1="301.728" x2="224.1" y2="301.728" stroke="#777" stroke-width="0.4" /><rect x="228.9" y="305.99" width="3.9" height="2.61" fill="#a6a6a6" /><line x1="230.85" y1="303.99" x2="230.85" y2="305.99" stroke="#777" stroke-width="0.4" /><line x1="229.9" y1="303.99" x2="231.8" y2="303.99" stroke="#777" stroke-width="0.4" /><rect x="233.1" y="305.642" width="3.9" height="2.9579999999999997" fill="#ee8a86" /><line x1="235.04999999999998" y1="303.642" x2="235.04999999999998" y2="305.642" stroke="#777" stroke-width="0.4" /><line x1="234.1" y1="303.642" x2="236.0" y2="303.642" stroke="#777" stroke-width="0.4" /><rect x="237.3" y="303.728" width="3.9" height="4.872" fill="#2ae02a" /><line x1="239.25" y1="301.728" x2="239.25" y2="303.728" stroke="#777" stroke-width="0.4" /><line x1="238.3" y1="301.728" x2="240.20000000000002" y2="301.728" stroke="#777" stroke-width="0.4" /><rect x="241.5" y="306.512" width="3.9" height="2.088" fill="#3a3af0" /><line x1="243.45" y1="304.512" x2="243.45" y2="306.512" stroke="#777" stroke-width="0.4" /><line x1="242.5" y1="304.512" x2="244.4" y2="304.512" stroke="#777" stroke-width="0.4" /><rect x="249.5" y="290.504" width="3.9" height="18.096" fill="#a6a6a6" /><line x1="251.45" y1="288.504" x2="251.45" y2="290.504" stroke="#777" stroke-width="0.4" /><line x1="250.5" y1="288.504" x2="252.4" y2="288.504" stroke="#777" stroke-width="0.4" /><rect x="253.7" y="287.72" width="3.9" height="20.88" fill="#ee8a86" /><line x1="255.64999999999998" y1="285.72" x2="255.64999999999998" y2="287.72" stroke="#777" stroke-width="0.4" /><line x1="254.7" y1="285.72" x2="256.59999999999997" y2="285.72" stroke="#777" stroke-width="0.4" /><rect x="257.9" y="295.37600000000003" width="3.9" height="13.223999999999998" fill="#2ae02a" /><line x1="259.84999999999997" y1="293.37600000000003" x2="259.84999999999997" y2="295.37600000000003" stroke="#777" stroke-width="0.4" /><line x1="258.9" y1="293.37600000000003" x2="260.79999999999995" y2="293.37600000000003" stroke="#777" stroke-width="0.4" /><rect x="262.1" y="283.196" width="3.9" height="25.404" fill="#3a3af0" /><line x1="264.05" y1="281.196" x2="264.05" y2="283.196" stroke="#777" stroke-width="0.4" /><line x1="263.1" y1="281.196" x2="265.0" y2="281.196" stroke="#777" stroke-width="0.4" /><text transform="translate(178.0,316.6) rotate(-45)" font-family="Liberation Sans" font-size="5.2" font-weight="bold" fill="#222" stroke="#222" stroke-width="0.2" text-anchor="end">TNF-α</text><line x1="174.5" y1="308.6" x2="174.5" y2="309.90000000000003" stroke="#333" stroke-width="0.6" /><text transform="translate(198.5,316.6) rotate(-45)" font-family="Liberation Sans" font-size="5.2" font-weight="bold" fill="#222" stroke="#222" stroke-width="0.2" text-anchor="end">IL-1β</text><line x1="195.0" y1="308.6" x2="195.0" y2="309.90000000000003" stroke="#333" stroke-width="0.6" /><text transform="translate(219.3,316.6) rotate(-45)" font-family="Liberation Sans" font-size="5.2" font-weight="bold" fill="#222" stroke="#222" stroke-width="0.2" text-anchor="end">IL-6</text><line x1="215.8" y1="308.6" x2="215.8" y2="309.90000000000003" stroke="#333" stroke-width="0.6" /><text transform="translate(239.8,316.6) rotate(-45)" font-family="Liberation Sans" font-size="5.2" font-weight="bold" fill="#222" stroke="#222" stroke-width="0.2" text-anchor="end">IL-8</text><line x1="236.3" y1="308.6" x2="236.3" y2="309.90000000000003" stroke="#333" stroke-width="0.6" /><text transform="translate(260.5,316.6) rotate(-45)" font-family="Liberation Sans" font-size="5.2" font-weight="bold" fill="#222" stroke="#222" stroke-width="0.2" text-anchor="end">IL-10</text><line x1="257.0" y1="308.6" x2="257.0" y2="309.90000000000003" stroke="#333" stroke-width="0.6" /><line x1="167" y1="283.9" x2="182.3" y2="283.9" stroke="#333" stroke-width="0.9" /><text x="174.6" y="282.1" font-family="Liberation Sans" font-size="2.8" font-weight="normal" font-style="normal" fill="#333" text-anchor="middle" >N/S</text><path d="M193.9,267.6 V256.6 H199.1 V262.1" stroke="#222" stroke-width="0.95" fill="none"/><path d="M197.4,262.3 V257.8 H202.6 V271.8" stroke="#222" stroke-width="0.95" fill="none"/><path d="M219.0,299.3 V289.8 H224.3 V303.3" stroke="#222" stroke-width="0.95" fill="none"/><path d="M239.0,299.5 V295.3 H244.7 V305.8" stroke="#222" stroke-width="0.95" fill="none"/><path d="M255.4,283.8 V269.0 H264.5 V278.0" stroke="#222" stroke-width="0.95" fill="none"/><path d="M260.4,296.0 V271.4 H266.1 V276.4" stroke="#222" stroke-width="0.95" fill="none"/><text x="193.7" y="272.5" font-family="Liberation Sans" font-size="2.6" font-weight="normal" font-style="normal" fill="#333" text-anchor="middle" >***</text><text x="202.5" y="273.5" font-family="Liberation Sans" font-size="2.6" font-weight="normal" font-style="normal" fill="#333" text-anchor="middle" >***</text><text x="214.6" y="299.5" font-family="Liberation Sans" font-size="2.6" font-weight="normal" font-style="normal" fill="#333" text-anchor="middle" >***</text><text x="218.5" y="299" font-family="Liberation Sans" font-size="2.6" font-weight="normal" font-style="normal" fill="#333" text-anchor="middle" >*</text><text x="222.8" y="303.5" font-family="Liberation Sans" font-size="2.6" font-weight="normal" font-style="normal" fill="#333" text-anchor="middle" >**</text><text x="221.5" y="289" font-family="Liberation Sans" font-size="2.6" font-weight="normal" font-style="normal" fill="#333" text-anchor="middle" >**</text><text x="241.9" y="294.2" font-family="Liberation Sans" font-size="2.6" font-weight="normal" font-style="normal" fill="#333" text-anchor="middle" >**</text><text x="243.5" y="305.5" font-family="Liberation Sans" font-size="2.6" font-weight="normal" font-style="normal" fill="#333" text-anchor="middle" >*</text><text x="256" y="287" font-family="Liberation Sans" font-size="2.6" font-weight="normal" font-style="normal" fill="#333" text-anchor="middle" >***</text><text x="260.4" y="295" font-family="Liberation Sans" font-size="2.6" font-weight="normal" font-style="normal" fill="#333" text-anchor="middle" >***</text><text x="264.8" y="281.5" font-family="Liberation Sans" font-size="2.6" font-weight="normal" font-style="normal" fill="#333" text-anchor="middle" >**</text><text x="260" y="268.2" font-family="Liberation Sans" font-size="2.6" font-weight="normal" font-style="normal" fill="#333" text-anchor="middle" >***</text><text x="263.2" y="270.6" font-family="Liberation Sans" font-size="2.6" font-weight="normal" font-style="normal" fill="#333" text-anchor="middle" >**</text><text x="196.5" y="255.8" font-family="Liberation Sans" font-size="2.6" font-weight="normal" font-style="normal" fill="#333" text-anchor="middle" >*</text><text x="200" y="256.8" font-family="Liberation Sans" font-size="2.6" font-weight="normal" font-style="normal" fill="#333" text-anchor="middle" >*</text><rect x="145.1" y="331.2" width="6.0" height="3.0" fill="#a6a6a6" /><text x="153.2" y="334.2" font-family="Liberation Sans" font-size="4.0" font-weight="normal" font-style="normal" fill="#444" text-anchor="start" >Control</text><rect x="171.2" y="331.2" width="6.0" height="3.0" fill="#ee8a86" /><text x="179.4" y="334.2" font-family="Liberation Sans" font-size="4.0" font-weight="normal" font-style="normal" fill="#444" text-anchor="start" >GelMA</text><rect x="197.5" y="331.2" width="6.0" height="3.0" fill="#2ae02a" /><text x="205.6" y="334.2" font-family="Liberation Sans" font-size="4.0" font-weight="normal" font-style="normal" fill="#444" text-anchor="start" >HNTs/GelMA</text><rect x="233.7" y="331.2" width="6.0" height="3.0" fill="#3a3af0" /><text x="241.8" y="334.2" font-family="Liberation Sans" font-size="4.0" font-weight="normal" font-style="normal" fill="#444" text-anchor="start" >nAg/HNTs/GelMA</text><line x1="277.0" y1="4.1" x2="277.0" y2="341.5" stroke="#959595" stroke-width="1.6" /><line x1="276.8" y1="4.1" x2="543.5" y2="4.1" stroke="#888" stroke-width="0.8" /><line x1="543.5" y1="4.1" x2="543.5" y2="341.5" stroke="#8a8a8a" stroke-width="1.4" /><line x1="276.2" y1="341.2" x2="544" y2="341.2" stroke="#888" stroke-width="0.9" /><rect x="301.3" y="4.2" width="105.30000000000001" height="84.2" fill="none" stroke="#505050" stroke-width="0.85"/><line x1="299.90000000000003" y1="88.4" x2="301.3" y2="88.4" stroke="#333" stroke-width="0.7" /><text x="299.5" y="90.80000000000001" font-family="Liberation Serif" font-size="7.0" font-weight="bold" font-style="normal" fill="#222" text-anchor="end" >0.0</text><line x1="299.90000000000003" y1="64.10000000000001" x2="301.3" y2="64.10000000000001" stroke="#333" stroke-width="0.7" /><text x="299.5" y="66.50000000000001" font-family="Liberation Serif" font-size="7.0" font-weight="bold" font-style="normal" fill="#222" text-anchor="end" >0.2</text><line x1="299.90000000000003" y1="39.800000000000004" x2="301.3" y2="39.800000000000004" stroke="#333" stroke-width="0.7" /><text x="299.5" y="42.2" font-family="Liberation Serif" font-size="7.0" font-weight="bold" font-style="normal" fill="#222" text-anchor="end" >0.4</text><line x1="299.90000000000003" y1="15.500000000000014" x2="301.3" y2="15.500000000000014" stroke="#333" stroke-width="0.7" /><text x="299.5" y="17.900000000000013" font-family="Liberation Serif" font-size="7.0" font-weight="bold" font-style="normal" fill="#222" text-anchor="end" >0.6</text><line x1="302.6" y1="88.4" x2="302.6" y2="89.80000000000001" stroke="#333" stroke-width="0.7" /><text x="302.6" y="96.60000000000001" font-family="Liberation Serif" font-size="7.2" font-weight="bold" font-style="normal" fill="#222" text-anchor="middle" >0</text><line x1="327.548" y1="88.4" x2="327.548" y2="89.80000000000001" stroke="#333" stroke-width="0.7" /><text x="327.548" y="96.60000000000001" font-family="Liberation Serif" font-size="7.2" font-weight="bold" font-style="normal" fill="#222" text-anchor="middle" >6</text><line x1="352.49600000000004" y1="88.4" x2="352.49600000000004" y2="89.80000000000001" stroke="#333" stroke-width="0.7" /><text x="352.49600000000004" y="96.60000000000001" font-family="Liberation Serif" font-size="7.2" font-weight="bold" font-style="normal" fill="#222" text-anchor="middle" >12</text><line x1="377.444" y1="88.4" x2="377.444" y2="89.80000000000001" stroke="#333" stroke-width="0.7" /><text x="377.444" y="96.60000000000001" font-family="Liberation Serif" font-size="7.2" font-weight="bold" font-style="normal" fill="#222" text-anchor="middle" >18</text><line x1="402.39200000000005" y1="88.4" x2="402.39200000000005" y2="89.80000000000001" stroke="#333" stroke-width="0.7" /><text x="402.39200000000005" y="96.60000000000001" font-family="Liberation Serif" font-size="7.2" font-weight="bold" font-style="normal" fill="#222" text-anchor="middle" >24</text><text x="354.45000000000005" y="106.2" font-family="Liberation Serif" font-size="7.4" font-weight="bold" font-style="normal" fill="#222" text-anchor="middle" >Time (h)</text><text transform="translate(287.0,46.2) rotate(-90)" font-family="Liberation Serif" font-size="7.7" font-weight="bold" fill="#222" text-anchor="middle" textLength="61.4" lengthAdjust="spacingAndGlyphs">OD value (600nm)</text><polyline points="302.6,84.8 315.1,80.5 327.5,79.3 340.0,79.3 352.5,79.3 365.0,79.3 402.4,78.7" fill="none" stroke="#f09a50" stroke-width="1.0"/><line x1="302.6" y1="83.555" x2="302.6" y2="85.95500000000001" stroke="#f09a50" stroke-width="0.5" /><line x1="301.8" y1="83.555" x2="303.40000000000003" y2="83.555" stroke="#f09a50" stroke-width="0.4" /><line x1="301.8" y1="85.95500000000001" x2="303.40000000000003" y2="85.95500000000001" stroke="#f09a50" stroke-width="0.4" /><circle cx="302.6" cy="84.8" r="0.9" fill="#f09a50"/><line x1="315.074" y1="79.30250000000001" x2="315.074" y2="81.70250000000001" stroke="#f09a50" stroke-width="0.5" /><line x1="314.274" y1="79.30250000000001" x2="315.874" y2="79.30250000000001" stroke="#f09a50" stroke-width="0.4" /><line x1="314.274" y1="81.70250000000001" x2="315.874" y2="81.70250000000001" stroke="#f09a50" stroke-width="0.4" /><circle cx="315.1" cy="80.5" r="0.9" fill="#f09a50"/><line x1="327.548" y1="78.0875" x2="327.548" y2="80.48750000000001" stroke="#f09a50" stroke-width="0.5" /><line x1="326.748" y1="78.0875" x2="328.348" y2="78.0875" stroke="#f09a50" stroke-width="0.4" /><line x1="326.748" y1="80.48750000000001" x2="328.348" y2="80.48750000000001" stroke="#f09a50" stroke-width="0.4" /><circle cx="327.5" cy="79.3" r="0.9" fill="#f09a50"/><line x1="340.02200000000005" y1="76.68750000000001" x2="340.02200000000005" y2="81.8875" stroke="#f09a50" stroke-width="0.5" /><line x1="339.22200000000004" y1="76.68750000000001" x2="340.82200000000006" y2="76.68750000000001" stroke="#f09a50" stroke-width="0.4" /><line x1="339.22200000000004" y1="81.8875" x2="340.82200000000006" y2="81.8875" stroke="#f09a50" stroke-width="0.4" /><circle cx="340.0" cy="79.3" r="0.9" fill="#f09a50"/><line x1="352.49600000000004" y1="76.68750000000001" x2="352.49600000000004" y2="81.8875" stroke="#f09a50" stroke-width="0.5" /><line x1="351.696" y1="76.68750000000001" x2="353.29600000000005" y2="76.68750000000001" stroke="#f09a50" stroke-width="0.4" /><line x1="351.696" y1="81.8875" x2="353.29600000000005" y2="81.8875" stroke="#f09a50" stroke-width="0.4" /><circle cx="352.5" cy="79.3" r="0.9" fill="#f09a50"/><line x1="364.97" y1="76.68750000000001" x2="364.97" y2="81.8875" stroke="#f09a50" stroke-width="0.5" /><line x1="364.17" y1="76.68750000000001" x2="365.77000000000004" y2="76.68750000000001" stroke="#f09a50" stroke-width="0.4" /><line x1="364.17" y1="81.8875" x2="365.77000000000004" y2="81.8875" stroke="#f09a50" stroke-width="0.4" /><circle cx="365.0" cy="79.3" r="0.9" fill="#f09a50"/><line x1="402.39200000000005" y1="76.08000000000001" x2="402.39200000000005" y2="81.28" stroke="#f09a50" stroke-width="0.5" /><line x1="401.59200000000004" y1="76.08000000000001" x2="403.19200000000006" y2="76.08000000000001" stroke="#f09a50" stroke-width="0.4" /><line x1="401.59200000000004" y1="81.28" x2="403.19200000000006" y2="81.28" stroke="#f09a50" stroke-width="0.4" /><circle cx="402.4" cy="78.7" r="0.9" fill="#f09a50"/><polyline points="302.6,84.8 315.1,79.9 327.5,77.5 340.0,59.8 352.5,49.5 365.0,36.2 402.4,30.1" fill="none" stroke="#2cb86a" stroke-width="1.0"/><line x1="302.6" y1="83.555" x2="302.6" y2="85.95500000000001" stroke="#2cb86a" stroke-width="0.5" /><line x1="301.8" y1="83.555" x2="303.40000000000003" y2="83.555" stroke="#2cb86a" stroke-width="0.4" /><line x1="301.8" y1="85.95500000000001" x2="303.40000000000003" y2="85.95500000000001" stroke="#2cb86a" stroke-width="0.4" /><circle cx="302.6" cy="84.8" r="0.9" fill="#2cb86a"/><line x1="315.074" y1="78.69500000000001" x2="315.074" y2="81.09500000000001" stroke="#2cb86a" stroke-width="0.5" /><line x1="314.274" y1="78.69500000000001" x2="315.874" y2="78.69500000000001" stroke="#2cb86a" stroke-width="0.4" /><line x1="314.274" y1="81.09500000000001" x2="315.874" y2="81.09500000000001" stroke="#2cb86a" stroke-width="0.4" /><circle cx="315.1" cy="79.9" r="0.9" fill="#2cb86a"/><line x1="327.548" y1="76.265" x2="327.548" y2="78.665" stroke="#2cb86a" stroke-width="0.5" /><line x1="326.748" y1="76.265" x2="328.348" y2="76.265" stroke="#2cb86a" stroke-width="0.4" /><line x1="326.748" y1="78.665" x2="328.348" y2="78.665" stroke="#2cb86a" stroke-width="0.4" /><circle cx="327.5" cy="77.5" r="0.9" fill="#2cb86a"/><line x1="340.02200000000005" y1="57.24750000000001" x2="340.02200000000005" y2="62.44750000000001" stroke="#2cb86a" stroke-width="0.5" /><line x1="339.22200000000004" y1="57.24750000000001" x2="340.82200000000006" y2="57.24750000000001" stroke="#2cb86a" stroke-width="0.4" /><line x1="339.22200000000004" y1="62.44750000000001" x2="340.82200000000006" y2="62.44750000000001" stroke="#2cb86a" stroke-width="0.4" /><circle cx="340.0" cy="59.8" r="0.9" fill="#2cb86a"/><line x1="352.49600000000004" y1="46.92" x2="352.49600000000004" y2="52.120000000000005" stroke="#2cb86a" stroke-width="0.5" /><line x1="351.696" y1="46.92" x2="353.29600000000005" y2="46.92" stroke="#2cb86a" stroke-width="0.4" /><line x1="351.696" y1="52.120000000000005" x2="353.29600000000005" y2="52.120000000000005" stroke="#2cb86a" stroke-width="0.4" /><circle cx="352.5" cy="49.5" r="0.9" fill="#2cb86a"/><line x1="364.97" y1="33.55500000000001" x2="364.97" y2="38.75500000000001" stroke="#2cb86a" stroke-width="0.5" /><line x1="364.17" y1="33.55500000000001" x2="365.77000000000004" y2="33.55500000000001" stroke="#2cb86a" stroke-width="0.4" /><line x1="364.17" y1="38.75500000000001" x2="365.77000000000004" y2="38.75500000000001" stroke="#2cb86a" stroke-width="0.4" /><circle cx="365.0" cy="36.2" r="0.9" fill="#2cb86a"/><line x1="402.39200000000005" y1="27.480000000000004" x2="402.39200000000005" y2="32.68000000000001" stroke="#2cb86a" stroke-width="0.5" /><line x1="401.59200000000004" y1="27.480000000000004" x2="403.19200000000006" y2="27.480000000000004" stroke="#2cb86a" stroke-width="0.4" /><line x1="401.59200000000004" y1="32.68000000000001" x2="403.19200000000006" y2="32.68000000000001" stroke="#2cb86a" stroke-width="0.4" /><circle cx="402.4" cy="30.1" r="0.9" fill="#2cb86a"/><polyline points="302.6,84.8 315.1,79.9 327.5,77.5 340.0,61.7 352.5,42.8 365.0,33.1 402.4,22.2" fill="none" stroke="#5a9ee0" stroke-width="1.0"/><line x1="302.6" y1="83.555" x2="302.6" y2="85.95500000000001" stroke="#5a9ee0" stroke-width="0.5" /><line x1="301.8" y1="83.555" x2="303.40000000000003" y2="83.555" stroke="#5a9ee0" stroke-width="0.4" /><line x1="301.8" y1="85.95500000000001" x2="303.40000000000003" y2="85.95500000000001" stroke="#5a9ee0" stroke-width="0.4" /><circle cx="302.6" cy="84.8" r="0.9" fill="#5a9ee0"/><line x1="315.074" y1="78.69500000000001" x2="315.074" y2="81.09500000000001" stroke="#5a9ee0" stroke-width="0.5" /><line x1="314.274" y1="78.69500000000001" x2="315.874" y2="78.69500000000001" stroke="#5a9ee0" stroke-width="0.4" /><line x1="314.274" y1="81.09500000000001" x2="315.874" y2="81.09500000000001" stroke="#5a9ee0" stroke-width="0.4" /><circle cx="315.1" cy="79.9" r="0.9" fill="#5a9ee0"/><line x1="327.548" y1="76.265" x2="327.548" y2="78.665" stroke="#5a9ee0" stroke-width="0.5" /><line x1="326.748" y1="76.265" x2="328.348" y2="76.265" stroke="#5a9ee0" stroke-width="0.4" /><line x1="326.748" y1="78.665" x2="328.348" y2="78.665" stroke="#5a9ee0" stroke-width="0.4" /><circle cx="327.5" cy="77.5" r="0.9" fill="#5a9ee0"/><line x1="340.02200000000005" y1="59.07" x2="340.02200000000005" y2="64.27" stroke="#5a9ee0" stroke-width="0.5" /><line x1="339.22200000000004" y1="59.07" x2="340.82200000000006" y2="59.07" stroke="#5a9ee0" stroke-width="0.4" /><line x1="339.22200000000004" y1="64.27" x2="340.82200000000006" y2="64.27" stroke="#5a9ee0" stroke-width="0.4" /><circle cx="340.0" cy="61.7" r="0.9" fill="#5a9ee0"/><line x1="352.49600000000004" y1="40.237500000000004" x2="352.49600000000004" y2="45.43750000000001" stroke="#5a9ee0" stroke-width="0.5" /><line x1="351.696" y1="40.237500000000004" x2="353.29600000000005" y2="40.237500000000004" stroke="#5a9ee0" stroke-width="0.4" /><line x1="351.696" y1="45.43750000000001" x2="353.29600000000005" y2="45.43750000000001" stroke="#5a9ee0" stroke-width="0.4" /><circle cx="352.5" cy="42.8" r="0.9" fill="#5a9ee0"/><line x1="364.97" y1="30.517500000000005" x2="364.97" y2="35.71750000000001" stroke="#5a9ee0" stroke-width="0.5" /><line x1="364.17" y1="30.517500000000005" x2="365.77000000000004" y2="30.517500000000005" stroke="#5a9ee0" stroke-width="0.4" /><line x1="364.17" y1="35.71750000000001" x2="365.77000000000004" y2="35.71750000000001" stroke="#5a9ee0" stroke-width="0.4" /><circle cx="365.0" cy="33.1" r="0.9" fill="#5a9ee0"/><line x1="402.39200000000005" y1="19.582500000000003" x2="402.39200000000005" y2="24.782500000000006" stroke="#5a9ee0" stroke-width="0.5" /><line x1="401.59200000000004" y1="19.582500000000003" x2="403.19200000000006" y2="19.582500000000003" stroke="#5a9ee0" stroke-width="0.4" /><line x1="401.59200000000004" y1="24.782500000000006" x2="403.19200000000006" y2="24.782500000000006" stroke="#5a9ee0" stroke-width="0.4" /><circle cx="402.4" cy="22.2" r="0.9" fill="#5a9ee0"/><polyline points="302.6,84.8 315.1,79.9 327.5,77.5 340.0,54.4 352.5,41.0 365.0,30.1 402.4,22.8" fill="none" stroke="#e8544e" stroke-width="1.0"/><line x1="302.6" y1="83.555" x2="302.6" y2="85.95500000000001" stroke="#e8544e" stroke-width="0.5" /><line x1="301.8" y1="83.555" x2="303.40000000000003" y2="83.555" stroke="#e8544e" stroke-width="0.4" /><line x1="301.8" y1="85.95500000000001" x2="303.40000000000003" y2="85.95500000000001" stroke="#e8544e" stroke-width="0.4" /><circle cx="302.6" cy="84.8" r="0.9" fill="#e8544e"/><line x1="315.074" y1="78.69500000000001" x2="315.074" y2="81.09500000000001" stroke="#e8544e" stroke-width="0.5" /><line x1="314.274" y1="78.69500000000001" x2="315.874" y2="78.69500000000001" stroke="#e8544e" stroke-width="0.4" /><line x1="314.274" y1="81.09500000000001" x2="315.874" y2="81.09500000000001" stroke="#e8544e" stroke-width="0.4" /><circle cx="315.1" cy="79.9" r="0.9" fill="#e8544e"/><line x1="327.548" y1="76.265" x2="327.548" y2="78.665" stroke="#e8544e" stroke-width="0.5" /><line x1="326.748" y1="76.265" x2="328.348" y2="76.265" stroke="#e8544e" stroke-width="0.4" /><line x1="326.748" y1="78.665" x2="328.348" y2="78.665" stroke="#e8544e" stroke-width="0.4" /><circle cx="327.5" cy="77.5" r="0.9" fill="#e8544e"/><line x1="340.02200000000005" y1="51.78" x2="340.02200000000005" y2="56.980000000000004" stroke="#e8544e" stroke-width="0.5" /><line x1="339.22200000000004" y1="51.78" x2="340.82200000000006" y2="51.78" stroke="#e8544e" stroke-width="0.4" /><line x1="339.22200000000004" y1="56.980000000000004" x2="340.82200000000006" y2="56.980000000000004" stroke="#e8544e" stroke-width="0.4" /><circle cx="340.0" cy="54.4" r="0.9" fill="#e8544e"/><line x1="352.49600000000004" y1="38.415" x2="352.49600000000004" y2="43.615" stroke="#e8544e" stroke-width="0.5" /><line x1="351.696" y1="38.415" x2="353.29600000000005" y2="38.415" stroke="#e8544e" stroke-width="0.4" /><line x1="351.696" y1="43.615" x2="353.29600000000005" y2="43.615" stroke="#e8544e" stroke-width="0.4" /><circle cx="352.5" cy="41.0" r="0.9" fill="#e8544e"/><line x1="364.97" y1="27.480000000000004" x2="364.97" y2="32.68000000000001" stroke="#e8544e" stroke-width="0.5" /><line x1="364.17" y1="27.480000000000004" x2="365.77000000000004" y2="27.480000000000004" stroke="#e8544e" stroke-width="0.4" /><line x1="364.17" y1="32.68000000000001" x2="365.77000000000004" y2="32.68000000000001" stroke="#e8544e" stroke-width="0.4" /><circle cx="365.0" cy="30.1" r="0.9" fill="#e8544e"/><line x1="402.39200000000005" y1="20.190000000000005" x2="402.39200000000005" y2="25.390000000000008" stroke="#e8544e" stroke-width="0.5" /><line x1="401.59200000000004" y1="20.190000000000005" x2="403.19200000000006" y2="20.190000000000005" stroke="#e8544e" stroke-width="0.4" /><line x1="401.59200000000004" y1="25.390000000000008" x2="403.19200000000006" y2="25.390000000000008" stroke="#e8544e" stroke-width="0.4" /><circle cx="402.4" cy="22.8" r="0.9" fill="#e8544e"/><line x1="302.5" y1="8.4" x2="312.1" y2="8.4" stroke="#2cb86a" stroke-width="0.9" /><circle cx="307.3" cy="8.4" r="1.0" fill="#2cb86a"/><text x="314.7" y="10.200000000000001" font-family="Liberation Serif" font-size="5.3" font-weight="bold" font-style="normal" fill="#222" text-anchor="start" >PEEK</text><line x1="302.5" y1="14.4" x2="312.1" y2="14.4" stroke="#e8544e" stroke-width="0.9" /><circle cx="307.3" cy="14.4" r="1.0" fill="#e8544e"/><text x="314.7" y="16.2" font-family="Liberation Serif" font-size="5.3" font-weight="bold" font-style="normal" fill="#222" text-anchor="start" >SP@GelMA</text><line x1="302.5" y1="20.4" x2="312.1" y2="20.4" stroke="#5a9ee0" stroke-width="0.9" /><circle cx="307.3" cy="20.4" r="1.0" fill="#5a9ee0"/><text x="314.7" y="22.2" font-family="Liberation Serif" font-size="5.3" font-weight="bold" font-style="normal" fill="#222" text-anchor="start" >SP@MX/GelMA</text><line x1="302.5" y1="26.4" x2="312.1" y2="26.4" stroke="#f09a50" stroke-width="0.9" /><circle cx="307.3" cy="26.4" r="1.0" fill="#f09a50"/><text x="314.7" y="28.2" font-family="Liberation Serif" font-size="5.3" font-weight="bold" font-style="normal" fill="#222" text-anchor="start" >SP@MX-TOB/GelMA</text><text x="403.6" y="12.0" font-family="Liberation Serif" font-size="7.6" font-weight="bold" font-style="italic" fill="#111" text-anchor="end" >S. aureus</text><rect x="434.5" y="4.2" width="105.5" height="83.89999999999999" fill="none" stroke="#505050" stroke-width="0.85"/><line x1="433.1" y1="88.1" x2="434.5" y2="88.1" stroke="#333" stroke-width="0.7" /><text x="432.7" y="90.5" font-family="Liberation Serif" font-size="7.0" font-weight="bold" font-style="normal" fill="#222" text-anchor="end" >0.0</text><line x1="433.1" y1="69.6" x2="434.5" y2="69.6" stroke="#333" stroke-width="0.7" /><text x="432.7" y="72.0" font-family="Liberation Serif" font-size="7.0" font-weight="bold" font-style="normal" fill="#222" text-anchor="end" >0.2</text><line x1="433.1" y1="51.099999999999994" x2="434.5" y2="51.099999999999994" stroke="#333" stroke-width="0.7" /><text x="432.7" y="53.49999999999999" font-family="Liberation Serif" font-size="7.0" font-weight="bold" font-style="normal" fill="#222" text-anchor="end" >0.4</text><line x1="433.1" y1="32.599999999999994" x2="434.5" y2="32.599999999999994" stroke="#333" stroke-width="0.7" /><text x="432.7" y="34.99999999999999" font-family="Liberation Serif" font-size="7.0" font-weight="bold" font-style="normal" fill="#222" text-anchor="end" >0.6</text><line x1="433.1" y1="14.099999999999994" x2="434.5" y2="14.099999999999994" stroke="#333" stroke-width="0.7" /><text x="432.7" y="16.499999999999993" font-family="Liberation Serif" font-size="7.0" font-weight="bold" font-style="normal" fill="#222" text-anchor="end" >0.8</text><line x1="434.9" y1="88.1" x2="434.9" y2="89.5" stroke="#333" stroke-width="0.7" /><text x="434.9" y="96.3" font-family="Liberation Serif" font-size="7.2" font-weight="bold" font-style="normal" fill="#222" text-anchor="middle" >0</text><line x1="460.09999999999997" y1="88.1" x2="460.09999999999997" y2="89.5" stroke="#333" stroke-width="0.7" /><text x="460.09999999999997" y="96.3" font-family="Liberation Serif" font-size="7.2" font-weight="bold" font-style="normal" fill="#222" text-anchor="middle" >6</text><line x1="485.29999999999995" y1="88.1" x2="485.29999999999995" y2="89.5" stroke="#333" stroke-width="0.7" /><text x="485.29999999999995" y="96.3" font-family="Liberation Serif" font-size="7.2" font-weight="bold" font-style="normal" fill="#222" text-anchor="middle" >12</text><line x1="510.5" y1="88.1" x2="510.5" y2="89.5" stroke="#333" stroke-width="0.7" /><text x="510.5" y="96.3" font-family="Liberation Serif" font-size="7.2" font-weight="bold" font-style="normal" fill="#222" text-anchor="middle" >18</text><line x1="535.7" y1="88.1" x2="535.7" y2="89.5" stroke="#333" stroke-width="0.7" /><text x="535.7" y="96.3" font-family="Liberation Serif" font-size="7.2" font-weight="bold" font-style="normal" fill="#222" text-anchor="middle" >24</text><text x="487.75" y="105.89999999999999" font-family="Liberation Serif" font-size="7.4" font-weight="bold" font-style="normal" fill="#222" text-anchor="middle" >Time (h)</text><text transform="translate(419.7,46.2) rotate(-90)" font-family="Liberation Serif" font-size="7.7" font-weight="bold" fill="#222" text-anchor="middle" textLength="61.4" lengthAdjust="spacingAndGlyphs">OD value (600nm)</text><polyline points="434.9,85.3 447.5,81.6 460.1,80.7 472.7,81.2 485.3,81.2 497.9,80.9 535.7,80.7" fill="none" stroke="#f09a50" stroke-width="1.0"/><line x1="434.9" y1="84.12499999999999" x2="434.9" y2="86.52499999999999" stroke="#f09a50" stroke-width="0.5" /><line x1="434.09999999999997" y1="84.12499999999999" x2="435.7" y2="84.12499999999999" stroke="#f09a50" stroke-width="0.4" /><line x1="434.09999999999997" y1="86.52499999999999" x2="435.7" y2="86.52499999999999" stroke="#f09a50" stroke-width="0.4" /><circle cx="434.9" cy="85.3" r="0.9" fill="#f09a50"/><line x1="447.5" y1="80.425" x2="447.5" y2="82.825" stroke="#f09a50" stroke-width="0.5" /><line x1="446.7" y1="80.425" x2="448.3" y2="80.425" stroke="#f09a50" stroke-width="0.4" /><line x1="446.7" y1="82.825" x2="448.3" y2="82.825" stroke="#f09a50" stroke-width="0.4" /><circle cx="447.5" cy="81.6" r="0.9" fill="#f09a50"/><line x1="460.09999999999997" y1="79.49999999999999" x2="460.09999999999997" y2="81.89999999999999" stroke="#f09a50" stroke-width="0.5" /><line x1="459.29999999999995" y1="79.49999999999999" x2="460.9" y2="79.49999999999999" stroke="#f09a50" stroke-width="0.4" /><line x1="459.29999999999995" y1="81.89999999999999" x2="460.9" y2="81.89999999999999" stroke="#f09a50" stroke-width="0.4" /><circle cx="460.1" cy="80.7" r="0.9" fill="#f09a50"/><line x1="472.7" y1="78.5625" x2="472.7" y2="83.76249999999999" stroke="#f09a50" stroke-width="0.5" /><line x1="471.9" y1="78.5625" x2="473.5" y2="78.5625" stroke="#f09a50" stroke-width="0.4" /><line x1="471.9" y1="83.76249999999999" x2="473.5" y2="83.76249999999999" stroke="#f09a50" stroke-width="0.4" /><circle cx="472.7" cy="81.2" r="0.9" fill="#f09a50"/><line x1="485.29999999999995" y1="78.5625" x2="485.29999999999995" y2="83.76249999999999" stroke="#f09a50" stroke-width="0.5" /><line x1="484.49999999999994" y1="78.5625" x2="486.09999999999997" y2="78.5625" stroke="#f09a50" stroke-width="0.4" /><line x1="484.49999999999994" y1="83.76249999999999" x2="486.09999999999997" y2="83.76249999999999" stroke="#f09a50" stroke-width="0.4" /><circle cx="485.3" cy="81.2" r="0.9" fill="#f09a50"/><line x1="497.9" y1="78.285" x2="497.9" y2="83.48499999999999" stroke="#f09a50" stroke-width="0.5" /><line x1="497.09999999999997" y1="78.285" x2="498.7" y2="78.285" stroke="#f09a50" stroke-width="0.4" /><line x1="497.09999999999997" y1="83.48499999999999" x2="498.7" y2="83.48499999999999" stroke="#f09a50" stroke-width="0.4" /><circle cx="497.9" cy="80.9" r="0.9" fill="#f09a50"/><line x1="535.7" y1="78.1" x2="535.7" y2="83.29999999999998" stroke="#f09a50" stroke-width="0.5" /><line x1="534.9000000000001" y1="78.1" x2="536.5" y2="78.1" stroke="#f09a50" stroke-width="0.4" /><line x1="534.9000000000001" y1="83.29999999999998" x2="536.5" y2="83.29999999999998" stroke="#f09a50" stroke-width="0.4" /><circle cx="535.7" cy="80.7" r="0.9" fill="#f09a50"/><polyline points="434.9,85.3 447.5,81.2 460.1,79.8 472.7,68.2 485.3,51.6 497.9,33.5 535.7,27.3" fill="none" stroke="#2cb86a" stroke-width="1.0"/><line x1="434.9" y1="84.12499999999999" x2="434.9" y2="86.52499999999999" stroke="#2cb86a" stroke-width="0.5" /><line x1="434.09999999999997" y1="84.12499999999999" x2="435.7" y2="84.12499999999999" stroke="#2cb86a" stroke-width="0.4" /><line x1="434.09999999999997" y1="86.52499999999999" x2="435.7" y2="86.52499999999999" stroke="#2cb86a" stroke-width="0.4" /><circle cx="434.9" cy="85.3" r="0.9" fill="#2cb86a"/><line x1="447.5" y1="79.96249999999999" x2="447.5" y2="82.3625" stroke="#2cb86a" stroke-width="0.5" /><line x1="446.7" y1="79.96249999999999" x2="448.3" y2="79.96249999999999" stroke="#2cb86a" stroke-width="0.4" /><line x1="446.7" y1="82.3625" x2="448.3" y2="82.3625" stroke="#2cb86a" stroke-width="0.4" /><circle cx="447.5" cy="81.2" r="0.9" fill="#2cb86a"/><line x1="460.09999999999997" y1="78.57499999999999" x2="460.09999999999997" y2="80.975" stroke="#2cb86a" stroke-width="0.5" /><line x1="459.29999999999995" y1="78.57499999999999" x2="460.9" y2="78.57499999999999" stroke="#2cb86a" stroke-width="0.4" /><line x1="459.29999999999995" y1="80.975" x2="460.9" y2="80.975" stroke="#2cb86a" stroke-width="0.4" /><circle cx="460.1" cy="79.8" r="0.9" fill="#2cb86a"/><line x1="472.7" y1="65.6125" x2="472.7" y2="70.81249999999999" stroke="#2cb86a" stroke-width="0.5" /><line x1="471.9" y1="65.6125" x2="473.5" y2="65.6125" stroke="#2cb86a" stroke-width="0.4" /><line x1="471.9" y1="70.81249999999999" x2="473.5" y2="70.81249999999999" stroke="#2cb86a" stroke-width="0.4" /><circle cx="472.7" cy="68.2" r="0.9" fill="#2cb86a"/><line x1="485.29999999999995" y1="48.96249999999999" x2="485.29999999999995" y2="54.162499999999994" stroke="#2cb86a" stroke-width="0.5" /><line x1="484.49999999999994" y1="48.96249999999999" x2="486.09999999999997" y2="48.96249999999999" stroke="#2cb86a" stroke-width="0.4" /><line x1="484.49999999999994" y1="54.162499999999994" x2="486.09999999999997" y2="54.162499999999994" stroke="#2cb86a" stroke-width="0.4" /><circle cx="485.3" cy="51.6" r="0.9" fill="#2cb86a"/><line x1="497.9" y1="30.924999999999997" x2="497.9" y2="36.125" stroke="#2cb86a" stroke-width="0.5" /><line x1="497.09999999999997" y1="30.924999999999997" x2="498.7" y2="30.924999999999997" stroke="#2cb86a" stroke-width="0.4" /><line x1="497.09999999999997" y1="36.125" x2="498.7" y2="36.125" stroke="#2cb86a" stroke-width="0.4" /><circle cx="497.9" cy="33.5" r="0.9" fill="#2cb86a"/><line x1="535.7" y1="24.727499999999992" x2="535.7" y2="29.927499999999995" stroke="#2cb86a" stroke-width="0.5" /><line x1="534.9000000000001" y1="24.727499999999992" x2="536.5" y2="24.727499999999992" stroke="#2cb86a" stroke-width="0.4" /><line x1="534.9000000000001" y1="29.927499999999995" x2="536.5" y2="29.927499999999995" stroke="#2cb86a" stroke-width="0.4" /><circle cx="535.7" cy="27.3" r="0.9" fill="#2cb86a"/><polyline points="434.9,85.3 447.5,81.2 460.1,79.8 472.7,66.4 485.3,39.1 497.9,26.6 535.7,20.6" fill="none" stroke="#5a9ee0" stroke-width="1.0"/><line x1="434.9" y1="84.12499999999999" x2="434.9" y2="86.52499999999999" stroke="#5a9ee0" stroke-width="0.5" /><line x1="434.09999999999997" y1="84.12499999999999" x2="435.7" y2="84.12499999999999" stroke="#5a9ee0" stroke-width="0.4" /><line x1="434.09999999999997" y1="86.52499999999999" x2="435.7" y2="86.52499999999999" stroke="#5a9ee0" stroke-width="0.4" /><circle cx="434.9" cy="85.3" r="0.9" fill="#5a9ee0"/><line x1="447.5" y1="79.96249999999999" x2="447.5" y2="82.3625" stroke="#5a9ee0" stroke-width="0.5" /><line x1="446.7" y1="79.96249999999999" x2="448.3" y2="79.96249999999999" stroke="#5a9ee0" stroke-width="0.4" /><line x1="446.7" y1="82.3625" x2="448.3" y2="82.3625" stroke="#5a9ee0" stroke-width="0.4" /><circle cx="447.5" cy="81.2" r="0.9" fill="#5a9ee0"/><line x1="460.09999999999997" y1="78.57499999999999" x2="460.09999999999997" y2="80.975" stroke="#5a9ee0" stroke-width="0.5" /><line x1="459.29999999999995" y1="78.57499999999999" x2="460.9" y2="78.57499999999999" stroke="#5a9ee0" stroke-width="0.4" /><line x1="459.29999999999995" y1="80.975" x2="460.9" y2="80.975" stroke="#5a9ee0" stroke-width="0.4" /><circle cx="460.1" cy="79.8" r="0.9" fill="#5a9ee0"/><line x1="472.7" y1="63.762499999999996" x2="472.7" y2="68.96249999999999" stroke="#5a9ee0" stroke-width="0.5" /><line x1="471.9" y1="63.762499999999996" x2="473.5" y2="63.762499999999996" stroke="#5a9ee0" stroke-width="0.4" /><line x1="471.9" y1="68.96249999999999" x2="473.5" y2="68.96249999999999" stroke="#5a9ee0" stroke-width="0.4" /><circle cx="472.7" cy="66.4" r="0.9" fill="#5a9ee0"/><line x1="485.29999999999995" y1="36.47499999999999" x2="485.29999999999995" y2="41.67499999999999" stroke="#5a9ee0" stroke-width="0.5" /><line x1="484.49999999999994" y1="36.47499999999999" x2="486.09999999999997" y2="36.47499999999999" stroke="#5a9ee0" stroke-width="0.4" /><line x1="484.49999999999994" y1="41.67499999999999" x2="486.09999999999997" y2="41.67499999999999" stroke="#5a9ee0" stroke-width="0.4" /><circle cx="485.3" cy="39.1" r="0.9" fill="#5a9ee0"/><line x1="497.9" y1="23.98749999999999" x2="497.9" y2="29.187499999999993" stroke="#5a9ee0" stroke-width="0.5" /><line x1="497.09999999999997" y1="23.98749999999999" x2="498.7" y2="23.98749999999999" stroke="#5a9ee0" stroke-width="0.4" /><line x1="497.09999999999997" y1="29.187499999999993" x2="498.7" y2="29.187499999999993" stroke="#5a9ee0" stroke-width="0.4" /><circle cx="497.9" cy="26.6" r="0.9" fill="#5a9ee0"/><line x1="535.7" y1="17.975" x2="535.7" y2="23.175000000000004" stroke="#5a9ee0" stroke-width="0.5" /><line x1="534.9000000000001" y1="17.975" x2="536.5" y2="17.975" stroke="#5a9ee0" stroke-width="0.4" /><line x1="534.9000000000001" y1="23.175000000000004" x2="536.5" y2="23.175000000000004" stroke="#5a9ee0" stroke-width="0.4" /><circle cx="535.7" cy="20.6" r="0.9" fill="#5a9ee0"/><polyline points="434.9,85.3 447.5,81.2 460.1,79.8 472.7,60.8 485.3,33.5 497.9,26.6 535.7,21.5" fill="none" stroke="#e8544e" stroke-width="1.0"/><line x1="434.9" y1="84.12499999999999" x2="434.9" y2="86.52499999999999" stroke="#e8544e" stroke-width="0.5" /><line x1="434.09999999999997" y1="84.12499999999999" x2="435.7" y2="84.12499999999999" stroke="#e8544e" stroke-width="0.4" /><line x1="434.09999999999997" y1="86.52499999999999" x2="435.7" y2="86.52499999999999" stroke="#e8544e" stroke-width="0.4" /><circle cx="434.9" cy="85.3" r="0.9" fill="#e8544e"/><line x1="447.5" y1="79.96249999999999" x2="447.5" y2="82.3625" stroke="#e8544e" stroke-width="0.5" /><line x1="446.7" y1="79.96249999999999" x2="448.3" y2="79.96249999999999" stroke="#e8544e" stroke-width="0.4" /><line x1="446.7" y1="82.3625" x2="448.3" y2="82.3625" stroke="#e8544e" stroke-width="0.4" /><circle cx="447.5" cy="81.2" r="0.9" fill="#e8544e"/><line x1="460.09999999999997" y1="78.57499999999999" x2="460.09999999999997" y2="80.975" stroke="#e8544e" stroke-width="0.5" /><line x1="459.29999999999995" y1="78.57499999999999" x2="460.9" y2="78.57499999999999" stroke="#e8544e" stroke-width="0.4" /><line x1="459.29999999999995" y1="80.975" x2="460.9" y2="80.975" stroke="#e8544e" stroke-width="0.4" /><circle cx="460.1" cy="79.8" r="0.9" fill="#e8544e"/><line x1="472.7" y1="58.2125" x2="472.7" y2="63.4125" stroke="#e8544e" stroke-width="0.5" /><line x1="471.9" y1="58.2125" x2="473.5" y2="58.2125" stroke="#e8544e" stroke-width="0.4" /><line x1="471.9" y1="63.4125" x2="473.5" y2="63.4125" stroke="#e8544e" stroke-width="0.4" /><circle cx="472.7" cy="60.8" r="0.9" fill="#e8544e"/><line x1="485.29999999999995" y1="30.924999999999997" x2="485.29999999999995" y2="36.125" stroke="#e8544e" stroke-width="0.5" /><line x1="484.49999999999994" y1="30.924999999999997" x2="486.09999999999997" y2="30.924999999999997" stroke="#e8544e" stroke-width="0.4" /><line x1="484.49999999999994" y1="36.125" x2="486.09999999999997" y2="36.125" stroke="#e8544e" stroke-width="0.4" /><circle cx="485.3" cy="33.5" r="0.9" fill="#e8544e"/><line x1="497.9" y1="23.98749999999999" x2="497.9" y2="29.187499999999993" stroke="#e8544e" stroke-width="0.5" /><line x1="497.09999999999997" y1="23.98749999999999" x2="498.7" y2="23.98749999999999" stroke="#e8544e" stroke-width="0.4" /><line x1="497.09999999999997" y1="29.187499999999993" x2="498.7" y2="29.187499999999993" stroke="#e8544e" stroke-width="0.4" /><circle cx="497.9" cy="26.6" r="0.9" fill="#e8544e"/><line x1="535.7" y1="18.9" x2="535.7" y2="24.1" stroke="#e8544e" stroke-width="0.5" /><line x1="534.9000000000001" y1="18.9" x2="536.5" y2="18.9" stroke="#e8544e" stroke-width="0.4" /><line x1="534.9000000000001" y1="24.1" x2="536.5" y2="24.1" stroke="#e8544e" stroke-width="0.4" /><circle cx="535.7" cy="21.5" r="0.9" fill="#e8544e"/><line x1="435.7" y1="8.4" x2="445.3" y2="8.4" stroke="#2cb86a" stroke-width="0.9" /><circle cx="440.5" cy="8.4" r="1.0" fill="#2cb86a"/><text x="447.9" y="10.200000000000001" font-family="Liberation Serif" font-size="5.3" font-weight="bold" font-style="normal" fill="#222" text-anchor="start" >PEEK</text><line x1="435.7" y1="14.4" x2="445.3" y2="14.4" stroke="#e8544e" stroke-width="0.9" /><circle cx="440.5" cy="14.4" r="1.0" fill="#e8544e"/><text x="447.9" y="16.2" font-family="Liberation Serif" font-size="5.3" font-weight="bold" font-style="normal" fill="#222" text-anchor="start" >SP@GelMA</text><line x1="435.7" y1="20.4" x2="445.3" y2="20.4" stroke="#5a9ee0" stroke-width="0.9" /><circle cx="440.5" cy="20.4" r="1.0" fill="#5a9ee0"/><text x="447.9" y="22.2" font-family="Liberation Serif" font-size="5.3" font-weight="bold" font-style="normal" fill="#222" text-anchor="start" >SP@MX/GelMA</text><line x1="435.7" y1="26.4" x2="445.3" y2="26.4" stroke="#f09a50" stroke-width="0.9" /><circle cx="440.5" cy="26.4" r="1.0" fill="#f09a50"/><text x="447.9" y="28.2" font-family="Liberation Serif" font-size="5.3" font-weight="bold" font-style="normal" fill="#222" text-anchor="start" >SP@MX-TOB/GelMA</text><text x="537.0" y="12.0" font-family="Liberation Serif" font-size="7.6" font-weight="bold" font-style="italic" fill="#111" text-anchor="end" >E. coli</text><text x="316.5" y="118.7" font-family="Liberation Serif" font-size="6.2" font-weight="bold" font-style="normal" fill="#1a1a1a" text-anchor="start" stroke="#1a1a1a" stroke-width="0.18" textLength="17.2" lengthAdjust="spacingAndGlyphs">PEEK</text><text x="382.0" y="118.7" font-family="Liberation Serif" font-size="6.2" font-weight="bold" font-style="normal" fill="#1a1a1a" text-anchor="start" stroke="#1a1a1a" stroke-width="0.18" textLength="8.6" lengthAdjust="spacingAndGlyphs">SP</text><text x="425.6" y="118.7" font-family="Liberation Serif" font-size="6.2" font-weight="bold" font-style="normal" fill="#1a1a1a" text-anchor="start" stroke="#1a1a1a" stroke-width="0.18" textLength="45.4" lengthAdjust="spacingAndGlyphs">SP@MX/GelMA</text><text x="480.2" y="118.7" font-family="Liberation Serif" font-size="6.2" font-weight="bold" font-style="normal" fill="#1a1a1a" text-anchor="start" stroke="#1a1a1a" stroke-width="0.18" textLength="60.0" lengthAdjust="spacingAndGlyphs">SP@MX-TOB/GelMA</text><text transform="translate(287.5,172.1) rotate(-90)" font-family="Liberation Serif" font-size="10.2" font-weight="bold" font-style="italic" fill="#111" text-anchor="middle">S. aureus</text><text transform="translate(285.8,283.6) rotate(-90)" font-family="Liberation Serif" font-size="9.8" font-weight="bold" font-style="italic" fill="#111" text-anchor="middle">E. coli</text><g filter="url(#bl)"><rect x="293.6" y="122.3" width="60.6" height="48.4" fill="#575757" /><rect x="293.6" y="122.3" width="60.6" height="48.4" filter="url(#noise)"/><path d="M293.6,141 L354.2,122.3 L354.2,131 L293.6,152 Z" fill="#646464"/><path d="M322,170.7 L354.2,146 L354.2,158 L336,170.7 Z" fill="#6a6a6a"/><ellipse cx="315.9" cy="151.8" rx="9.0" ry="11.1" transform="rotate(12 315.9 151.8)" fill="#2e2e2e" opacity="0.55"/><ellipse cx="315.9" cy="151.8" rx="8.3" ry="10.4" transform="rotate(12 315.9 151.8)" fill="url(#cell)" stroke="#fafafa" stroke-width="0.8"/><ellipse cx="331.1" cy="142.2" rx="10.899999999999999" ry="10.1" transform="rotate(0 331.1 142.2)" fill="#2e2e2e" opacity="0.55"/><ellipse cx="331.1" cy="142.2" rx="10.2" ry="9.4" transform="rotate(0 331.1 142.2)" fill="url(#cell)" stroke="#fafafa" stroke-width="0.8"/><rect x="356.4" y="122.3" width="60.6" height="48.4" fill="#595959" /><rect x="356.4" y="122.3" width="60.6" height="48.4" filter="url(#noise)"/><path d="M356.4,132 C370,128 380,126 395,124 L395,128 C380,130 370,133 356.4,138 Z" fill="#636363"/><ellipse cx="367.8" cy="151.7" rx="9.299999999999999" ry="8.7" transform="rotate(0 367.8 151.7)" fill="#2e2e2e" opacity="0.55"/><ellipse cx="367.8" cy="151.7" rx="8.6" ry="8.0" transform="rotate(0 367.8 151.7)" fill="url(#cell)" stroke="#fafafa" stroke-width="0.8"/><ellipse cx="380.5" cy="141.2" rx="9.6" ry="9.899999999999999" transform="rotate(0 380.5 141.2)" fill="#2e2e2e" opacity="0.55"/><ellipse cx="380.5" cy="141.2" rx="8.9" ry="9.2" transform="rotate(0 380.5 141.2)" fill="url(#cell)" stroke="#fafafa" stroke-width="0.8"/><ellipse cx="398.5" cy="143.0" rx="9.6" ry="9.299999999999999" transform="rotate(0 398.5 143.0)" fill="#2e2e2e" opacity="0.55"/><ellipse cx="398.5" cy="143.0" rx="8.9" ry="8.6" transform="rotate(0 398.5 143.0)" fill="url(#cell)" stroke="#fafafa" stroke-width="0.8"/><ellipse cx="404.8" cy="156.1" rx="9.6" ry="9.299999999999999" transform="rotate(0 404.8 156.1)" fill="#2e2e2e" opacity="0.55"/><ellipse cx="404.8" cy="156.1" rx="8.9" ry="8.6" transform="rotate(0 404.8 156.1)" fill="url(#cell)" stroke="#fafafa" stroke-width="0.8"/><path d="M381,164 l3,-2 l3,3 l-3,3 z" fill="#9a9a9a"/><rect x="417.5" y="122.3" width="60.6" height="48.4" fill="#6c6c6c" /><rect x="417.5" y="122.3" width="60.6" height="48.4" filter="url(#noise)"/><path d="M424,122.3 L444,122.3 L440,131 L428,131 Z" fill="#4a4a4a"/><path d="M417.5,148 C425,150 433,152 437,160 L437,170.7 L417.5,170.7 Z" fill="#1a1a1a"/><path d="M417.5,125 L424,122.3 L421,146 L417.5,148 Z" fill="#5a5a5a"/><path d="M466,128 C472,135 476,150 472,170.7 L477.5,170.7 L477.5,122.3 L470,122.3 Z" fill="#7c7c7c"/><path d="M455,140 C462,150 466,160 462,170.7 L470,170.7 C472,160 468,148 460,138 Z" fill="#8a8a8a"/><ellipse cx="447.4" cy="133.0" rx="6.3" ry="6.3" transform="rotate(0 447.4 133.0)" fill="#2e2e2e" opacity="0.55"/><ellipse cx="447.4" cy="133.0" rx="5.6" ry="5.6" transform="rotate(0 447.4 133.0)" fill="url(#cell2)" stroke="#fafafa" stroke-width="0.8"/><ellipse cx="434.1" cy="139.6" rx="5.7" ry="5.7" transform="rotate(0 434.1 139.6)" fill="#2e2e2e" opacity="0.55"/><ellipse cx="434.1" cy="139.6" rx="5.0" ry="5.0" transform="rotate(0 434.1 139.6)" fill="url(#cell2)" stroke="#fafafa" stroke-width="0.8"/><ellipse cx="445.1" cy="146.8" rx="5.6000000000000005" ry="5.6000000000000005" transform="rotate(0 445.1 146.8)" fill="#2e2e2e" opacity="0.55"/><ellipse cx="445.1" cy="146.8" rx="4.9" ry="4.9" transform="rotate(0 445.1 146.8)" fill="url(#cell2)" stroke="#fafafa" stroke-width="0.8"/><ellipse cx="452.0" cy="153.0" rx="5.7" ry="5.7" transform="rotate(0 452.0 153.0)" fill="#2e2e2e" opacity="0.55"/><ellipse cx="452.0" cy="153.0" rx="5.0" ry="5.0" transform="rotate(0 452.0 153.0)" fill="url(#cell2)" stroke="#fafafa" stroke-width="0.8"/><ellipse cx="458.9" cy="152.2" rx="4.8" ry="4.8" transform="rotate(0 458.9 152.2)" fill="#2e2e2e" opacity="0.55"/><ellipse cx="458.9" cy="152.2" rx="4.1" ry="4.1" transform="rotate(0 458.9 152.2)" fill="url(#cell2)" stroke="#fafafa" stroke-width="0.8"/><ellipse cx="448.2" cy="157.6" rx="4.7" ry="4.7" transform="rotate(0 448.2 157.6)" fill="#2e2e2e" opacity="0.55"/><ellipse cx="448.2" cy="157.6" rx="4.0" ry="4.0" transform="rotate(0 448.2 157.6)" fill="url(#cell2)" stroke="#fafafa" stroke-width="0.8"/><ellipse cx="460.5" cy="162.2" rx="4.7" ry="4.7" transform="rotate(0 460.5 162.2)" fill="#2e2e2e" opacity="0.55"/><ellipse cx="460.5" cy="162.2" rx="4.0" ry="4.0" transform="rotate(0 460.5 162.2)" fill="url(#cell2)" stroke="#fafafa" stroke-width="0.8"/><ellipse cx="440.5" cy="153" rx="4.3" ry="4.3" transform="rotate(0 440.5 153)" fill="#2e2e2e" opacity="0.55"/><ellipse cx="440.5" cy="153" rx="3.6" ry="3.6" transform="rotate(0 440.5 153)" fill="url(#cell2)" stroke="#fafafa" stroke-width="0.8"/><path d="M459,133.5 l3.2,-4.2 l1.8,1.3 l1.1,-2.7 l0.3,5.3 l-4.5,-0.9 l1.6,-0.9 l-2,3 z" fill="#3ce03a" stroke="#3ce03a" stroke-width="0.8"/><rect x="479.9" y="122.3" width="60.6" height="48.4" fill="#767676" /><rect x="479.9" y="122.3" width="60.6" height="48.4" filter="url(#noise)"/><ellipse cx="500.2" cy="132.3" rx="5.0" ry="6.0" fill="#222" stroke="#c4c4c4" stroke-width="1.5"/><ellipse cx="512.5" cy="147.5" rx="6.8" ry="9.0" fill="#222" stroke="#c4c4c4" stroke-width="1.5"/><ellipse cx="483.5" cy="135.3" rx="3.8" ry="5.5" fill="#222" stroke="#c4c4c4" stroke-width="1.5"/><ellipse cx="534.0" cy="129.2" rx="5.5" ry="6.2" fill="#222" stroke="#c4c4c4" stroke-width="1.5"/><ellipse cx="535.5" cy="141.5" rx="3.0" ry="3.5" fill="#222" stroke="#c4c4c4" stroke-width="1.5"/><ellipse cx="482.6" cy="156.3" rx="3.5" ry="6.5" fill="#222" stroke="#c4c4c4" stroke-width="1.5"/><ellipse cx="517.5" cy="165.5" rx="3.0" ry="2.6" fill="#222" stroke="#c4c4c4" stroke-width="1.5"/><ellipse cx="533.0" cy="158.5" rx="4.0" ry="5.0" fill="#222" stroke="#c4c4c4" stroke-width="1.5"/><ellipse cx="496" cy="168.5" rx="3" ry="2" fill="#222" stroke="#c4c4c4" stroke-width="1.5"/><path d="M503,140 C506,136 512,135 518,137" stroke="#d8d8d8" stroke-width="1.4" fill="none"/><ellipse cx="497.5" cy="157.5" rx="3.9000000000000004" ry="3.9000000000000004" transform="rotate(0 497.5 157.5)" fill="#2e2e2e" opacity="0.55"/><ellipse cx="497.5" cy="157.5" rx="3.2" ry="3.2" transform="rotate(0 497.5 157.5)" fill="url(#cell2)" stroke="#fafafa" stroke-width="0.8"/><ellipse cx="502.5" cy="160.5" rx="3.7" ry="3.7" transform="rotate(0 502.5 160.5)" fill="#2e2e2e" opacity="0.55"/><ellipse cx="502.5" cy="160.5" rx="3.0" ry="3.0" transform="rotate(0 502.5 160.5)" fill="url(#cell2)" stroke="#fafafa" stroke-width="0.8"/><ellipse cx="500" cy="155" rx="3.3" ry="3.3" transform="rotate(0 500 155)" fill="#2e2e2e" opacity="0.55"/><ellipse cx="500" cy="155" rx="2.6" ry="2.6" transform="rotate(0 500 155)" fill="url(#cell2)" stroke="#fafafa" stroke-width="0.8"/><ellipse cx="506.5" cy="157.2" rx="3.3" ry="3.3" transform="rotate(0 506.5 157.2)" fill="#2e2e2e" opacity="0.55"/><ellipse cx="506.5" cy="157.2" rx="2.6" ry="2.6" transform="rotate(0 506.5 157.2)" fill="url(#cell2)" stroke="#fafafa" stroke-width="0.8"/><ellipse cx="523.2" cy="132.8" rx="3.7" ry="3.7" transform="rotate(0 523.2 132.8)" fill="#2e2e2e" opacity="0.55"/><ellipse cx="523.2" cy="132.8" rx="3.0" ry="3.0" transform="rotate(0 523.2 132.8)" fill="url(#cell2)" stroke="#fafafa" stroke-width="0.8"/><ellipse cx="524.5" cy="136.8" rx="3.2" ry="3.2" transform="rotate(0 524.5 136.8)" fill="#2e2e2e" opacity="0.55"/><ellipse cx="524.5" cy="136.8" rx="2.5" ry="2.5" transform="rotate(0 524.5 136.8)" fill="url(#cell2)" stroke="#fafafa" stroke-width="0.8"/><path d="M511,126 l3.5,0.2 l0.5,-1.5 l2.4,3.6 l-2.4,2.6 l-0.2,-1.6 l-3.5,-0.4 z" fill="#3ce03a" stroke="#3ce03a" stroke-width="0.8"/><path d="M492,144.5 l3.2,0.4 l0.4,-1.5 l2.6,3.8 l-2.6,2.4 l-0.2,-1.5 l-3.2,-0.6 z" fill="#3ce03a" stroke="#3ce03a" stroke-width="0.8"/><rect x="293.6" y="235.9" width="60.6" height="49.2" fill="#5e5e5e" /><rect x="293.6" y="235.9" width="60.6" height="49.2" filter="url(#noise)"/><path d="M310,238 C322,236 335,242 340,252 C330,250 318,246 310,238 Z" fill="#6c6c6c"/><path d="M304,268 C308,264 314,266 316,270 C314,276 306,276 304,272 Z" fill="#b8b8b8"/><circle cx="310" cy="266" r="1.6" fill="#c8c8c8"/><g transform="translate(300.5,247.5) rotate(24.85)"><rect x="-4.3" y="-4.3" width="59.292109839697936" height="8.6" rx="4.3" fill="#333" opacity="0.45"/><rect x="-3.7" y="-3.7" width="58.09210983969793" height="7.4" rx="3.7" fill="url(#rodg)" stroke="#f4f4f4" stroke-width="0.7"/></g><rect x="356.4" y="235.9" width="60.6" height="49.2" fill="#585858" /><rect x="356.4" y="235.9" width="60.6" height="49.2" filter="url(#noise)"/><path d="M370.6,236 C371,244 372,250 378.4,255.1 M356.6,263.5 C360,262 366,261.5 372.2,265.3 C375.5,268 376,274 373.8,280 M356.6,252.8 C357,249 358,247.5 360.5,246 M402.9,236.5 C400,244 400.5,250 401.3,256 C402,263 403,268 405,271 C407,273 409,274.6 411,275 M408.1,236.5 C406.5,243 406,250 406.6,256 C407.5,262 408.5,266 410,268.5 C412,270.5 414.5,271.5 416.8,271.5 M386.3,265.3 C390,266 394,268 395.6,270 C397,273 397,278 396,284" stroke="#c6c6c6" stroke-width="1.5" fill="none"/><g transform="translate(388.6,242.8) rotate(107.41)"><rect x="-5.0" y="-5.0" width="48.775765627515355" height="10.0" rx="5.0" fill="#333" opacity="0.45"/><rect x="-4.4" y="-4.4" width="47.57576562751535" height="8.8" rx="4.4" fill="url(#rodg)" stroke="#f4f4f4" stroke-width="0.7"/></g><rect x="417.5" y="235.9" width="60.6" height="49.2" fill="#6a6a6a" /><rect x="417.5" y="235.9" width="60.6" height="49.2" filter="url(#noise)"/><line x1="437" y1="261.5" x2="466.5" y2="240" stroke="#1c1c1c" stroke-width="4" stroke-linecap="round"/><path d="M425,259 C428,256 432,257 434,262 L436,270 L430,272 C427,268 425,264 425,259 Z" fill="#c4c4c4" stroke="#eee" stroke-width="0.6"/><g transform="translate(470.0,245.5) rotate(139.73)"><rect x="-5.8" y="-5.8" width="58.78315377335432" height="11.6" rx="5.8" fill="#333" opacity="0.45"/><rect x="-5.2" y="-5.2" width="57.58315377335432" height="10.4" rx="5.2" fill="url(#rodg)" stroke="#f4f4f4" stroke-width="0.7"/></g><path d="M425.2,247 l1.8,-0.4 l1.6,1.8 l0.2,3.2 l-1.6,0.9 l-1.6,-1.6 z" fill="#ee1010" stroke="#ee1010" stroke-width="0.8"/><rect x="479.9" y="235.9" width="60.6" height="49.2" fill="#5c5c5c" /><rect x="479.9" y="235.9" width="60.6" height="49.2" filter="url(#noise)"/><path d="M480,238 A6,5 0 0 0 490,238 L490,235.9 L480,235.9 Z" fill="#9a9a9a" stroke="#e8e8e8" stroke-width="1"/><path d="M515,244 C520,244 521,252 519,256 C517,259 513,259 511,257 C509,260 509,266 508,270 C507,276 503,278 501,275 C499,271 500,264 503,260 C505,257 507,255 509,252 C509,247 511,244 515,244 Z" fill="#b0b0b0" stroke="#f2f2f2" stroke-width="1"/><path d="M503,245 l3.5,0.5 l0.5,2.6 l-3,0.8 l-1.6,-2 z" fill="#ee1010" stroke="#ee1010" stroke-width="1"/><path d="M512.5,265.5 l3.5,-0.5 l1.6,1.8 l-1.2,1.8 l-3.4,-0.4 z" fill="#ee1010" stroke="#ee1010" stroke-width="1"/></g><rect x="339.0" y="166.7" width="11.4" height="1.4" fill="#fff" /><rect x="339.0" y="280.6" width="11.4" height="1.4" fill="#fff" /><rect x="401.79999999999995" y="166.7" width="11.4" height="1.4" fill="#fff" /><rect x="401.79999999999995" y="280.6" width="11.4" height="1.4" fill="#fff" /><rect x="462.9" y="166.7" width="11.4" height="1.4" fill="#fff" /><rect x="462.9" y="280.6" width="11.4" height="1.4" fill="#fff" /><rect x="525.3" y="166.7" width="11.4" height="1.4" fill="#fff" /><rect x="525.3" y="280.6" width="11.4" height="1.4" fill="#fff" /><text x="344" y="164.5" font-family="Liberation Sans" font-size="3.2" font-weight="normal" font-style="normal" fill="#fff" text-anchor="middle" >500nm</text><text x="344" y="278.4" font-family="Liberation Sans" font-size="3.2" font-weight="normal" font-style="normal" fill="#fff" text-anchor="middle" >500nm</text><rect x="293.6" y="229.3" width="246.8" height="1.5" fill="#111" /><g filter="url(#bl)"><circle cx="323.9" cy="200.7" r="25.2" fill="url(#p1)"/></g><g filter="url(#bl)"><circle cx="323.2" cy="201.0" r="3.3" fill="#c8bc98"/><circle cx="323.2" cy="201.0" r="2.6" fill="#ece2bc"/></g><g filter="url(#bl)"><circle cx="385.9" cy="200.8" r="25.2" fill="url(#p2)"/></g><g filter="url(#bl)"><circle cx="384.2" cy="200.6" r="3.3" fill="#c8bc98"/><circle cx="384.2" cy="200.6" r="2.6" fill="#ece2bc"/></g><g filter="url(#bl)"><circle cx="448.4" cy="200.8" r="25.4" fill="url(#p3)"/></g><g filter="url(#bl)"><circle cx="447.6" cy="201.1" r="3.3" fill="#d09a70"/><circle cx="447.6" cy="201.1" r="2.6" fill="#f0c49a"/></g><g filter="url(#bl)"><circle cx="509.7" cy="201.2" r="25.4" fill="url(#p4)"/></g><g filter="url(#bl4)"><circle cx="510.3" cy="201.9" r="8.15" fill="none" stroke="#a83a3a" stroke-width="2.3000000000000007" opacity="0.75"/><circle cx="510.3" cy="201.9" r="4.6" fill="#34443c"/></g><g filter="url(#bl)"><circle cx="510.3" cy="201.9" r="3.3" fill="#c8bc98"/><circle cx="510.3" cy="201.9" r="2.6" fill="#f0dcb0"/></g><g filter="url(#bl)"><circle cx="323.8" cy="314.8" r="25.3" fill="url(#pe1)"/></g><g filter="url(#bl)"><circle cx="323.0" cy="314.6" r="3.7" fill="#e8e0c0"/><circle cx="323.0" cy="314.6" r="3.0" fill="#f4e8bc"/></g><g filter="url(#bl)"><circle cx="385.3" cy="313.7" r="25.1" fill="url(#pe2)"/></g><g filter="url(#bl)"><circle cx="386.2" cy="312.2" r="3.3" fill="#c8bc98"/><circle cx="386.2" cy="312.2" r="2.6" fill="#ecd4a8"/></g><g filter="url(#bl)"><circle cx="447.5" cy="313.5" r="25.0" fill="url(#pe3)"/></g><g filter="url(#bl)"><circle cx="446.6" cy="314.1" r="2.7" fill="#d0b890"/><circle cx="446.6" cy="314.1" r="2.0" fill="#a08868"/></g><g filter="url(#bl)"><circle cx="509.7" cy="313.5" r="25.4" fill="url(#pe4)"/></g><g filter="url(#bl4)"><circle cx="508.1" cy="313.6" r="7.3" fill="none" stroke="#a83a3a" stroke-width="4.6" opacity="0.6"/><circle cx="508.1" cy="313.6" r="4.6" fill="#34443c"/></g><g filter="url(#bl)"><circle cx="508.1" cy="313.6" r="3.5" fill="#c8bc98"/><circle cx="508.1" cy="313.6" r="2.8" fill="#f4dcb4"/></g><rect x="343.9" y="224.0" width="6.0" height="1.7" fill="#000" /><rect x="407.7" y="224.4" width="6.0" height="1.7" fill="#000" /><rect x="469" y="221.6" width="6.0" height="1.7" fill="#000" /><rect x="531.6" y="224.0" width="6.0" height="1.7" fill="#000" /><rect x="343.6" y="337.2" width="6.0" height="1.7" fill="#000" /><rect x="407.7" y="337.2" width="6.0" height="1.7" fill="#000" /><rect x="468.5" y="337.4" width="6.0" height="1.7" fill="#000" /><rect x="530.9" y="337.6" width="6.0" height="1.7" fill="#000" /><text x="344.1" y="222.7" font-family="Liberation Serif" font-size="5.7" font-weight="bold" font-style="normal" fill="#111" text-anchor="middle" >10mm</text><text x="344.0" y="335.9" font-family="Liberation Serif" font-size="5.7" font-weight="bold" font-style="normal" fill="#111" text-anchor="middle" >10mm</text><rect x="278.6" y="324.6" width="16.6" height="15.2" fill="#000" /><text x="282.8" y="336.0" font-family="Liberation Sans" font-size="9" font-weight="bold" font-style="normal" fill="#fff" text-anchor="start" stroke="#fff" stroke-width="0.3" >C.</text></svg></body></html>
